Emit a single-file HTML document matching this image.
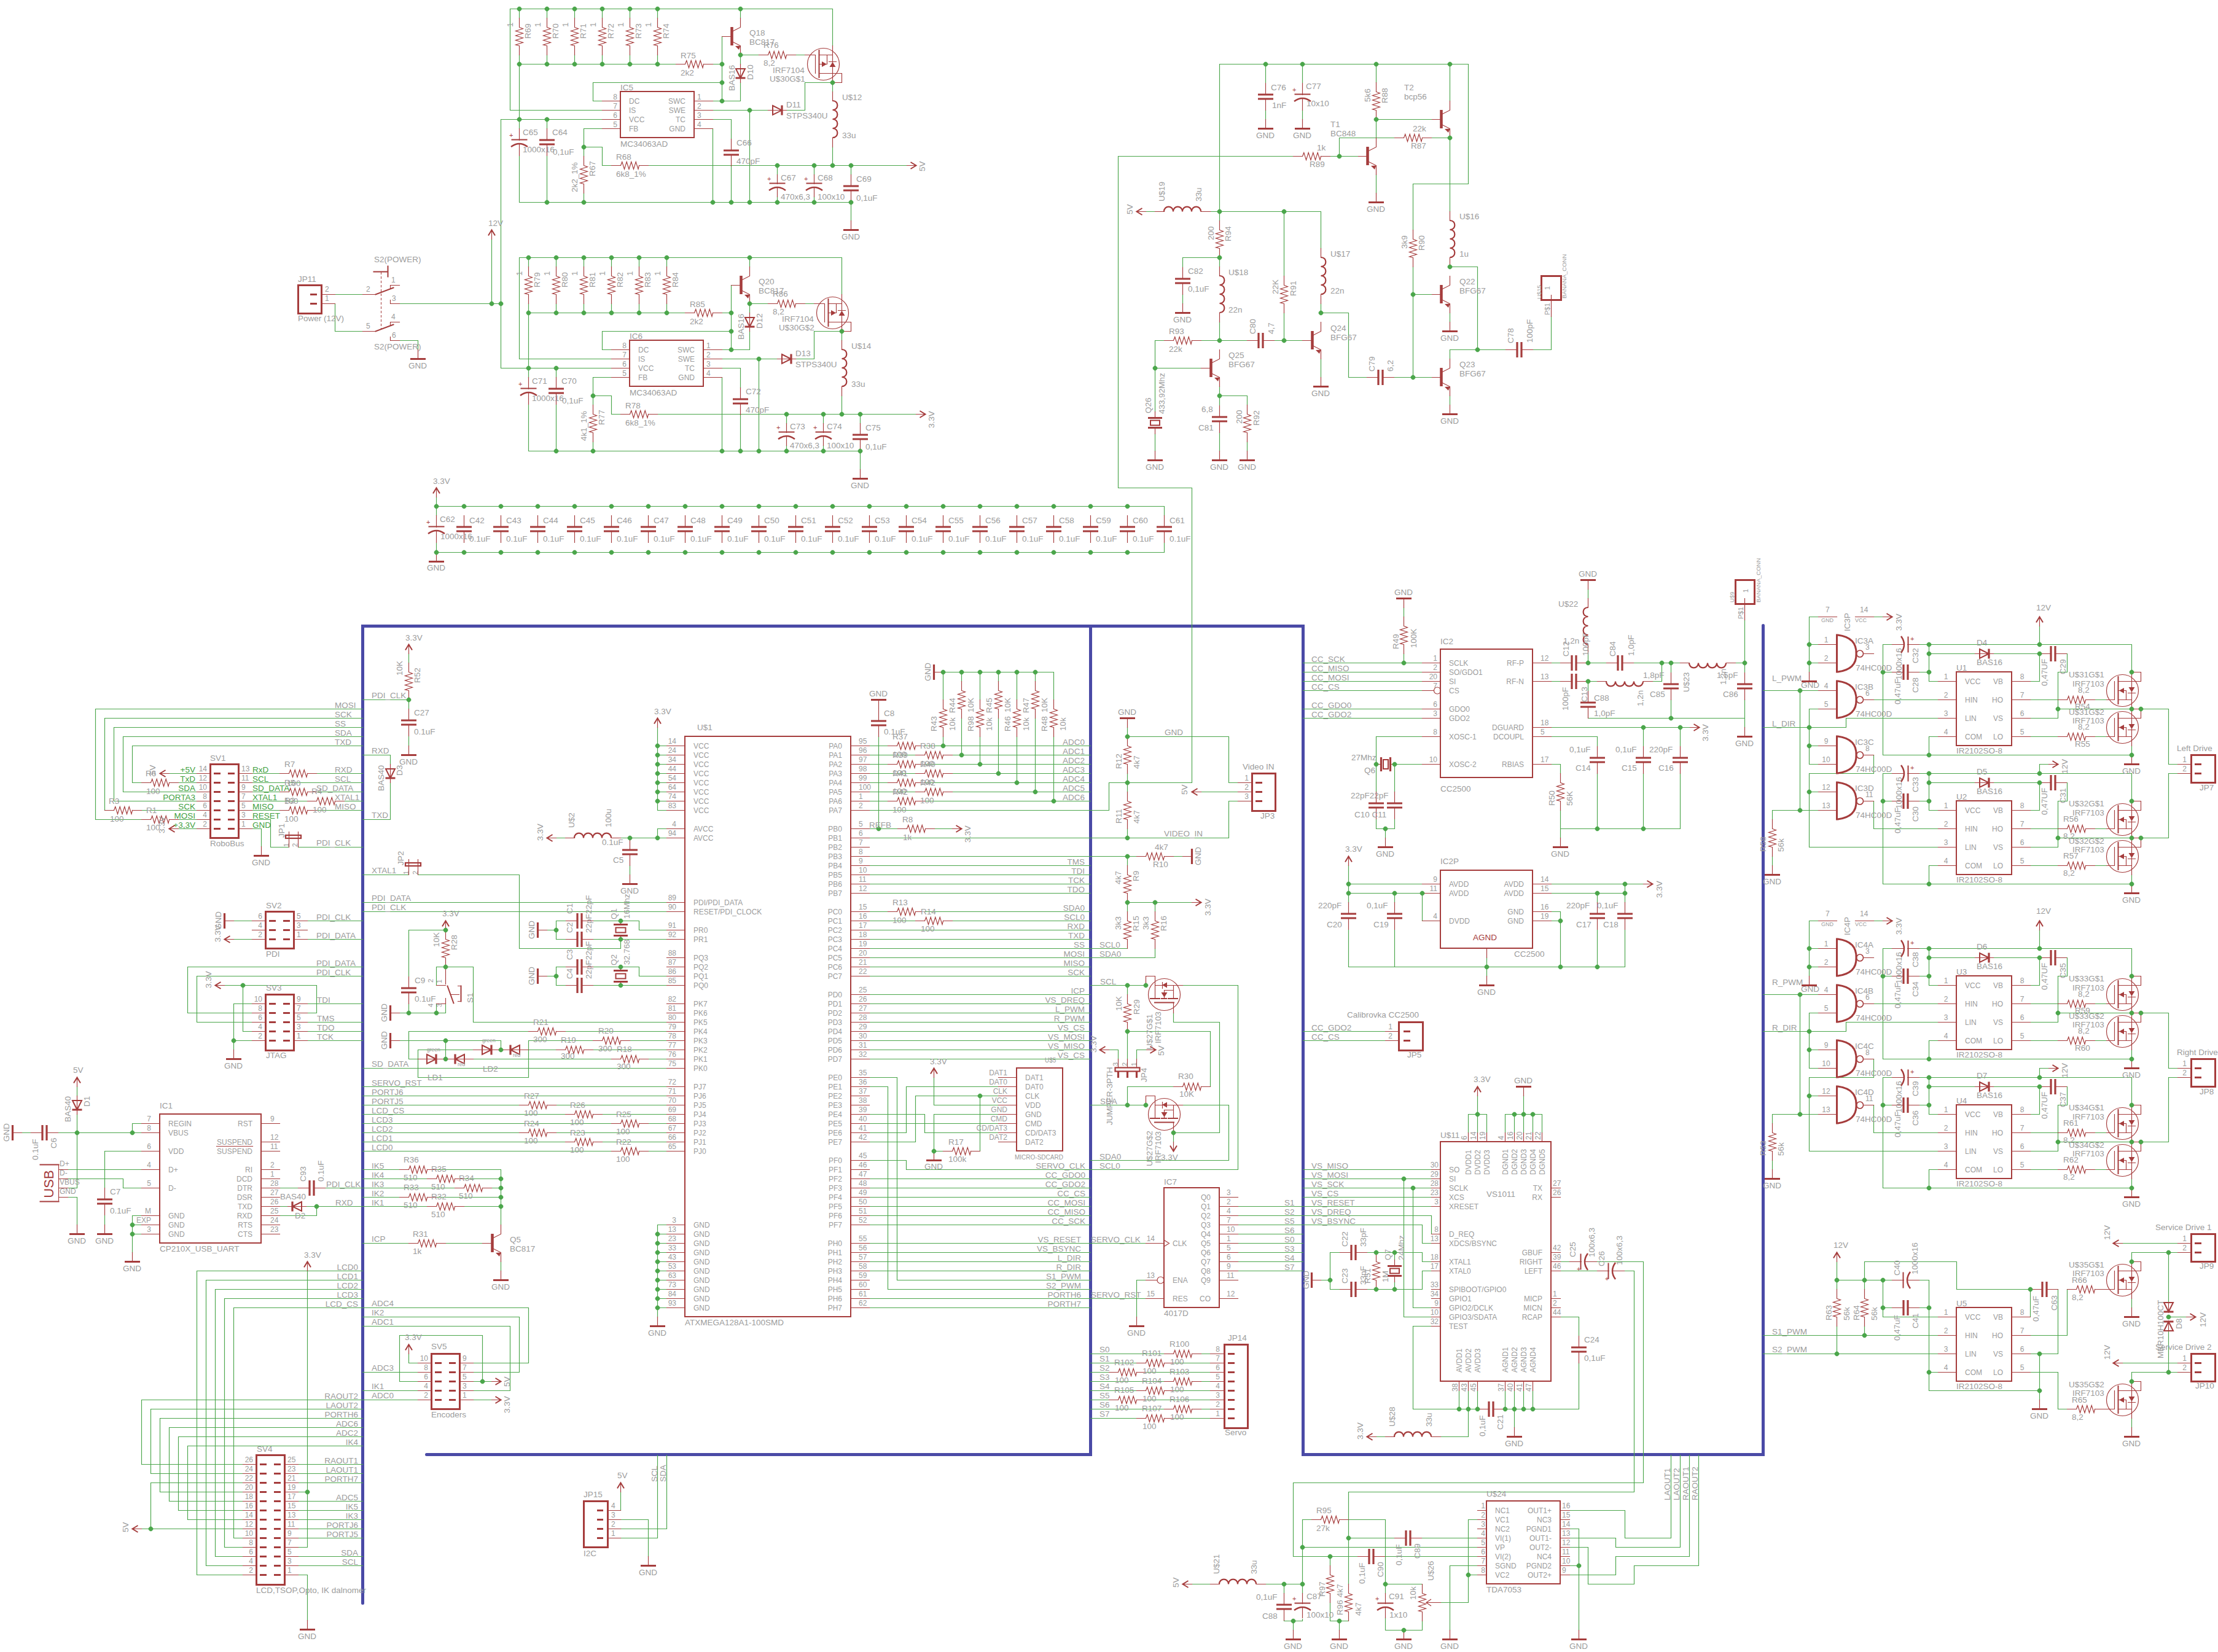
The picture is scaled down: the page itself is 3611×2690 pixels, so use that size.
<!DOCTYPE html>
<html><head><meta charset="utf-8"><style>
html,body{margin:0;padding:0;background:#fff;}
body{width:3611px;height:2690px;overflow:hidden;}
svg{display:block;}
text{font-family:"Liberation Sans",sans-serif;}
</style></head><body>
<svg width="3611" height="2690" viewBox="0 0 3611 2690">
<g fill="none" stroke-linecap="square">
<path d="M590.5 2610.5L590.5 1019.5L2121.5 1019.5L2121.5 2368.5L2870.5 2368.5L2870.5 1018.5M694.5 2368.5L1775.5 2368.5L1775.5 1019.5" stroke="#4a4aa6" stroke-width="5" stroke-linecap="round"/>
<path d="M830.5 14.5L1355.5 14.5L1355.5 74.5M845.5 14.5L845.5 29.5M845.5 89.5L845.5 104.5M890.5 14.5L890.5 29.5M890.5 89.5L890.5 104.5M935.5 14.5L935.5 29.5M935.5 89.5L935.5 104.5M980.5 14.5L980.5 29.5M980.5 89.5L980.5 104.5M1025.5 14.5L1025.5 29.5M1025.5 89.5L1025.5 104.5M1070.5 14.5L1070.5 29.5M1070.5 89.5L1070.5 104.5M830.5 14.5L830.5 179.5L980.5 179.5M845.5 104.5L1100.5 104.5M1160.5 104.5L1175.5 104.5M845.5 104.5L845.5 209.5M845.5 254.5L845.5 329.5L1385.5 329.5M815.5 194.5L980.5 194.5M890.5 194.5L890.5 209.5M890.5 254.5L890.5 329.5M980.5 164.5L965.5 164.5L965.5 134.5L1175.5 134.5M1175.5 59.5L1175.5 164.5M980.5 209.5L950.5 209.5L950.5 254.5M950.5 314.5L950.5 329.5M950.5 239.5L980.5 239.5L980.5 269.5L995.5 269.5M1055.5 269.5L1476.5 269.5M1160.5 164.5L1205.5 164.5L1205.5 134.5M1160.5 209.5L1160.5 329.5M1160.5 194.5L1190.5 194.5L1190.5 226.5M1190.5 270.5L1190.5 329.5M1160.5 179.5L1250.5 179.5M1220.5 179.5L1220.5 329.5M1280.5 179.5L1310.5 179.5L1310.5 134.5L1355.5 134.5M1205.5 14.5L1205.5 29.5M1205.5 89.5L1235.5 89.5M1205.5 89.5L1205.5 104.5M1205.5 134.5L1205.5 134.5M1295.5 89.5L1310.5 89.5M1355.5 134.5L1355.5 149.5M1355.5 239.5L1355.5 269.5M1265.5 269.5L1265.5 284.5M1265.5 320.5L1265.5 329.5M1325.5 269.5L1325.5 284.5M1325.5 320.5L1325.5 329.5M1385.5 269.5L1385.5 284.5M1385.5 328.5L1385.5 359.5M845.5 419.5L1370.5 419.5L1370.5 479.5M860.5 419.5L860.5 434.5M860.5 494.5L860.5 509.5M905.5 419.5L905.5 434.5M905.5 494.5L905.5 509.5M950.5 419.5L950.5 434.5M950.5 494.5L950.5 509.5M995.5 419.5L995.5 434.5M995.5 494.5L995.5 509.5M1040.5 419.5L1040.5 434.5M1040.5 494.5L1040.5 509.5M1085.5 419.5L1085.5 434.5M1085.5 494.5L1085.5 509.5M845.5 419.5L845.5 584.5L995.5 584.5M860.5 509.5L1115.5 509.5M1175.5 509.5L1190.5 509.5M860.5 509.5L860.5 614.5M860.5 659.5L860.5 734.5L1400.5 734.5M815.5 599.5L995.5 599.5M905.5 599.5L905.5 614.5M905.5 659.5L905.5 734.5M995.5 569.5L980.5 569.5L980.5 539.5L1190.5 539.5M1190.5 464.5L1190.5 569.5M995.5 614.5L965.5 614.5L965.5 659.5M965.5 719.5L965.5 734.5M965.5 644.5L995.5 644.5L995.5 674.5L1010.5 674.5M1070.5 674.5L1491.5 674.5M1175.5 569.5L1220.5 569.5L1220.5 539.5M1175.5 614.5L1175.5 734.5M1175.5 599.5L1205.5 599.5L1205.5 631.5M1205.5 675.5L1205.5 734.5M1175.5 584.5L1265.5 584.5M1235.5 584.5L1235.5 734.5M1295.5 584.5L1325.5 584.5L1325.5 539.5L1370.5 539.5M1220.5 419.5L1220.5 434.5M1220.5 494.5L1250.5 494.5M1220.5 494.5L1220.5 509.5M1220.5 539.5L1220.5 539.5M1310.5 494.5L1325.5 494.5M1370.5 539.5L1370.5 554.5M1370.5 644.5L1370.5 674.5M1280.5 674.5L1280.5 689.5M1280.5 725.5L1280.5 734.5M1340.5 674.5L1340.5 689.5M1340.5 725.5L1340.5 734.5M1400.5 674.5L1400.5 689.5M1400.5 733.5L1400.5 764.5M815.5 194.5L815.5 599.5M650.5 494.5L815.5 494.5M800.5 494.5L800.5 389.5M545.5 479.5L590.5 479.5M545.5 494.5L545.5 539.5L590.5 539.5M650.5 554.5L680.5 554.5L680.5 569.5M710.5 809.5L710.5 824.5L1895.5 824.5L1895.5 839.5M710.5 899.5L1895.5 899.5L1895.5 884.5M710.5 824.5L710.5 839.5M710.5 884.5L710.5 899.5M710.5 899.5L710.5 899.5M320.5 1259.5L275.5 1259.5M320.5 1274.5L290.5 1274.5M230.5 1274.5L215.5 1274.5L215.5 1214.5L590.5 1214.5M320.5 1289.5L200.5 1289.5L200.5 1199.5L590.5 1199.5M320.5 1304.5L185.5 1304.5L185.5 1184.5L590.5 1184.5M320.5 1319.5L230.5 1319.5M170.5 1319.5L170.5 1169.5L590.5 1169.5M320.5 1334.5L290.5 1334.5M230.5 1334.5L155.5 1334.5L155.5 1154.5L590.5 1154.5M320.5 1349.5L290.5 1349.5M410.5 1259.5L455.5 1259.5M515.5 1259.5L590.5 1259.5M410.5 1274.5L590.5 1274.5M410.5 1289.5L455.5 1289.5M515.5 1289.5L590.5 1289.5M410.5 1304.5L500.5 1304.5M560.5 1304.5L590.5 1304.5M410.5 1319.5L455.5 1319.5M515.5 1319.5L590.5 1319.5M410.5 1334.5L440.5 1334.5L440.5 1379.5L470.5 1379.5M485.5 1379.5L590.5 1379.5M410.5 1349.5L425.5 1349.5L425.5 1378.5M665.5 1064.5L665.5 1079.5M665.5 1139.5L665.5 1154.5M590.5 1139.5L665.5 1139.5M665.5 1199.5L665.5 1214.5M590.5 1229.5L635.5 1229.5L635.5 1244.5M635.5 1274.5L635.5 1334.5L590.5 1334.5M1070.5 1184.5L1070.5 1319.5L1085.5 1319.5M1070.5 1214.5L1085.5 1214.5M1070.5 1229.5L1085.5 1229.5M1070.5 1244.5L1085.5 1244.5M1070.5 1259.5L1085.5 1259.5M1070.5 1274.5L1085.5 1274.5M1070.5 1289.5L1085.5 1289.5M1070.5 1304.5L1085.5 1304.5M1085.5 1349.5L1070.5 1349.5L1070.5 1364.5L1085.5 1364.5M1010.5 1364.5L1070.5 1364.5M905.5 1364.5L920.5 1364.5M1025.5 1409.5L1025.5 1424.5M1085.5 1994.5L1070.5 1994.5L1070.5 2144.5M1070.5 2009.5L1085.5 2009.5M1070.5 2024.5L1085.5 2024.5M1070.5 2039.5L1085.5 2039.5M1070.5 2054.5L1085.5 2054.5M1070.5 2069.5L1085.5 2069.5M1070.5 2084.5L1085.5 2084.5M1070.5 2099.5L1085.5 2099.5M1070.5 2114.5L1085.5 2114.5M1070.5 2129.5L1085.5 2129.5M1415.5 1214.5L1445.5 1214.5M1505.5 1214.5L1775.5 1214.5M1415.5 1229.5L1490.5 1229.5M1550.5 1229.5L1775.5 1229.5M1415.5 1244.5L1445.5 1244.5M1505.5 1244.5L1775.5 1244.5M1415.5 1259.5L1490.5 1259.5M1550.5 1259.5L1775.5 1259.5M1415.5 1274.5L1445.5 1274.5M1505.5 1274.5L1775.5 1274.5M1415.5 1289.5L1490.5 1289.5M1550.5 1289.5L1775.5 1289.5M1415.5 1304.5L1445.5 1304.5M1505.5 1304.5L1775.5 1304.5M1415.5 1319.5L1775.5 1319.5M1535.5 1094.5L1715.5 1094.5M1535.5 1094.5L1535.5 1139.5M1535.5 1199.5L1535.5 1214.5M1565.5 1094.5L1565.5 1109.5M1565.5 1169.5L1565.5 1229.5M1595.5 1094.5L1595.5 1139.5M1595.5 1199.5L1595.5 1244.5M1625.5 1094.5L1625.5 1109.5M1625.5 1169.5L1625.5 1259.5M1655.5 1094.5L1655.5 1139.5M1655.5 1199.5L1655.5 1274.5M1685.5 1094.5L1685.5 1109.5M1685.5 1169.5L1685.5 1289.5M1715.5 1094.5L1715.5 1139.5M1715.5 1199.5L1715.5 1304.5M1430.5 1199.5L1430.5 1349.5M1415.5 1349.5L1461.5 1349.5M1521.5 1349.5L1550.5 1349.5M1415.5 1364.5L1775.5 1364.5M1415.5 1394.5L1775.5 1394.5M1415.5 1409.5L1775.5 1409.5M1415.5 1424.5L1775.5 1424.5M1415.5 1439.5L1775.5 1439.5M1415.5 1454.5L1775.5 1454.5M1415.5 1484.5L1445.5 1484.5M1505.5 1484.5L1775.5 1484.5M1415.5 1499.5L1490.5 1499.5M1550.5 1499.5L1775.5 1499.5M1415.5 1514.5L1775.5 1514.5M1415.5 1529.5L1775.5 1529.5M1415.5 1544.5L1775.5 1544.5M1415.5 1559.5L1775.5 1559.5M1415.5 1574.5L1775.5 1574.5M1415.5 1589.5L1775.5 1589.5M1415.5 1619.5L1775.5 1619.5M1415.5 1634.5L1775.5 1634.5M1415.5 1649.5L1775.5 1649.5M1415.5 1664.5L1775.5 1664.5M1415.5 1679.5L1775.5 1679.5M1415.5 1694.5L1775.5 1694.5M1415.5 1709.5L1775.5 1709.5M1415.5 1724.5L1775.5 1724.5M1415.5 1754.5L1460.5 1754.5L1460.5 2084.5L1775.5 2084.5M1415.5 1769.5L1445.5 1769.5L1445.5 2099.5L1775.5 2099.5M1415.5 1814.5L1505.5 1814.5L1505.5 1844.5L1625.5 1844.5M1415.5 1829.5L1625.5 1829.5M1415.5 1844.5L1475.5 1844.5L1475.5 1769.5L1625.5 1769.5M1415.5 1859.5L1490.5 1859.5L1490.5 1784.5L1625.5 1784.5M1625.5 1799.5L1520.5 1799.5L1520.5 1754.5M1625.5 1814.5L1520.5 1814.5M1520.5 1814.5L1520.5 1874.5L1535.5 1874.5M1595.5 1874.5L1595.5 1784.5M1415.5 1889.5L1475.5 1889.5L1475.5 1904.5L1775.5 1904.5M1415.5 1919.5L1775.5 1919.5M1415.5 1934.5L1775.5 1934.5M1415.5 1949.5L1775.5 1949.5M1415.5 1964.5L1775.5 1964.5M1415.5 1979.5L1775.5 1979.5M1415.5 1994.5L1775.5 1994.5M1415.5 2024.5L1775.5 2024.5M1415.5 2039.5L1775.5 2039.5M1415.5 2054.5L1775.5 2054.5M1415.5 2069.5L1775.5 2069.5M1415.5 2114.5L1775.5 2114.5M1415.5 2129.5L1775.5 2129.5M590.5 1424.5L665.5 1424.5M680.5 1424.5L845.5 1424.5L845.5 1544.5L1010.5 1544.5L1010.5 1529.5M590.5 1469.5L1085.5 1469.5M590.5 1484.5L1085.5 1484.5M1085.5 1514.5L1040.5 1514.5L1040.5 1499.5L965.5 1499.5M1085.5 1529.5L965.5 1529.5M920.5 1499.5L905.5 1499.5L905.5 1529.5L920.5 1529.5M890.5 1514.5L905.5 1514.5M1085.5 1589.5L1040.5 1589.5L1040.5 1574.5L965.5 1574.5M1085.5 1604.5L965.5 1604.5M920.5 1574.5L905.5 1574.5L905.5 1604.5L920.5 1604.5M890.5 1589.5L905.5 1589.5M725.5 1514.5L665.5 1514.5L665.5 1589.5M665.5 1634.5L665.5 1649.5M650.5 1649.5L725.5 1649.5L725.5 1634.5M725.5 1574.5L710.5 1574.5L710.5 1604.5M725.5 1574.5L770.5 1574.5L770.5 1664.5L1085.5 1664.5M710.5 1649.5L710.5 1634.5M650.5 1694.5L815.5 1694.5L815.5 1709.5M725.5 1694.5L725.5 1724.5M590.5 1739.5L1085.5 1739.5M665.5 1679.5L665.5 1724.5L680.5 1724.5M770.5 1724.5L995.5 1724.5M1055.5 1724.5L1085.5 1724.5M665.5 1679.5L860.5 1679.5M920.5 1679.5L1085.5 1679.5M680.5 1709.5L770.5 1709.5M680.5 1709.5L680.5 1754.5L860.5 1754.5L860.5 1694.5L965.5 1694.5M1025.5 1694.5L1085.5 1694.5M860.5 1709.5L905.5 1709.5M965.5 1709.5L1085.5 1709.5M590.5 1769.5L1085.5 1769.5M590.5 1784.5L1085.5 1784.5M590.5 1799.5L845.5 1799.5M905.5 1799.5L1085.5 1799.5M590.5 1814.5L920.5 1814.5M980.5 1814.5L1085.5 1814.5M590.5 1829.5L995.5 1829.5M1055.5 1829.5L1085.5 1829.5M590.5 1844.5L845.5 1844.5M905.5 1844.5L1085.5 1844.5M590.5 1859.5L920.5 1859.5M980.5 1859.5L1085.5 1859.5M590.5 1874.5L995.5 1874.5M1055.5 1874.5L1085.5 1874.5M590.5 1904.5L650.5 1904.5M710.5 1904.5L815.5 1904.5M590.5 1919.5L695.5 1919.5M755.5 1919.5L815.5 1919.5M590.5 1934.5L740.5 1934.5M800.5 1934.5L815.5 1934.5M590.5 1949.5L650.5 1949.5M710.5 1949.5L815.5 1949.5M590.5 1964.5L695.5 1964.5M755.5 1964.5L815.5 1964.5M815.5 1904.5L815.5 1994.5M590.5 2024.5L665.5 2024.5M725.5 2024.5L785.5 2024.5M815.5 2054.5L815.5 2069.5M590.5 2129.5L860.5 2129.5L860.5 2219.5L770.5 2219.5M590.5 2144.5L845.5 2144.5L845.5 2234.5L770.5 2234.5M590.5 2159.5L830.5 2159.5L830.5 2264.5L770.5 2264.5M680.5 2219.5L665.5 2219.5L665.5 2204.5M590.5 2234.5L680.5 2234.5M650.5 2174.5L785.5 2174.5L785.5 2249.5M650.5 2174.5L650.5 2249.5L680.5 2249.5M770.5 2249.5L800.5 2249.5M590.5 2264.5L680.5 2264.5M590.5 2279.5L680.5 2279.5M770.5 2279.5L800.5 2279.5M380.5 1499.5L410.5 1499.5M380.5 1529.5L410.5 1529.5M500.5 1499.5L590.5 1499.5M500.5 1529.5L590.5 1529.5M590.5 1574.5L305.5 1574.5L305.5 1649.5L410.5 1649.5M590.5 1589.5L320.5 1589.5L320.5 1664.5L410.5 1664.5M365.5 1604.5L515.5 1604.5L515.5 1649.5L500.5 1649.5M395.5 1604.5L395.5 1679.5L410.5 1679.5M410.5 1634.5L380.5 1634.5L380.5 1709.5M380.5 1694.5L410.5 1694.5M500.5 1634.5L590.5 1634.5M500.5 1664.5L590.5 1664.5M500.5 1679.5L590.5 1679.5M500.5 1694.5L590.5 1694.5M230.5 1829.5L215.5 1829.5L215.5 1844.5M230.5 1844.5L95.5 1844.5M50.5 1844.5L35.5 1844.5M125.5 1769.5L125.5 1784.5M125.5 1814.5L125.5 1934.5L110.5 1934.5M110.5 1904.5L230.5 1904.5M110.5 1919.5L200.5 1919.5L200.5 1934.5L230.5 1934.5M110.5 1949.5L125.5 1949.5L125.5 1994.5M230.5 1874.5L170.5 1874.5L170.5 1934.5M170.5 1979.5L170.5 1994.5M230.5 1979.5L215.5 1979.5L215.5 2039.5M215.5 1994.5L230.5 1994.5M215.5 2009.5L230.5 2009.5M455.5 1934.5L485.5 1934.5M530.5 1934.5L590.5 1934.5M455.5 1964.5L468.5 1964.5M498.5 1964.5L590.5 1964.5M455.5 1979.5L515.5 1979.5L515.5 1964.5M500.5 2069.5L500.5 2519.5L485.5 2519.5M485.5 2429.5L500.5 2429.5M590.5 2069.5L320.5 2069.5L320.5 2564.5L395.5 2564.5M590.5 2084.5L335.5 2084.5L335.5 2549.5L395.5 2549.5M590.5 2099.5L350.5 2099.5L350.5 2534.5L395.5 2534.5M590.5 2114.5L365.5 2114.5L365.5 2519.5L395.5 2519.5M590.5 2129.5L380.5 2129.5L380.5 2504.5L395.5 2504.5M590.5 2279.5L230.5 2279.5L230.5 2384.5L395.5 2384.5M590.5 2294.5L245.5 2294.5L245.5 2399.5L395.5 2399.5M590.5 2309.5L260.5 2309.5L260.5 2429.5L395.5 2429.5M590.5 2324.5L275.5 2324.5L275.5 2444.5L395.5 2444.5M590.5 2339.5L290.5 2339.5L290.5 2459.5L395.5 2459.5M590.5 2354.5L305.5 2354.5L305.5 2474.5L395.5 2474.5M395.5 2414.5L245.5 2414.5L245.5 2489.5L395.5 2489.5M245.5 2489.5L230.5 2489.5M485.5 2384.5L590.5 2384.5M485.5 2399.5L590.5 2399.5M485.5 2414.5L590.5 2414.5M485.5 2444.5L590.5 2444.5M485.5 2459.5L590.5 2459.5M485.5 2474.5L590.5 2474.5M485.5 2489.5L590.5 2489.5M485.5 2504.5L590.5 2504.5M485.5 2534.5L590.5 2534.5M485.5 2549.5L590.5 2549.5M485.5 2564.5L500.5 2564.5L500.5 2638.5M1985.5 344.5L1985.5 104.5L2390.5 104.5L2390.5 299.5L2300.5 299.5L2300.5 374.5M2060.5 104.5L2060.5 134.5M2060.5 179.5L2060.5 194.5M2120.5 104.5L2120.5 134.5M2120.5 179.5L2120.5 194.5M2240.5 104.5L2240.5 134.5M2240.5 194.5L2331.5 194.5M2360.5 164.5L2360.5 104.5M2240.5 194.5L2240.5 224.5M2240.5 284.5L2240.5 314.5M1820.5 794.5L1820.5 254.5L2105.5 254.5M2165.5 254.5L2211.5 254.5M2180.5 254.5L2180.5 224.5L2270.5 224.5M2330.5 224.5L2360.5 224.5M2360.5 224.5L2360.5 344.5M1865.5 344.5L1880.5 344.5M1970.5 344.5L2150.5 344.5L2150.5 404.5M1985.5 344.5L1985.5 359.5M1985.5 419.5L1925.5 419.5L1925.5 434.5M1925.5 479.5L1925.5 494.5M1985.5 419.5L1985.5 434.5M1985.5 524.5L1985.5 554.5M2090.5 344.5L2090.5 449.5M2090.5 509.5L2090.5 554.5M2150.5 494.5L2150.5 509.5M1880.5 599.5L1880.5 554.5L1895.5 554.5M1955.5 554.5L2030.5 554.5M2074.5 554.5L2120.5 554.5M2150.5 584.5L2150.5 614.5M2150.5 509.5L2195.5 509.5L2195.5 614.5L2225.5 614.5M2269.5 614.5L2331.5 614.5M2300.5 434.5L2300.5 614.5M2300.5 479.5L2331.5 479.5M2360.5 509.5L2360.5 524.5M2360.5 644.5L2360.5 659.5M2360.5 434.5L2405.5 434.5L2405.5 569.5M2360.5 584.5L2360.5 569.5L2450.5 569.5M2495.5 569.5L2525.5 569.5L2525.5 515.5M1880.5 599.5L1955.5 599.5M1985.5 629.5L1985.5 659.5M1985.5 644.5L2030.5 644.5L2030.5 659.5M2030.5 719.5L2030.5 734.5M1985.5 704.5L1985.5 734.5M1880.5 599.5L1880.5 670.5M1880.5 706.5L1880.5 734.5M1820.5 794.5L1940.5 794.5L1940.5 1190.5M2121.5 1079.5L2315.5 1079.5M2121.5 1094.5L2315.5 1094.5M2121.5 1109.5L2315.5 1109.5M2121.5 1124.5L2315.5 1124.5M2121.5 1154.5L2315.5 1154.5M2121.5 1169.5L2315.5 1169.5M2285.5 989.5L2285.5 1004.5M2285.5 1064.5L2285.5 1079.5M2315.5 1199.5L2240.5 1199.5L2240.5 1289.5M2315.5 1244.5L2270.5 1244.5L2270.5 1289.5M2240.5 1334.5L2240.5 1349.5L2270.5 1349.5L2270.5 1334.5M2255.5 1349.5L2255.5 1364.5M2525.5 1079.5L2540.5 1079.5M2585.5 1079.5L2615.5 1079.5M2660.5 1079.5L2735.5 1079.5M2825.5 1079.5L2840.5 1079.5M2525.5 1109.5L2540.5 1109.5M2585.5 1109.5L2600.5 1109.5M2690.5 1109.5L2705.5 1109.5L2705.5 1079.5M2585.5 959.5L2585.5 974.5M2585.5 1064.5L2585.5 1079.5M2585.5 1109.5L2585.5 1124.5M2585.5 1169.5L2840.5 1169.5M2720.5 1079.5L2720.5 1094.5M2720.5 1139.5L2720.5 1169.5M2840.5 1079.5L2840.5 1094.5M2840.5 1139.5L2840.5 1184.5M2840.5 1079.5L2840.5 1009.5M2525.5 1184.5L2751.5 1184.5M2525.5 1199.5L2600.5 1199.5L2600.5 1214.5M2600.5 1259.5L2600.5 1349.5M2675.5 1184.5L2675.5 1214.5M2675.5 1259.5L2675.5 1349.5M2735.5 1184.5L2735.5 1214.5M2735.5 1259.5L2735.5 1349.5M2525.5 1244.5L2540.5 1244.5L2540.5 1259.5M2540.5 1319.5L2540.5 1364.5M2540.5 1349.5L2735.5 1349.5M2420.5 1559.5L2420.5 1589.5M2195.5 1409.5L2195.5 1469.5M2195.5 1439.5L2315.5 1439.5M2195.5 1454.5L2315.5 1454.5L2315.5 1499.5M2270.5 1454.5L2270.5 1469.5M2195.5 1514.5L2195.5 1574.5L2645.5 1574.5M2270.5 1514.5L2270.5 1574.5M2525.5 1439.5L2675.5 1439.5M2525.5 1454.5L2645.5 1454.5M2645.5 1439.5L2645.5 1469.5M2600.5 1454.5L2600.5 1469.5M2600.5 1514.5L2600.5 1574.5M2645.5 1514.5L2645.5 1574.5M2525.5 1484.5L2540.5 1484.5L2540.5 1574.5M2525.5 1499.5L2540.5 1499.5M2121.5 1679.5L2255.5 1679.5M2121.5 1694.5L2255.5 1694.5M2390.5 1844.5L2390.5 1814.5L2420.5 1814.5L2420.5 1844.5M2405.5 1844.5L2405.5 1784.5M2450.5 1844.5L2450.5 1814.5L2510.5 1814.5L2510.5 1844.5M2465.5 1844.5L2465.5 1814.5M2480.5 1844.5L2480.5 1814.5M2495.5 1844.5L2495.5 1814.5M2480.5 1814.5L2480.5 1784.5M2121.5 1904.5L2330.5 1904.5M2121.5 1919.5L2330.5 1919.5M2121.5 1934.5L2330.5 1934.5M2121.5 1949.5L2330.5 1949.5M2121.5 1964.5L2330.5 1964.5M2121.5 1979.5L2330.5 1979.5L2330.5 2009.5M2121.5 1994.5L2315.5 1994.5L2315.5 2024.5L2330.5 2024.5M2300.5 1934.5L2300.5 2129.5L2330.5 2129.5M2285.5 1919.5L2285.5 2144.5L2330.5 2144.5M2330.5 2054.5L2315.5 2054.5L2315.5 2039.5L2225.5 2039.5M2180.5 2039.5L2165.5 2039.5L2165.5 2099.5L2180.5 2099.5M2225.5 2099.5L2315.5 2099.5L2315.5 2069.5L2330.5 2069.5M2150.5 2084.5L2165.5 2084.5M2270.5 2039.5L2270.5 2051.5M2270.5 2087.5L2270.5 2099.5M2540.5 2054.5L2555.5 2054.5M2599.5 2054.5L2675.5 2054.5M2540.5 2069.5L2600.5 2069.5M2644.5 2069.5L2660.5 2069.5M2330.5 2159.5L2300.5 2159.5L2300.5 2294.5L2405.5 2294.5M2450.5 2294.5L2570.5 2294.5L2570.5 2219.5M2570.5 2174.5L2570.5 2144.5L2540.5 2144.5M2375.5 2264.5L2375.5 2294.5M2390.5 2264.5L2390.5 2294.5M2405.5 2264.5L2405.5 2294.5M2450.5 2264.5L2450.5 2294.5M2465.5 2264.5L2465.5 2294.5M2480.5 2264.5L2480.5 2294.5M2495.5 2264.5L2495.5 2294.5M2465.5 2294.5L2465.5 2324.5M2390.5 2294.5L2390.5 2339.5L2345.5 2339.5M2240.5 2339.5L2255.5 2339.5M1835.5 1184.5L1835.5 1199.5M1835.5 1199.5L2000.5 1199.5L2000.5 1274.5L2015.5 1274.5M1835.5 1259.5L1835.5 1289.5M1835.5 1274.5L1805.5 1274.5L1805.5 1319.5L1775.5 1319.5M1835.5 1274.5L1940.5 1274.5L1940.5 1190.5M1835.5 1349.5L1835.5 1364.5M1775.5 1364.5L2000.5 1364.5L2000.5 1304.5L2015.5 1304.5M2015.5 1289.5L1955.5 1289.5M1775.5 1394.5L1850.5 1394.5M1910.5 1394.5L1925.5 1394.5M1835.5 1394.5L1835.5 1409.5M1835.5 1469.5L1835.5 1484.5M1835.5 1469.5L1940.5 1469.5M1880.5 1469.5L1880.5 1484.5M1775.5 1544.5L1835.5 1544.5M1880.5 1544.5L1880.5 1559.5L1775.5 1559.5M1775.5 1604.5L1865.5 1604.5M1925.5 1604.5L2015.5 1604.5L2015.5 1904.5L1775.5 1904.5M1910.5 1649.5L1910.5 1664.5L1985.5 1664.5L1985.5 1844.5L1910.5 1844.5M1835.5 1604.5L1835.5 1619.5M1835.5 1679.5L1835.5 1724.5M1835.5 1679.5L1970.5 1679.5L1970.5 1769.5M1910.5 1769.5L1835.5 1769.5L1835.5 1799.5M1820.5 1724.5L1820.5 1709.5L1805.5 1709.5M1850.5 1724.5L1850.5 1709.5L1866.5 1709.5M1775.5 1799.5L1865.5 1799.5M1925.5 1799.5L2000.5 1799.5L2000.5 1889.5L1775.5 1889.5M1910.5 1844.5L1910.5 1859.5M2015.5 1964.5L2121.5 1964.5M2015.5 1979.5L2121.5 1979.5M2015.5 1994.5L2121.5 1994.5M2015.5 2009.5L2121.5 2009.5M2015.5 2024.5L2121.5 2024.5M2015.5 2039.5L2121.5 2039.5M2015.5 2054.5L2121.5 2054.5M2015.5 2069.5L2121.5 2069.5M1775.5 2024.5L1865.5 2024.5M1775.5 2114.5L1865.5 2114.5M1865.5 2084.5L1850.5 2084.5L1850.5 2144.5M1775.5 2204.5L1895.5 2204.5M1955.5 2204.5L1970.5 2204.5M1775.5 2219.5L1850.5 2219.5M1910.5 2219.5L1970.5 2219.5M1775.5 2234.5L1805.5 2234.5M1865.5 2234.5L1970.5 2234.5M1775.5 2249.5L1895.5 2249.5M1955.5 2249.5L1970.5 2249.5M1775.5 2264.5L1850.5 2264.5M1910.5 2264.5L1970.5 2264.5M1775.5 2279.5L1805.5 2279.5M1865.5 2279.5L1970.5 2279.5M1775.5 2294.5L1895.5 2294.5M1955.5 2294.5L1970.5 2294.5M1775.5 2309.5L1850.5 2309.5M1910.5 2309.5L1970.5 2309.5M1010.5 2459.5L1010.5 2429.5M1010.5 2474.5L1055.5 2474.5L1055.5 2534.5M1010.5 2489.5L1085.5 2489.5L1085.5 2369.5M1010.5 2504.5L1070.5 2504.5L1070.5 2369.5M2660.5 2069.5L2660.5 2429.5L2195.5 2429.5L2195.5 2579.5M2195.5 2504.5L2270.5 2504.5M2314.5 2504.5L2405.5 2504.5M2675.5 2054.5L2675.5 2414.5L2105.5 2414.5L2105.5 2534.5L2210.5 2534.5M2254.5 2534.5L2405.5 2534.5M2135.5 2474.5L2120.5 2474.5L2120.5 2594.5M2195.5 2474.5L2255.5 2474.5L2255.5 2594.5M2120.5 2519.5L2405.5 2519.5M1940.5 2579.5L1970.5 2579.5M2060.5 2579.5L2120.5 2579.5M2090.5 2579.5L2090.5 2594.5M2090.5 2638.5L2090.5 2639.5L2120.5 2639.5L2120.5 2636.5M2105.5 2639.5L2105.5 2654.5M2165.5 2534.5L2165.5 2549.5M2165.5 2609.5L2165.5 2639.5L2195.5 2639.5L2195.5 2639.5M2195.5 2579.5L2195.5 2579.5M2180.5 2639.5L2180.5 2654.5M2255.5 2594.5L2255.5 2594.5M2255.5 2634.5L2255.5 2654.5L2315.5 2654.5L2315.5 2639.5M2285.5 2654.5L2285.5 2654.5M2255.5 2579.5L2315.5 2579.5M2345.5 2609.5L2390.5 2609.5L2390.5 2474.5L2405.5 2474.5M2390.5 2564.5L2405.5 2564.5M2405.5 2549.5L2360.5 2549.5L2360.5 2654.5M2555.5 2459.5L2645.5 2459.5L2645.5 2504.5L2720.5 2504.5L2720.5 2369.5M2555.5 2489.5L2570.5 2489.5L2570.5 2654.5M2555.5 2504.5L2630.5 2504.5L2630.5 2519.5L2735.5 2519.5L2735.5 2369.5M2555.5 2519.5L2585.5 2519.5L2585.5 2579.5L2660.5 2579.5L2660.5 2549.5L2765.5 2549.5L2765.5 2369.5M2555.5 2549.5L2570.5 2549.5M2555.5 2564.5L2630.5 2564.5L2630.5 2534.5L2750.5 2534.5L2750.5 2369.5M2945.5 1004.5L2960.5 1004.5M3050.5 1004.5L3065.5 1004.5M2945.5 1004.5L2945.5 1094.5M2945.5 1049.5L2960.5 1049.5M2945.5 1079.5L2960.5 1079.5M2870.5 1124.5L2960.5 1124.5M2930.5 1124.5L2930.5 1319.5L2960.5 1319.5M2930.5 1319.5L2885.5 1319.5L2885.5 1334.5M2885.5 1394.5L2885.5 1409.5M2960.5 1154.5L2945.5 1154.5L2945.5 1244.5L2960.5 1244.5M2945.5 1214.5L2960.5 1214.5M2870.5 1184.5L3005.5 1184.5L3005.5 1169.5L3155.5 1169.5M3050.5 1139.5L3155.5 1139.5M3050.5 1229.5L3050.5 1259.5L2945.5 1259.5L2945.5 1379.5L3155.5 1379.5M2945.5 1289.5L2960.5 1289.5M3050.5 1304.5L3050.5 1349.5L3155.5 1349.5M3065.5 1049.5L3080.5 1049.5M3125.5 1049.5L3320.5 1049.5M3320.5 1049.5L3470.5 1049.5L3470.5 1094.5M3065.5 1049.5L3065.5 1229.5L3470.5 1229.5M3065.5 1094.5L3080.5 1094.5M3125.5 1094.5L3140.5 1094.5M3140.5 1049.5L3140.5 1109.5L3155.5 1109.5M3155.5 1199.5L3140.5 1199.5L3140.5 1229.5M3140.5 1064.5L3215.5 1064.5M3245.5 1064.5L3320.5 1064.5M3365.5 1064.5L3365.5 1094.5L3350.5 1094.5L3350.5 1169.5L3305.5 1169.5M3305.5 1109.5L3320.5 1109.5L3320.5 1064.5M3305.5 1139.5L3350.5 1139.5M3410.5 1139.5L3429.5 1139.5M3305.5 1199.5L3350.5 1199.5M3410.5 1199.5L3429.5 1199.5M3350.5 1154.5L3530.5 1154.5M3470.5 1214.5L3470.5 1229.5M3065.5 1259.5L3080.5 1259.5M3125.5 1259.5L3320.5 1259.5M3320.5 1259.5L3470.5 1259.5L3470.5 1304.5M3065.5 1259.5L3065.5 1439.5L3470.5 1439.5M3065.5 1304.5L3080.5 1304.5M3125.5 1304.5L3140.5 1304.5M3140.5 1259.5L3140.5 1319.5L3155.5 1319.5M3155.5 1409.5L3140.5 1409.5L3140.5 1439.5M3140.5 1274.5L3215.5 1274.5M3245.5 1274.5L3320.5 1274.5M3365.5 1274.5L3365.5 1304.5L3350.5 1304.5L3350.5 1379.5L3305.5 1379.5M3305.5 1319.5L3320.5 1319.5L3320.5 1274.5M3305.5 1349.5L3350.5 1349.5M3410.5 1349.5L3429.5 1349.5M3305.5 1409.5L3350.5 1409.5M3410.5 1409.5L3429.5 1409.5M3350.5 1364.5L3530.5 1364.5M3470.5 1424.5L3470.5 1439.5M3320.5 1049.5L3320.5 1019.5M3320.5 1259.5L3320.5 1244.5L3335.5 1244.5M3470.5 1229.5L3470.5 1229.5M3470.5 1439.5L3470.5 1439.5M3530.5 1154.5L3530.5 1244.5L3545.5 1244.5M3530.5 1364.5L3530.5 1259.5L3545.5 1259.5M2945.5 1499.5L2960.5 1499.5M3050.5 1499.5L3065.5 1499.5M2945.5 1499.5L2945.5 1589.5M2945.5 1544.5L2960.5 1544.5M2945.5 1574.5L2960.5 1574.5M2870.5 1619.5L2960.5 1619.5M2930.5 1619.5L2930.5 1814.5L2960.5 1814.5M2930.5 1814.5L2885.5 1814.5L2885.5 1829.5M2885.5 1889.5L2885.5 1904.5M2960.5 1649.5L2945.5 1649.5L2945.5 1739.5L2960.5 1739.5M2945.5 1709.5L2960.5 1709.5M2870.5 1679.5L3005.5 1679.5L3005.5 1664.5L3155.5 1664.5M3050.5 1634.5L3155.5 1634.5M3050.5 1724.5L3050.5 1754.5L2945.5 1754.5L2945.5 1874.5L3155.5 1874.5M2945.5 1784.5L2960.5 1784.5M3050.5 1799.5L3050.5 1844.5L3155.5 1844.5M3065.5 1544.5L3080.5 1544.5M3125.5 1544.5L3320.5 1544.5M3320.5 1544.5L3470.5 1544.5L3470.5 1589.5M3065.5 1544.5L3065.5 1724.5L3470.5 1724.5M3065.5 1589.5L3080.5 1589.5M3125.5 1589.5L3140.5 1589.5M3140.5 1544.5L3140.5 1604.5L3155.5 1604.5M3155.5 1694.5L3140.5 1694.5L3140.5 1724.5M3140.5 1559.5L3215.5 1559.5M3245.5 1559.5L3320.5 1559.5M3365.5 1559.5L3365.5 1589.5L3350.5 1589.5L3350.5 1664.5L3305.5 1664.5M3305.5 1604.5L3320.5 1604.5L3320.5 1559.5M3305.5 1634.5L3350.5 1634.5M3410.5 1634.5L3429.5 1634.5M3305.5 1694.5L3350.5 1694.5M3410.5 1694.5L3429.5 1694.5M3350.5 1649.5L3530.5 1649.5M3470.5 1709.5L3470.5 1724.5M3065.5 1754.5L3080.5 1754.5M3125.5 1754.5L3320.5 1754.5M3320.5 1754.5L3470.5 1754.5L3470.5 1799.5M3065.5 1754.5L3065.5 1934.5L3470.5 1934.5M3065.5 1799.5L3080.5 1799.5M3125.5 1799.5L3140.5 1799.5M3140.5 1754.5L3140.5 1814.5L3155.5 1814.5M3155.5 1904.5L3140.5 1904.5L3140.5 1934.5M3140.5 1769.5L3215.5 1769.5M3245.5 1769.5L3320.5 1769.5M3365.5 1769.5L3365.5 1799.5L3350.5 1799.5L3350.5 1874.5L3305.5 1874.5M3305.5 1814.5L3320.5 1814.5L3320.5 1769.5M3305.5 1844.5L3350.5 1844.5M3410.5 1844.5L3429.5 1844.5M3305.5 1904.5L3350.5 1904.5M3410.5 1904.5L3429.5 1904.5M3350.5 1859.5L3530.5 1859.5M3470.5 1919.5L3470.5 1934.5M3320.5 1544.5L3320.5 1514.5M3320.5 1754.5L3320.5 1739.5L3335.5 1739.5M3470.5 1724.5L3470.5 1724.5M3470.5 1934.5L3470.5 1934.5M3530.5 1649.5L3530.5 1739.5L3545.5 1739.5M3530.5 1859.5L3530.5 1754.5L3545.5 1754.5M2870.5 2174.5L3155.5 2174.5M2870.5 2204.5L3155.5 2204.5M2990.5 2054.5L2990.5 2099.5M2990.5 2159.5L2990.5 2204.5M3035.5 2054.5L3035.5 2099.5M3035.5 2159.5L3035.5 2174.5M2990.5 2084.5L3080.5 2084.5M3125.5 2084.5L3140.5 2084.5L3140.5 2264.5L3320.5 2264.5M3035.5 2054.5L3185.5 2054.5L3185.5 2099.5L3305.5 2099.5M3350.5 2099.5L3350.5 2204.5L3305.5 2204.5M3065.5 2084.5L3065.5 2144.5L3155.5 2144.5M3065.5 2129.5L3080.5 2129.5M3125.5 2129.5L3140.5 2129.5M3155.5 2234.5L3140.5 2234.5M3305.5 2144.5L3305.5 2099.5M3305.5 2174.5L3365.5 2174.5L3365.5 2099.5M3425.5 2099.5L3429.5 2099.5M3305.5 2234.5L3350.5 2234.5L3350.5 2294.5L3365.5 2294.5M3320.5 2204.5L3320.5 2279.5M3470.5 2054.5L3470.5 2039.5L3545.5 2039.5M3470.5 2114.5L3470.5 2129.5M3545.5 2234.5L3470.5 2234.5L3470.5 2249.5M3470.5 2309.5L3470.5 2324.5M3530.5 2039.5L3530.5 2120.5M3530.5 2168.5L3530.5 2234.5M3530.5 2144.5L3559.5 2144.5M3545.5 2024.5L3455.5 2024.5M3545.5 2219.5L3455.5 2219.5" stroke="#4ba64b" stroke-width="1.15"/>
<path d="M845.5 29.5L845.5 44.5M845.5 74.5L845.5 89.5M845.5 44.5L851.5 46.8L839.5 50.5L851.5 54.2L839.5 58L851.5 61.8L839.5 65.5L851.5 69.2L839.5 73L845.5 74.5M890.5 29.5L890.5 44.5M890.5 74.5L890.5 89.5M890.5 44.5L896.5 46.8L884.5 50.5L896.5 54.2L884.5 58L896.5 61.8L884.5 65.5L896.5 69.2L884.5 73L890.5 74.5M935.5 29.5L935.5 44.5M935.5 74.5L935.5 89.5M935.5 44.5L941.5 46.8L929.5 50.5L941.5 54.2L929.5 58L941.5 61.8L929.5 65.5L941.5 69.2L929.5 73L935.5 74.5M980.5 29.5L980.5 44.5M980.5 74.5L980.5 89.5M980.5 44.5L986.5 46.8L974.5 50.5L986.5 54.2L974.5 58L986.5 61.8L974.5 65.5L986.5 69.2L974.5 73L980.5 74.5M1025.5 29.5L1025.5 44.5M1025.5 74.5L1025.5 89.5M1025.5 44.5L1031.5 46.8L1019.5 50.5L1031.5 54.2L1019.5 58L1031.5 61.8L1019.5 65.5L1031.5 69.2L1019.5 73L1025.5 74.5M1070.5 29.5L1070.5 44.5M1070.5 74.5L1070.5 89.5M1070.5 44.5L1076.5 46.8L1064.5 50.5L1076.5 54.2L1064.5 58L1076.5 61.8L1064.5 65.5L1076.5 69.2L1064.5 73L1070.5 74.5M1100.5 104.5L1115.5 104.5M1145.5 104.5L1160.5 104.5M1115.5 104.5L1117.8 98.5L1121.5 110.5L1125.2 98.5L1129 110.5L1132.8 98.5L1136.5 110.5L1140.2 98.5L1144 110.5L1145.5 104.5M845.5 209.5L845.5 228.5M845.5 234.5L845.5 253.5M890.5 209.5L890.5 228.5M890.5 234.5L890.5 253.5M980.5 164.5L1010.5 164.5M980.5 179.5L1010.5 179.5M980.5 194.5L1010.5 194.5M980.5 209.5L1010.5 209.5M1130.5 164.5L1160.5 164.5M1130.5 179.5L1160.5 179.5M1130.5 194.5L1160.5 194.5M1130.5 209.5L1160.5 209.5M995.5 269.5L1010.5 269.5M1040.5 269.5L1055.5 269.5M1010.5 269.5L1012.8 263.5L1016.5 275.5L1020.2 263.5L1024 275.5L1027.8 263.5L1031.5 275.5L1035.2 263.5L1039 275.5L1040.5 269.5M950.5 254.5L950.5 269.5M950.5 299.5L950.5 314.5M950.5 269.5L956.5 271.8L944.5 275.5L956.5 279.2L944.5 283L956.5 286.8L944.5 290.5L956.5 294.2L944.5 298L950.5 299.5M1476.5 269.5L1491.5 269.5M1190.5 226.5L1190.5 245.5M1190.5 251.5L1190.5 270.5M1250.5 179.5L1280.5 179.5M1175.5 59.5L1191.5 59.5M1193.5 50.5L1205.5 44.5L1205.5 29.5M1193.5 68.5L1205.5 74.5L1205.5 89.5M1205.5 104.5L1205.5 134.5M1235.5 89.5L1250.5 89.5M1280.5 89.5L1295.5 89.5M1250.5 89.5L1252.8 83.5L1256.5 95.5L1260.2 83.5L1264 95.5L1267.8 83.5L1271.5 95.5L1275.2 83.5L1279 95.5L1280.5 89.5M1310.5 89.5L1327.5 89.5M1327.5 89.5L1327.5 119.5M1333.5 89.5L1355.5 89.5M1333.5 119.5L1370.5 119.5L1370.5 134.5L1355.5 134.5M1333.5 104.5L1346.5 104.5L1346.5 89.5M1355.5 74.5L1355.5 134.5M1349.5 100.5L1361.5 100.5M1355.5 149.5L1355.5 164.5M1355.5 224.5L1355.5 239.5M1265.5 284.5L1265.5 299.5M1265.5 305.5L1265.5 320.5M1325.5 284.5L1325.5 299.5M1325.5 305.5L1325.5 320.5M1385.5 284.5L1385.5 303.5M1385.5 309.5L1385.5 328.5M1385.5 359.5L1385.5 374.5M860.5 434.5L860.5 449.5M860.5 479.5L860.5 494.5M860.5 449.5L866.5 451.8L854.5 455.5L866.5 459.2L854.5 463L866.5 466.8L854.5 470.5L866.5 474.2L854.5 478L860.5 479.5M905.5 434.5L905.5 449.5M905.5 479.5L905.5 494.5M905.5 449.5L911.5 451.8L899.5 455.5L911.5 459.2L899.5 463L911.5 466.8L899.5 470.5L911.5 474.2L899.5 478L905.5 479.5M950.5 434.5L950.5 449.5M950.5 479.5L950.5 494.5M950.5 449.5L956.5 451.8L944.5 455.5L956.5 459.2L944.5 463L956.5 466.8L944.5 470.5L956.5 474.2L944.5 478L950.5 479.5M995.5 434.5L995.5 449.5M995.5 479.5L995.5 494.5M995.5 449.5L1001.5 451.8L989.5 455.5L1001.5 459.2L989.5 463L1001.5 466.8L989.5 470.5L1001.5 474.2L989.5 478L995.5 479.5M1040.5 434.5L1040.5 449.5M1040.5 479.5L1040.5 494.5M1040.5 449.5L1046.5 451.8L1034.5 455.5L1046.5 459.2L1034.5 463L1046.5 466.8L1034.5 470.5L1046.5 474.2L1034.5 478L1040.5 479.5M1085.5 434.5L1085.5 449.5M1085.5 479.5L1085.5 494.5M1085.5 449.5L1091.5 451.8L1079.5 455.5L1091.5 459.2L1079.5 463L1091.5 466.8L1079.5 470.5L1091.5 474.2L1079.5 478L1085.5 479.5M1115.5 509.5L1130.5 509.5M1160.5 509.5L1175.5 509.5M1130.5 509.5L1132.8 503.5L1136.5 515.5L1140.2 503.5L1144 515.5L1147.8 503.5L1151.5 515.5L1155.2 503.5L1159 515.5L1160.5 509.5M860.5 614.5L860.5 633.5M860.5 639.5L860.5 658.5M905.5 614.5L905.5 633.5M905.5 639.5L905.5 658.5M995.5 569.5L1025.5 569.5M995.5 584.5L1025.5 584.5M995.5 599.5L1025.5 599.5M995.5 614.5L1025.5 614.5M1145.5 569.5L1175.5 569.5M1145.5 584.5L1175.5 584.5M1145.5 599.5L1175.5 599.5M1145.5 614.5L1175.5 614.5M1010.5 674.5L1025.5 674.5M1055.5 674.5L1070.5 674.5M1025.5 674.5L1027.8 668.5L1031.5 680.5L1035.2 668.5L1039 680.5L1042.8 668.5L1046.5 680.5L1050.2 668.5L1054 680.5L1055.5 674.5M965.5 659.5L965.5 674.5M965.5 704.5L965.5 719.5M965.5 674.5L971.5 676.8L959.5 680.5L971.5 684.2L959.5 688L971.5 691.8L959.5 695.5L971.5 699.2L959.5 703L965.5 704.5M1491.5 674.5L1506.5 674.5M1205.5 631.5L1205.5 650.5M1205.5 656.5L1205.5 675.5M1265.5 584.5L1295.5 584.5M1190.5 464.5L1206.5 464.5M1208.5 455.5L1220.5 449.5L1220.5 434.5M1208.5 473.5L1220.5 479.5L1220.5 494.5M1220.5 509.5L1220.5 539.5M1250.5 494.5L1265.5 494.5M1295.5 494.5L1310.5 494.5M1265.5 494.5L1267.8 488.5L1271.5 500.5L1275.2 488.5L1279 500.5L1282.8 488.5L1286.5 500.5L1290.2 488.5L1294 500.5L1295.5 494.5M1325.5 494.5L1342.5 494.5M1342.5 494.5L1342.5 524.5M1348.5 494.5L1370.5 494.5M1348.5 524.5L1385.5 524.5L1385.5 539.5L1370.5 539.5M1348.5 509.5L1361.5 509.5L1361.5 494.5M1370.5 479.5L1370.5 539.5M1364.5 505.5L1376.5 505.5M1370.5 554.5L1370.5 569.5M1370.5 629.5L1370.5 644.5M1280.5 689.5L1280.5 704.5M1280.5 710.5L1280.5 725.5M1340.5 689.5L1340.5 704.5M1340.5 710.5L1340.5 725.5M1400.5 689.5L1400.5 708.5M1400.5 714.5L1400.5 733.5M1400.5 764.5L1400.5 779.5M800.5 374.5L800.5 389.5M523.5 479.5L545.5 479.5M523.5 494.5L545.5 494.5M590.5 479.5L611.5 479.5M590.5 539.5L611.5 539.5M635.5 464.5L650.5 464.5M635.5 464.5L635.5 470.5M635.5 524.5L650.5 524.5M635.5 524.5L635.5 530.5M635.5 494.5L650.5 494.5M635.5 494.5L635.5 488.5M635.5 554.5L650.5 554.5M635.5 554.5L635.5 548.5M680.5 569.5L680.5 584.5M710.5 794.5L710.5 809.5M710.5 839.5L710.5 858.5M710.5 864.5L710.5 883.5M710.5 899.5L710.5 914.5M755.5 839.5L755.5 858.5M755.5 864.5L755.5 883.5M815.5 839.5L815.5 858.5M815.5 864.5L815.5 883.5M875.5 839.5L875.5 858.5M875.5 864.5L875.5 883.5M935.5 839.5L935.5 858.5M935.5 864.5L935.5 883.5M995.5 839.5L995.5 858.5M995.5 864.5L995.5 883.5M1055.5 839.5L1055.5 858.5M1055.5 864.5L1055.5 883.5M1115.5 839.5L1115.5 858.5M1115.5 864.5L1115.5 883.5M1175.5 839.5L1175.5 858.5M1175.5 864.5L1175.5 883.5M1235.5 839.5L1235.5 858.5M1235.5 864.5L1235.5 883.5M1295.5 839.5L1295.5 858.5M1295.5 864.5L1295.5 883.5M1355.5 839.5L1355.5 858.5M1355.5 864.5L1355.5 883.5M1415.5 839.5L1415.5 858.5M1415.5 864.5L1415.5 883.5M1475.5 839.5L1475.5 858.5M1475.5 864.5L1475.5 883.5M1535.5 839.5L1535.5 858.5M1535.5 864.5L1535.5 883.5M1595.5 839.5L1595.5 858.5M1595.5 864.5L1595.5 883.5M1655.5 839.5L1655.5 858.5M1655.5 864.5L1655.5 883.5M1715.5 839.5L1715.5 858.5M1715.5 864.5L1715.5 883.5M1775.5 839.5L1775.5 858.5M1775.5 864.5L1775.5 883.5M1835.5 839.5L1835.5 858.5M1835.5 864.5L1835.5 883.5M1895.5 839.5L1895.5 858.5M1895.5 864.5L1895.5 883.5M320.5 1259.5L342.5 1259.5M388.5 1259.5L410.5 1259.5M320.5 1274.5L342.5 1274.5M388.5 1274.5L410.5 1274.5M320.5 1289.5L342.5 1289.5M388.5 1289.5L410.5 1289.5M320.5 1304.5L342.5 1304.5M388.5 1304.5L410.5 1304.5M320.5 1319.5L342.5 1319.5M388.5 1319.5L410.5 1319.5M320.5 1334.5L342.5 1334.5M388.5 1334.5L410.5 1334.5M320.5 1349.5L342.5 1349.5M388.5 1349.5L410.5 1349.5M260.5 1259.5L275.5 1259.5M230.5 1274.5L245.5 1274.5M275.5 1274.5L290.5 1274.5M245.5 1274.5L247.8 1268.5L251.5 1280.5L255.2 1268.5L259 1280.5L262.8 1268.5L266.5 1280.5L270.2 1268.5L274 1280.5L275.5 1274.5M170.5 1319.5L185.5 1319.5M215.5 1319.5L230.5 1319.5M185.5 1319.5L187.8 1313.5L191.5 1325.5L195.2 1313.5L199 1325.5L202.8 1313.5L206.5 1325.5L210.2 1313.5L214 1325.5L215.5 1319.5M230.5 1334.5L245.5 1334.5M275.5 1334.5L290.5 1334.5M245.5 1334.5L247.8 1328.5L251.5 1340.5L255.2 1328.5L259 1340.5L262.8 1328.5L266.5 1340.5L270.2 1328.5L274 1340.5L275.5 1334.5M275.5 1349.5L290.5 1349.5M455.5 1259.5L470.5 1259.5M500.5 1259.5L515.5 1259.5M470.5 1259.5L472.8 1253.5L476.5 1265.5L480.2 1253.5L484 1265.5L487.8 1253.5L491.5 1265.5L495.2 1253.5L499 1265.5L500.5 1259.5M455.5 1289.5L470.5 1289.5M500.5 1289.5L515.5 1289.5M470.5 1289.5L472.8 1283.5L476.5 1295.5L480.2 1283.5L484 1295.5L487.8 1283.5L491.5 1295.5L495.2 1283.5L499 1295.5L500.5 1289.5M500.5 1304.5L515.5 1304.5M545.5 1304.5L560.5 1304.5M515.5 1304.5L517.8 1298.5L521.5 1310.5L525.2 1298.5L529 1310.5L532.8 1298.5L536.5 1310.5L540.2 1298.5L544 1310.5L545.5 1304.5M455.5 1319.5L470.5 1319.5M500.5 1319.5L515.5 1319.5M470.5 1319.5L472.8 1313.5L476.5 1325.5L480.2 1313.5L484 1325.5L487.8 1313.5L491.5 1325.5L495.2 1313.5L499 1325.5L500.5 1319.5M470.5 1379.5L470.5 1354.5M485.5 1379.5L485.5 1354.5M425.5 1378.5L425.5 1393.5M665.5 1049.5L665.5 1064.5M665.5 1079.5L665.5 1094.5M665.5 1124.5L665.5 1139.5M665.5 1094.5L671.5 1096.8L659.5 1100.5L671.5 1104.2L659.5 1108L671.5 1111.8L659.5 1115.5L671.5 1119.2L659.5 1123L665.5 1124.5M665.5 1154.5L665.5 1173.5M665.5 1179.5L665.5 1198.5M665.5 1214.5L665.5 1229.5M635.5 1244.5L635.5 1274.5M1085.5 1214.5L1115.5 1214.5M1085.5 1229.5L1115.5 1229.5M1085.5 1244.5L1115.5 1244.5M1085.5 1259.5L1115.5 1259.5M1085.5 1274.5L1115.5 1274.5M1085.5 1289.5L1115.5 1289.5M1085.5 1304.5L1115.5 1304.5M1085.5 1319.5L1115.5 1319.5M1085.5 1349.5L1115.5 1349.5M1085.5 1364.5L1115.5 1364.5M1085.5 1469.5L1115.5 1469.5M1085.5 1484.5L1115.5 1484.5M1085.5 1514.5L1115.5 1514.5M1085.5 1529.5L1115.5 1529.5M1085.5 1559.5L1115.5 1559.5M1085.5 1574.5L1115.5 1574.5M1085.5 1589.5L1115.5 1589.5M1085.5 1604.5L1115.5 1604.5M1085.5 1634.5L1115.5 1634.5M1085.5 1649.5L1115.5 1649.5M1085.5 1664.5L1115.5 1664.5M1085.5 1679.5L1115.5 1679.5M1085.5 1694.5L1115.5 1694.5M1085.5 1709.5L1115.5 1709.5M1085.5 1724.5L1115.5 1724.5M1085.5 1739.5L1115.5 1739.5M1085.5 1769.5L1115.5 1769.5M1085.5 1784.5L1115.5 1784.5M1085.5 1799.5L1115.5 1799.5M1085.5 1814.5L1115.5 1814.5M1085.5 1829.5L1115.5 1829.5M1085.5 1844.5L1115.5 1844.5M1085.5 1859.5L1115.5 1859.5M1085.5 1874.5L1115.5 1874.5M1085.5 1994.5L1115.5 1994.5M1085.5 2009.5L1115.5 2009.5M1085.5 2024.5L1115.5 2024.5M1085.5 2039.5L1115.5 2039.5M1085.5 2054.5L1115.5 2054.5M1085.5 2069.5L1115.5 2069.5M1085.5 2084.5L1115.5 2084.5M1085.5 2099.5L1115.5 2099.5M1085.5 2114.5L1115.5 2114.5M1085.5 2129.5L1115.5 2129.5M1385.5 1214.5L1415.5 1214.5M1385.5 1229.5L1415.5 1229.5M1385.5 1244.5L1415.5 1244.5M1385.5 1259.5L1415.5 1259.5M1385.5 1274.5L1415.5 1274.5M1385.5 1289.5L1415.5 1289.5M1385.5 1304.5L1415.5 1304.5M1385.5 1319.5L1415.5 1319.5M1385.5 1349.5L1415.5 1349.5M1385.5 1364.5L1415.5 1364.5M1385.5 1379.5L1415.5 1379.5M1385.5 1394.5L1415.5 1394.5M1385.5 1409.5L1415.5 1409.5M1385.5 1424.5L1415.5 1424.5M1385.5 1439.5L1415.5 1439.5M1385.5 1454.5L1415.5 1454.5M1385.5 1484.5L1415.5 1484.5M1385.5 1499.5L1415.5 1499.5M1385.5 1514.5L1415.5 1514.5M1385.5 1529.5L1415.5 1529.5M1385.5 1544.5L1415.5 1544.5M1385.5 1559.5L1415.5 1559.5M1385.5 1574.5L1415.5 1574.5M1385.5 1589.5L1415.5 1589.5M1385.5 1619.5L1415.5 1619.5M1385.5 1634.5L1415.5 1634.5M1385.5 1649.5L1415.5 1649.5M1385.5 1664.5L1415.5 1664.5M1385.5 1679.5L1415.5 1679.5M1385.5 1694.5L1415.5 1694.5M1385.5 1709.5L1415.5 1709.5M1385.5 1724.5L1415.5 1724.5M1385.5 1754.5L1415.5 1754.5M1385.5 1769.5L1415.5 1769.5M1385.5 1784.5L1415.5 1784.5M1385.5 1799.5L1415.5 1799.5M1385.5 1814.5L1415.5 1814.5M1385.5 1829.5L1415.5 1829.5M1385.5 1844.5L1415.5 1844.5M1385.5 1859.5L1415.5 1859.5M1385.5 1889.5L1415.5 1889.5M1385.5 1904.5L1415.5 1904.5M1385.5 1919.5L1415.5 1919.5M1385.5 1934.5L1415.5 1934.5M1385.5 1949.5L1415.5 1949.5M1385.5 1964.5L1415.5 1964.5M1385.5 1979.5L1415.5 1979.5M1385.5 1994.5L1415.5 1994.5M1385.5 2024.5L1415.5 2024.5M1385.5 2039.5L1415.5 2039.5M1385.5 2054.5L1415.5 2054.5M1385.5 2069.5L1415.5 2069.5M1385.5 2084.5L1415.5 2084.5M1385.5 2099.5L1415.5 2099.5M1385.5 2114.5L1415.5 2114.5M1385.5 2129.5L1415.5 2129.5M1070.5 1169.5L1070.5 1184.5M920.5 1364.5L935.5 1364.5M995.5 1364.5L1010.5 1364.5M890.5 1364.5L905.5 1364.5M1025.5 1365.5L1025.5 1384.5M1025.5 1390.5L1025.5 1409.5M1025.5 1424.5L1025.5 1439.5M1070.5 2144.5L1070.5 2159.5M1445.5 1214.5L1460.5 1214.5M1490.5 1214.5L1505.5 1214.5M1460.5 1214.5L1462.8 1208.5L1466.5 1220.5L1470.2 1208.5L1474 1220.5L1477.8 1208.5L1481.5 1220.5L1485.2 1208.5L1489 1220.5L1490.5 1214.5M1490.5 1229.5L1505.5 1229.5M1535.5 1229.5L1550.5 1229.5M1505.5 1229.5L1507.8 1223.5L1511.5 1235.5L1515.2 1223.5L1519 1235.5L1522.8 1223.5L1526.5 1235.5L1530.2 1223.5L1534 1235.5L1535.5 1229.5M1445.5 1244.5L1460.5 1244.5M1490.5 1244.5L1505.5 1244.5M1460.5 1244.5L1462.8 1238.5L1466.5 1250.5L1470.2 1238.5L1474 1250.5L1477.8 1238.5L1481.5 1250.5L1485.2 1238.5L1489 1250.5L1490.5 1244.5M1490.5 1259.5L1505.5 1259.5M1535.5 1259.5L1550.5 1259.5M1505.5 1259.5L1507.8 1253.5L1511.5 1265.5L1515.2 1253.5L1519 1265.5L1522.8 1253.5L1526.5 1265.5L1530.2 1253.5L1534 1265.5L1535.5 1259.5M1445.5 1274.5L1460.5 1274.5M1490.5 1274.5L1505.5 1274.5M1460.5 1274.5L1462.8 1268.5L1466.5 1280.5L1470.2 1268.5L1474 1280.5L1477.8 1268.5L1481.5 1280.5L1485.2 1268.5L1489 1280.5L1490.5 1274.5M1490.5 1289.5L1505.5 1289.5M1535.5 1289.5L1550.5 1289.5M1505.5 1289.5L1507.8 1283.5L1511.5 1295.5L1515.2 1283.5L1519 1295.5L1522.8 1283.5L1526.5 1295.5L1530.2 1283.5L1534 1295.5L1535.5 1289.5M1445.5 1304.5L1460.5 1304.5M1490.5 1304.5L1505.5 1304.5M1460.5 1304.5L1462.8 1298.5L1466.5 1310.5L1470.2 1298.5L1474 1310.5L1477.8 1298.5L1481.5 1310.5L1485.2 1298.5L1489 1310.5L1490.5 1304.5M1520.5 1094.5L1535.5 1094.5M1535.5 1139.5L1535.5 1154.5M1535.5 1184.5L1535.5 1199.5M1535.5 1154.5L1541.5 1156.8L1529.5 1160.5L1541.5 1164.2L1529.5 1168L1541.5 1171.8L1529.5 1175.5L1541.5 1179.2L1529.5 1183L1535.5 1184.5M1565.5 1109.5L1565.5 1124.5M1565.5 1154.5L1565.5 1169.5M1565.5 1124.5L1571.5 1126.8L1559.5 1130.5L1571.5 1134.2L1559.5 1138L1571.5 1141.8L1559.5 1145.5L1571.5 1149.2L1559.5 1153L1565.5 1154.5M1595.5 1139.5L1595.5 1154.5M1595.5 1184.5L1595.5 1199.5M1595.5 1154.5L1601.5 1156.8L1589.5 1160.5L1601.5 1164.2L1589.5 1168L1601.5 1171.8L1589.5 1175.5L1601.5 1179.2L1589.5 1183L1595.5 1184.5M1625.5 1109.5L1625.5 1124.5M1625.5 1154.5L1625.5 1169.5M1625.5 1124.5L1631.5 1126.8L1619.5 1130.5L1631.5 1134.2L1619.5 1138L1631.5 1141.8L1619.5 1145.5L1631.5 1149.2L1619.5 1153L1625.5 1154.5M1655.5 1139.5L1655.5 1154.5M1655.5 1184.5L1655.5 1199.5M1655.5 1154.5L1661.5 1156.8L1649.5 1160.5L1661.5 1164.2L1649.5 1168L1661.5 1171.8L1649.5 1175.5L1661.5 1179.2L1649.5 1183L1655.5 1184.5M1685.5 1109.5L1685.5 1124.5M1685.5 1154.5L1685.5 1169.5M1685.5 1124.5L1691.5 1126.8L1679.5 1130.5L1691.5 1134.2L1679.5 1138L1691.5 1141.8L1679.5 1145.5L1691.5 1149.2L1679.5 1153L1685.5 1154.5M1715.5 1139.5L1715.5 1154.5M1715.5 1184.5L1715.5 1199.5M1715.5 1154.5L1721.5 1156.8L1709.5 1160.5L1721.5 1164.2L1709.5 1168L1721.5 1171.8L1709.5 1175.5L1721.5 1179.2L1709.5 1183L1715.5 1184.5M1430.5 1139.5L1430.5 1154.5M1430.5 1155.5L1430.5 1174.5M1430.5 1180.5L1430.5 1199.5M1461.5 1349.5L1476.5 1349.5M1506.5 1349.5L1521.5 1349.5M1476.5 1349.5L1478.8 1343.5L1482.5 1355.5L1486.2 1343.5L1490 1355.5L1493.8 1343.5L1497.5 1355.5L1501.2 1343.5L1505 1355.5L1506.5 1349.5M1550.5 1349.5L1565.5 1349.5M1445.5 1484.5L1460.5 1484.5M1490.5 1484.5L1505.5 1484.5M1460.5 1484.5L1462.8 1478.5L1466.5 1490.5L1470.2 1478.5L1474 1490.5L1477.8 1478.5L1481.5 1490.5L1485.2 1478.5L1489 1490.5L1490.5 1484.5M1490.5 1499.5L1505.5 1499.5M1535.5 1499.5L1550.5 1499.5M1505.5 1499.5L1507.8 1493.5L1511.5 1505.5L1515.2 1493.5L1519 1505.5L1522.8 1493.5L1526.5 1505.5L1530.2 1493.5L1534 1505.5L1535.5 1499.5M1520.5 1739.5L1520.5 1754.5M1520.5 1874.5L1520.5 1889.5M1535.5 1874.5L1550.5 1874.5M1580.5 1874.5L1595.5 1874.5M1550.5 1874.5L1552.8 1868.5L1556.5 1880.5L1560.2 1868.5L1564 1880.5L1567.8 1868.5L1571.5 1880.5L1575.2 1868.5L1579 1880.5L1580.5 1874.5M1625.5 1754.5L1655.5 1754.5M1625.5 1769.5L1655.5 1769.5M1625.5 1784.5L1655.5 1784.5M1625.5 1799.5L1655.5 1799.5M1625.5 1814.5L1655.5 1814.5M1625.5 1829.5L1655.5 1829.5M1625.5 1844.5L1655.5 1844.5M1625.5 1859.5L1655.5 1859.5M665.5 1424.5L665.5 1399.5M680.5 1424.5L680.5 1399.5M921.5 1499.5L940.5 1499.5M946.5 1499.5L965.5 1499.5M921.5 1529.5L940.5 1529.5M946.5 1529.5L965.5 1529.5M875.5 1514.5L890.5 1514.5M1010.5 1499.5L1010.5 1504.5M1010.5 1524.5L1010.5 1529.5M921.5 1574.5L940.5 1574.5M946.5 1574.5L965.5 1574.5M921.5 1604.5L940.5 1604.5M946.5 1604.5L965.5 1604.5M875.5 1589.5L890.5 1589.5M1010.5 1574.5L1010.5 1579.5M1010.5 1599.5L1010.5 1604.5M725.5 1499.5L725.5 1514.5M665.5 1590.5L665.5 1609.5M665.5 1615.5L665.5 1634.5M635.5 1649.5L650.5 1649.5M725.5 1514.5L725.5 1529.5M725.5 1559.5L725.5 1574.5M725.5 1529.5L731.5 1531.8L719.5 1535.5L731.5 1539.2L719.5 1543L731.5 1546.8L719.5 1550.5L731.5 1554.2L719.5 1558L725.5 1559.5M725.5 1574.5L725.5 1602.5M710.5 1604.5L725.5 1604.5M710.5 1634.5L725.5 1634.5M725.5 1634.5L725.5 1625.5M733.5 1619.5L745.5 1619.5M745.5 1605.5L750.5 1605.5M745.5 1630.5L750.5 1630.5M635.5 1694.5L650.5 1694.5M680.5 1724.5L724.5 1724.5M726.5 1724.5L770.5 1724.5M995.5 1724.5L1010.5 1724.5M1040.5 1724.5L1055.5 1724.5M1010.5 1724.5L1012.8 1718.5L1016.5 1730.5L1020.2 1718.5L1024 1730.5L1027.8 1718.5L1031.5 1730.5L1035.2 1718.5L1039 1730.5L1040.5 1724.5M860.5 1679.5L875.5 1679.5M905.5 1679.5L920.5 1679.5M875.5 1679.5L877.8 1673.5L881.5 1685.5L885.2 1673.5L889 1685.5L892.8 1673.5L896.5 1685.5L900.2 1673.5L904 1685.5L905.5 1679.5M770.5 1709.5L814.5 1709.5M816.5 1709.5L860.5 1709.5M965.5 1694.5L980.5 1694.5M1010.5 1694.5L1025.5 1694.5M980.5 1694.5L982.8 1688.5L986.5 1700.5L990.2 1688.5L994 1700.5L997.8 1688.5L1001.5 1700.5L1005.2 1688.5L1009 1700.5L1010.5 1694.5M905.5 1709.5L920.5 1709.5M950.5 1709.5L965.5 1709.5M920.5 1709.5L922.8 1703.5L926.5 1715.5L930.2 1703.5L934 1715.5L937.8 1703.5L941.5 1715.5L945.2 1703.5L949 1715.5L950.5 1709.5M845.5 1799.5L860.5 1799.5M890.5 1799.5L905.5 1799.5M860.5 1799.5L862.8 1793.5L866.5 1805.5L870.2 1793.5L874 1805.5L877.8 1793.5L881.5 1805.5L885.2 1793.5L889 1805.5L890.5 1799.5M920.5 1814.5L935.5 1814.5M965.5 1814.5L980.5 1814.5M935.5 1814.5L937.8 1808.5L941.5 1820.5L945.2 1808.5L949 1820.5L952.8 1808.5L956.5 1820.5L960.2 1808.5L964 1820.5L965.5 1814.5M995.5 1829.5L1010.5 1829.5M1040.5 1829.5L1055.5 1829.5M1010.5 1829.5L1012.8 1823.5L1016.5 1835.5L1020.2 1823.5L1024 1835.5L1027.8 1823.5L1031.5 1835.5L1035.2 1823.5L1039 1835.5L1040.5 1829.5M845.5 1844.5L860.5 1844.5M890.5 1844.5L905.5 1844.5M860.5 1844.5L862.8 1838.5L866.5 1850.5L870.2 1838.5L874 1850.5L877.8 1838.5L881.5 1850.5L885.2 1838.5L889 1850.5L890.5 1844.5M920.5 1859.5L935.5 1859.5M965.5 1859.5L980.5 1859.5M935.5 1859.5L937.8 1853.5L941.5 1865.5L945.2 1853.5L949 1865.5L952.8 1853.5L956.5 1865.5L960.2 1853.5L964 1865.5L965.5 1859.5M995.5 1874.5L1010.5 1874.5M1040.5 1874.5L1055.5 1874.5M1010.5 1874.5L1012.8 1868.5L1016.5 1880.5L1020.2 1868.5L1024 1880.5L1027.8 1868.5L1031.5 1880.5L1035.2 1868.5L1039 1880.5L1040.5 1874.5M650.5 1904.5L665.5 1904.5M695.5 1904.5L710.5 1904.5M665.5 1904.5L667.8 1898.5L671.5 1910.5L675.2 1898.5L679 1910.5L682.8 1898.5L686.5 1910.5L690.2 1898.5L694 1910.5L695.5 1904.5M695.5 1919.5L710.5 1919.5M740.5 1919.5L755.5 1919.5M710.5 1919.5L712.8 1913.5L716.5 1925.5L720.2 1913.5L724 1925.5L727.8 1913.5L731.5 1925.5L735.2 1913.5L739 1925.5L740.5 1919.5M740.5 1934.5L755.5 1934.5M785.5 1934.5L800.5 1934.5M755.5 1934.5L757.8 1928.5L761.5 1940.5L765.2 1928.5L769 1940.5L772.8 1928.5L776.5 1940.5L780.2 1928.5L784 1940.5L785.5 1934.5M650.5 1949.5L665.5 1949.5M695.5 1949.5L710.5 1949.5M665.5 1949.5L667.8 1943.5L671.5 1955.5L675.2 1943.5L679 1955.5L682.8 1943.5L686.5 1955.5L690.2 1943.5L694 1955.5L695.5 1949.5M695.5 1964.5L710.5 1964.5M740.5 1964.5L755.5 1964.5M710.5 1964.5L712.8 1958.5L716.5 1970.5L720.2 1958.5L724 1970.5L727.8 1958.5L731.5 1970.5L735.2 1958.5L739 1970.5L740.5 1964.5M785.5 2024.5L801.5 2024.5M803.5 2015.5L815.5 2009.5L815.5 1994.5M803.5 2033.5L815.5 2039.5L815.5 2054.5M665.5 2024.5L680.5 2024.5M710.5 2024.5L725.5 2024.5M680.5 2024.5L682.8 2018.5L686.5 2030.5L690.2 2018.5L694 2030.5L697.8 2018.5L701.5 2030.5L705.2 2018.5L709 2030.5L710.5 2024.5M815.5 2069.5L815.5 2084.5M680.5 2219.5L702.5 2219.5M748.5 2219.5L770.5 2219.5M680.5 2234.5L702.5 2234.5M748.5 2234.5L770.5 2234.5M680.5 2249.5L702.5 2249.5M748.5 2249.5L770.5 2249.5M680.5 2264.5L702.5 2264.5M748.5 2264.5L770.5 2264.5M680.5 2279.5L702.5 2279.5M748.5 2279.5L770.5 2279.5M665.5 2189.5L665.5 2204.5M800.5 2249.5L815.5 2249.5M800.5 2279.5L815.5 2279.5M410.5 1499.5L432.5 1499.5M478.5 1499.5L500.5 1499.5M410.5 1514.5L432.5 1514.5M478.5 1514.5L500.5 1514.5M410.5 1529.5L432.5 1529.5M478.5 1529.5L500.5 1529.5M365.5 1499.5L380.5 1499.5M365.5 1529.5L380.5 1529.5M410.5 1634.5L432.5 1634.5M478.5 1634.5L500.5 1634.5M410.5 1649.5L432.5 1649.5M478.5 1649.5L500.5 1649.5M410.5 1664.5L432.5 1664.5M478.5 1664.5L500.5 1664.5M410.5 1679.5L432.5 1679.5M478.5 1679.5L500.5 1679.5M410.5 1694.5L432.5 1694.5M478.5 1694.5L500.5 1694.5M350.5 1604.5L365.5 1604.5M380.5 1709.5L380.5 1724.5M230.5 1829.5L260.5 1829.5M230.5 1844.5L260.5 1844.5M230.5 1874.5L260.5 1874.5M230.5 1904.5L260.5 1904.5M230.5 1934.5L260.5 1934.5M230.5 1979.5L260.5 1979.5M230.5 1994.5L260.5 1994.5M230.5 2009.5L260.5 2009.5M425.5 1829.5L455.5 1829.5M425.5 1859.5L455.5 1859.5M425.5 1874.5L455.5 1874.5M425.5 1904.5L455.5 1904.5M425.5 1919.5L455.5 1919.5M425.5 1934.5L455.5 1934.5M425.5 1949.5L455.5 1949.5M425.5 1964.5L455.5 1964.5M425.5 1979.5L455.5 1979.5M425.5 1994.5L455.5 1994.5M425.5 2009.5L455.5 2009.5M352.5 1866.5L411.5 1866.5M50.5 1844.5L69.5 1844.5M75.5 1844.5L94.5 1844.5M20.5 1844.5L35.5 1844.5M125.5 1754.5L125.5 1769.5M125.5 1784.5L125.5 1814.5M95.5 1896.5L95.5 1956.5M95.5 1904.5L110.5 1904.5M95.5 1919.5L110.5 1919.5M95.5 1934.5L110.5 1934.5M95.5 1949.5L110.5 1949.5M125.5 1994.5L125.5 2009.5M170.5 1934.5L170.5 1953.5M170.5 1959.5L170.5 1978.5M170.5 1994.5L170.5 2009.5M215.5 2039.5L215.5 2054.5M485.5 1934.5L504.5 1934.5M510.5 1934.5L529.5 1934.5M468.5 1964.5L498.5 1964.5M500.5 2054.5L500.5 2069.5M215.5 2489.5L230.5 2489.5M395.5 2384.5L417.5 2384.5M463.5 2384.5L485.5 2384.5M395.5 2399.5L417.5 2399.5M463.5 2399.5L485.5 2399.5M395.5 2414.5L417.5 2414.5M463.5 2414.5L485.5 2414.5M395.5 2429.5L417.5 2429.5M463.5 2429.5L485.5 2429.5M395.5 2444.5L417.5 2444.5M463.5 2444.5L485.5 2444.5M395.5 2459.5L417.5 2459.5M463.5 2459.5L485.5 2459.5M395.5 2474.5L417.5 2474.5M463.5 2474.5L485.5 2474.5M395.5 2489.5L417.5 2489.5M463.5 2489.5L485.5 2489.5M395.5 2504.5L417.5 2504.5M463.5 2504.5L485.5 2504.5M395.5 2519.5L417.5 2519.5M463.5 2519.5L485.5 2519.5M395.5 2534.5L417.5 2534.5M463.5 2534.5L485.5 2534.5M395.5 2549.5L417.5 2549.5M463.5 2549.5L485.5 2549.5M395.5 2564.5L417.5 2564.5M463.5 2564.5L485.5 2564.5M500.5 2638.5L500.5 2653.5M2060.5 135.5L2060.5 154.5M2060.5 160.5L2060.5 179.5M2060.5 194.5L2060.5 209.5M2120.5 135.5L2120.5 154.5M2120.5 160.5L2120.5 179.5M2120.5 194.5L2120.5 209.5M2240.5 134.5L2240.5 149.5M2240.5 179.5L2240.5 194.5M2240.5 149.5L2246.5 151.8L2234.5 155.5L2246.5 159.2L2234.5 163L2246.5 166.8L2234.5 170.5L2246.5 174.2L2234.5 178L2240.5 179.5M2331.5 194.5L2346.5 194.5M2348.5 185.5L2360.5 179.5L2360.5 164.5M2348.5 203.5L2360.5 209.5L2360.5 224.5M2211.5 254.5L2226.5 254.5M2228.5 245.5L2240.5 239.5L2240.5 224.5M2228.5 263.5L2240.5 269.5L2240.5 284.5M2240.5 314.5L2240.5 329.5M2105.5 254.5L2120.5 254.5M2150.5 254.5L2165.5 254.5M2120.5 254.5L2122.8 248.5L2126.5 260.5L2130.2 248.5L2134 260.5L2137.8 248.5L2141.5 260.5L2145.2 248.5L2149 260.5L2150.5 254.5M2270.5 224.5L2285.5 224.5M2315.5 224.5L2330.5 224.5M2285.5 224.5L2287.8 218.5L2291.5 230.5L2295.2 218.5L2299 230.5L2302.8 218.5L2306.5 230.5L2310.2 218.5L2314 230.5L2315.5 224.5M2360.5 344.5L2360.5 359.5M2360.5 419.5L2360.5 434.5M2300.5 374.5L2300.5 389.5M2300.5 419.5L2300.5 434.5M2300.5 389.5L2306.5 391.8L2294.5 395.5L2306.5 399.2L2294.5 403L2306.5 406.8L2294.5 410.5L2306.5 414.2L2294.5 418L2300.5 419.5M1850.5 344.5L1865.5 344.5M1880.5 344.5L1895.5 344.5M1955.5 344.5L1970.5 344.5M1985.5 359.5L1985.5 374.5M1985.5 404.5L1985.5 419.5M1985.5 374.5L1991.5 376.8L1979.5 380.5L1991.5 384.2L1979.5 388L1991.5 391.8L1979.5 395.5L1991.5 399.2L1979.5 403L1985.5 404.5M1925.5 435.5L1925.5 454.5M1925.5 460.5L1925.5 479.5M1925.5 494.5L1925.5 509.5M1985.5 434.5L1985.5 449.5M1985.5 509.5L1985.5 524.5M2090.5 449.5L2090.5 464.5M2090.5 494.5L2090.5 509.5M2090.5 464.5L2096.5 466.8L2084.5 470.5L2096.5 474.2L2084.5 478L2096.5 481.8L2084.5 485.5L2096.5 489.2L2084.5 493L2090.5 494.5M2150.5 404.5L2150.5 419.5M2150.5 479.5L2150.5 494.5M1895.5 554.5L1910.5 554.5M1940.5 554.5L1955.5 554.5M1910.5 554.5L1912.8 548.5L1916.5 560.5L1920.2 548.5L1924 560.5L1927.8 548.5L1931.5 560.5L1935.2 548.5L1939 560.5L1940.5 554.5M2030.5 554.5L2049.5 554.5M2055.5 554.5L2074.5 554.5M2120.5 554.5L2136.5 554.5M2138.5 545.5L2150.5 539.5L2150.5 524.5M2138.5 563.5L2150.5 569.5L2150.5 584.5M2150.5 614.5L2150.5 629.5M2225.5 614.5L2244.5 614.5M2250.5 614.5L2269.5 614.5M2331.5 479.5L2346.5 479.5M2348.5 470.5L2360.5 464.5L2360.5 449.5M2348.5 488.5L2360.5 494.5L2360.5 509.5M2360.5 524.5L2360.5 539.5M2331.5 614.5L2346.5 614.5M2348.5 605.5L2360.5 599.5L2360.5 584.5M2348.5 623.5L2360.5 629.5L2360.5 644.5M2360.5 659.5L2360.5 674.5M2451.5 569.5L2470.5 569.5M2476.5 569.5L2495.5 569.5M2525.5 515.5L2525.5 480.5M1955.5 599.5L1971.5 599.5M1973.5 590.5L1985.5 584.5L1985.5 569.5M1973.5 608.5L1985.5 614.5L1985.5 629.5M2030.5 659.5L2030.5 674.5M2030.5 704.5L2030.5 719.5M2030.5 674.5L2036.5 676.8L2024.5 680.5L2036.5 684.2L2024.5 688L2036.5 691.8L2024.5 695.5L2036.5 699.2L2024.5 703L2030.5 704.5M2030.5 734.5L2030.5 749.5M1985.5 660.5L1985.5 679.5M1985.5 685.5L1985.5 704.5M1985.5 734.5L1985.5 749.5M1880.5 670.5L1880.5 680.5M1880.5 696.5L1880.5 706.5M1880.5 734.5L1880.5 749.5M2315.5 1079.5L2345.5 1079.5M2315.5 1094.5L2345.5 1094.5M2315.5 1109.5L2345.5 1109.5M2315.5 1124.5L2334.5 1124.5M2315.5 1154.5L2345.5 1154.5M2315.5 1169.5L2345.5 1169.5M2315.5 1199.5L2345.5 1199.5M2315.5 1244.5L2345.5 1244.5M2495.5 1079.5L2525.5 1079.5M2495.5 1109.5L2525.5 1109.5M2495.5 1184.5L2525.5 1184.5M2495.5 1199.5L2525.5 1199.5M2495.5 1244.5L2525.5 1244.5M2285.5 974.5L2285.5 989.5M2285.5 1004.5L2285.5 1019.5M2285.5 1049.5L2285.5 1064.5M2285.5 1019.5L2291.5 1021.8L2279.5 1025.5L2291.5 1029.2L2279.5 1033L2291.5 1036.8L2279.5 1040.5L2291.5 1044.2L2279.5 1048L2285.5 1049.5M2240.5 1244.5L2248.5 1244.5M2262.5 1244.5L2270.5 1244.5M2240.5 1289.5L2240.5 1308.5M2240.5 1314.5L2240.5 1333.5M2270.5 1289.5L2270.5 1308.5M2270.5 1314.5L2270.5 1333.5M2255.5 1364.5L2255.5 1379.5M2540.5 1079.5L2559.5 1079.5M2565.5 1079.5L2584.5 1079.5M2615.5 1079.5L2634.5 1079.5M2640.5 1079.5L2659.5 1079.5M2735.5 1079.5L2750.5 1079.5M2810.5 1079.5L2825.5 1079.5M2540.5 1109.5L2559.5 1109.5M2565.5 1109.5L2584.5 1109.5M2600.5 1109.5L2615.5 1109.5M2675.5 1109.5L2690.5 1109.5M2585.5 944.5L2585.5 959.5M2585.5 974.5L2585.5 989.5M2585.5 1049.5L2585.5 1064.5M2585.5 1125.5L2585.5 1144.5M2585.5 1150.5L2585.5 1169.5M2720.5 1095.5L2720.5 1114.5M2720.5 1120.5L2720.5 1139.5M2840.5 1095.5L2840.5 1114.5M2840.5 1120.5L2840.5 1139.5M2840.5 1184.5L2840.5 1199.5M2840.5 1009.5L2840.5 974.5M2751.5 1184.5L2766.5 1184.5M2600.5 1215.5L2600.5 1234.5M2600.5 1240.5L2600.5 1259.5M2675.5 1215.5L2675.5 1234.5M2675.5 1240.5L2675.5 1259.5M2735.5 1215.5L2735.5 1234.5M2735.5 1240.5L2735.5 1259.5M2540.5 1259.5L2540.5 1274.5M2540.5 1304.5L2540.5 1319.5M2540.5 1274.5L2546.5 1276.8L2534.5 1280.5L2546.5 1284.2L2534.5 1288L2546.5 1291.8L2534.5 1295.5L2546.5 1299.2L2534.5 1303L2540.5 1304.5M2540.5 1364.5L2540.5 1379.5M2315.5 1439.5L2345.5 1439.5M2315.5 1454.5L2345.5 1454.5M2315.5 1499.5L2345.5 1499.5M2495.5 1439.5L2525.5 1439.5M2495.5 1454.5L2525.5 1454.5M2495.5 1484.5L2525.5 1484.5M2495.5 1499.5L2525.5 1499.5M2420.5 1544.5L2420.5 1559.5M2420.5 1589.5L2420.5 1604.5M2195.5 1394.5L2195.5 1409.5M2195.5 1469.5L2195.5 1488.5M2195.5 1494.5L2195.5 1513.5M2270.5 1469.5L2270.5 1488.5M2270.5 1494.5L2270.5 1513.5M2675.5 1439.5L2690.5 1439.5M2600.5 1469.5L2600.5 1488.5M2600.5 1494.5L2600.5 1513.5M2645.5 1469.5L2645.5 1488.5M2645.5 1494.5L2645.5 1513.5M2255.5 1679.5L2277.5 1679.5M2255.5 1694.5L2277.5 1694.5M2390.5 1844.5L2390.5 1859.5M2405.5 1844.5L2405.5 1859.5M2420.5 1844.5L2420.5 1859.5M2450.5 1844.5L2450.5 1859.5M2465.5 1844.5L2465.5 1859.5M2480.5 1844.5L2480.5 1859.5M2495.5 1844.5L2495.5 1859.5M2510.5 1844.5L2510.5 1859.5M2405.5 1769.5L2405.5 1784.5M2480.5 1769.5L2480.5 1784.5M2375.5 2249.5L2375.5 2264.5M2390.5 2249.5L2390.5 2264.5M2405.5 2249.5L2405.5 2264.5M2450.5 2249.5L2450.5 2264.5M2465.5 2249.5L2465.5 2264.5M2480.5 2249.5L2480.5 2264.5M2495.5 2249.5L2495.5 2264.5M2330.5 1904.5L2345.5 1904.5M2330.5 1919.5L2345.5 1919.5M2330.5 1934.5L2345.5 1934.5M2330.5 1949.5L2345.5 1949.5M2330.5 1964.5L2345.5 1964.5M2330.5 2009.5L2345.5 2009.5M2330.5 2024.5L2345.5 2024.5M2330.5 2054.5L2345.5 2054.5M2330.5 2069.5L2345.5 2069.5M2330.5 2099.5L2345.5 2099.5M2330.5 2114.5L2345.5 2114.5M2330.5 2129.5L2345.5 2129.5M2330.5 2144.5L2345.5 2144.5M2330.5 2159.5L2345.5 2159.5M2525.5 1934.5L2540.5 1934.5M2525.5 1949.5L2540.5 1949.5M2525.5 2039.5L2540.5 2039.5M2525.5 2054.5L2540.5 2054.5M2525.5 2069.5L2540.5 2069.5M2525.5 2114.5L2540.5 2114.5M2525.5 2129.5L2540.5 2129.5M2525.5 2144.5L2540.5 2144.5M2181.5 2039.5L2200.5 2039.5M2206.5 2039.5L2225.5 2039.5M2181.5 2099.5L2200.5 2099.5M2206.5 2099.5L2225.5 2099.5M2135.5 2084.5L2150.5 2084.5M2240.5 2039.5L2240.5 2054.5M2240.5 2084.5L2240.5 2099.5M2240.5 2054.5L2246.5 2056.8L2234.5 2060.5L2246.5 2064.2L2234.5 2068L2246.5 2071.8L2234.5 2075.5L2246.5 2079.2L2234.5 2083L2240.5 2084.5M2270.5 2051.5L2270.5 2061.5M2270.5 2077.5L2270.5 2087.5M2555.5 2054.5L2574.5 2054.5M2580.5 2054.5L2599.5 2054.5M2600.5 2069.5L2619.5 2069.5M2625.5 2069.5L2644.5 2069.5M2405.5 2294.5L2424.5 2294.5M2430.5 2294.5L2449.5 2294.5M2570.5 2175.5L2570.5 2194.5M2570.5 2200.5L2570.5 2219.5M2465.5 2324.5L2465.5 2339.5M2345.5 2339.5L2330.5 2339.5M2255.5 2339.5L2270.5 2339.5M2225.5 2339.5L2240.5 2339.5M1835.5 1169.5L1835.5 1184.5M1835.5 1199.5L1835.5 1214.5M1835.5 1244.5L1835.5 1259.5M1835.5 1214.5L1841.5 1216.8L1829.5 1220.5L1841.5 1224.2L1829.5 1228L1841.5 1231.8L1829.5 1235.5L1841.5 1239.2L1829.5 1243L1835.5 1244.5M1835.5 1289.5L1835.5 1304.5M1835.5 1334.5L1835.5 1349.5M1835.5 1304.5L1841.5 1306.8L1829.5 1310.5L1841.5 1314.2L1829.5 1318L1841.5 1321.8L1829.5 1325.5L1841.5 1329.2L1829.5 1333L1835.5 1334.5M2015.5 1274.5L2038.5 1274.5M2015.5 1289.5L2038.5 1289.5M2015.5 1304.5L2038.5 1304.5M1940.5 1289.5L1955.5 1289.5M1850.5 1394.5L1865.5 1394.5M1895.5 1394.5L1910.5 1394.5M1865.5 1394.5L1867.8 1388.5L1871.5 1400.5L1875.2 1388.5L1879 1400.5L1882.8 1388.5L1886.5 1400.5L1890.2 1388.5L1894 1400.5L1895.5 1394.5M1925.5 1394.5L1940.5 1394.5M1835.5 1409.5L1835.5 1424.5M1835.5 1454.5L1835.5 1469.5M1835.5 1424.5L1841.5 1426.8L1829.5 1430.5L1841.5 1434.2L1829.5 1438L1841.5 1441.8L1829.5 1445.5L1841.5 1449.2L1829.5 1453L1835.5 1454.5M1940.5 1469.5L1955.5 1469.5M1835.5 1484.5L1835.5 1499.5M1835.5 1529.5L1835.5 1544.5M1835.5 1499.5L1841.5 1501.8L1829.5 1505.5L1841.5 1509.2L1829.5 1513L1841.5 1516.8L1829.5 1520.5L1841.5 1524.2L1829.5 1528L1835.5 1529.5M1880.5 1484.5L1880.5 1499.5M1880.5 1529.5L1880.5 1544.5M1880.5 1499.5L1886.5 1501.8L1874.5 1505.5L1886.5 1509.2L1874.5 1513L1886.5 1516.8L1874.5 1520.5L1886.5 1524.2L1874.5 1528L1880.5 1529.5M1880.5 1604.5L1925.5 1604.5M1880.5 1604.5L1880.5 1625.5M1910.5 1604.5L1910.5 1625.5M1895.5 1625.5L1895.5 1612.5L1910.5 1612.5M1892.5 1599.5L1892.5 1609.5M1910.5 1633.5L1910.5 1649.5M1865.5 1604.5L1865.5 1589.5L1880.5 1589.5L1880.5 1604.5M1835.5 1619.5L1835.5 1634.5M1835.5 1664.5L1835.5 1679.5M1835.5 1634.5L1841.5 1636.8L1829.5 1640.5L1841.5 1644.2L1829.5 1648L1841.5 1651.8L1829.5 1655.5L1841.5 1659.2L1829.5 1663L1835.5 1664.5M1910.5 1769.5L1925.5 1769.5M1955.5 1769.5L1970.5 1769.5M1925.5 1769.5L1927.8 1763.5L1931.5 1775.5L1935.2 1763.5L1939 1775.5L1942.8 1763.5L1946.5 1775.5L1950.2 1763.5L1954 1775.5L1955.5 1769.5M1820.5 1724.5L1820.5 1738.5M1835.5 1724.5L1835.5 1738.5M1850.5 1724.5L1850.5 1738.5M1790.5 1709.5L1805.5 1709.5M1866.5 1709.5L1881.5 1709.5M1880.5 1799.5L1925.5 1799.5M1880.5 1799.5L1880.5 1820.5M1910.5 1799.5L1910.5 1820.5M1895.5 1820.5L1895.5 1807.5L1910.5 1807.5M1892.5 1794.5L1892.5 1804.5M1910.5 1828.5L1910.5 1844.5M1865.5 1799.5L1865.5 1784.5L1880.5 1784.5L1880.5 1799.5M1910.5 1859.5L1910.5 1874.5M1985.5 1949.5L2015.5 1949.5M1985.5 1964.5L2015.5 1964.5M1985.5 1979.5L2015.5 1979.5M1985.5 1994.5L2015.5 1994.5M1985.5 2009.5L2015.5 2009.5M1985.5 2024.5L2015.5 2024.5M1985.5 2039.5L2015.5 2039.5M1985.5 2054.5L2015.5 2054.5M1985.5 2069.5L2015.5 2069.5M1985.5 2084.5L2015.5 2084.5M1985.5 2114.5L2015.5 2114.5M1865.5 2024.5L1895.5 2024.5M1895.5 2019.5L1903.5 2024.5L1895.5 2029.5M1865.5 2084.5L1883.5 2084.5M1865.5 2114.5L1895.5 2114.5M1850.5 2144.5L1850.5 2159.5M1970.5 2204.5L1993.5 2204.5M1895.5 2204.5L1910.5 2204.5M1940.5 2204.5L1955.5 2204.5M1910.5 2204.5L1912.8 2198.5L1916.5 2210.5L1920.2 2198.5L1924 2210.5L1927.8 2198.5L1931.5 2210.5L1935.2 2198.5L1939 2210.5L1940.5 2204.5M1970.5 2219.5L1993.5 2219.5M1850.5 2219.5L1865.5 2219.5M1895.5 2219.5L1910.5 2219.5M1865.5 2219.5L1867.8 2213.5L1871.5 2225.5L1875.2 2213.5L1879 2225.5L1882.8 2213.5L1886.5 2225.5L1890.2 2213.5L1894 2225.5L1895.5 2219.5M1970.5 2234.5L1993.5 2234.5M1805.5 2234.5L1820.5 2234.5M1850.5 2234.5L1865.5 2234.5M1820.5 2234.5L1822.8 2228.5L1826.5 2240.5L1830.2 2228.5L1834 2240.5L1837.8 2228.5L1841.5 2240.5L1845.2 2228.5L1849 2240.5L1850.5 2234.5M1970.5 2249.5L1993.5 2249.5M1895.5 2249.5L1910.5 2249.5M1940.5 2249.5L1955.5 2249.5M1910.5 2249.5L1912.8 2243.5L1916.5 2255.5L1920.2 2243.5L1924 2255.5L1927.8 2243.5L1931.5 2255.5L1935.2 2243.5L1939 2255.5L1940.5 2249.5M1970.5 2264.5L1993.5 2264.5M1850.5 2264.5L1865.5 2264.5M1895.5 2264.5L1910.5 2264.5M1865.5 2264.5L1867.8 2258.5L1871.5 2270.5L1875.2 2258.5L1879 2270.5L1882.8 2258.5L1886.5 2270.5L1890.2 2258.5L1894 2270.5L1895.5 2264.5M1970.5 2279.5L1993.5 2279.5M1805.5 2279.5L1820.5 2279.5M1850.5 2279.5L1865.5 2279.5M1820.5 2279.5L1822.8 2273.5L1826.5 2285.5L1830.2 2273.5L1834 2285.5L1837.8 2273.5L1841.5 2285.5L1845.2 2273.5L1849 2285.5L1850.5 2279.5M1970.5 2294.5L1993.5 2294.5M1895.5 2294.5L1910.5 2294.5M1940.5 2294.5L1955.5 2294.5M1910.5 2294.5L1912.8 2288.5L1916.5 2300.5L1920.2 2288.5L1924 2300.5L1927.8 2288.5L1931.5 2300.5L1935.2 2288.5L1939 2300.5L1940.5 2294.5M1970.5 2309.5L1993.5 2309.5M1850.5 2309.5L1865.5 2309.5M1895.5 2309.5L1910.5 2309.5M1865.5 2309.5L1867.8 2303.5L1871.5 2315.5L1875.2 2303.5L1879 2315.5L1882.8 2303.5L1886.5 2315.5L1890.2 2303.5L1894 2315.5L1895.5 2309.5M989.5 2459.5L1010.5 2459.5M989.5 2474.5L1010.5 2474.5M989.5 2489.5L1010.5 2489.5M989.5 2504.5L1010.5 2504.5M1010.5 2414.5L1010.5 2429.5M1055.5 2534.5L1055.5 2549.5M2405.5 2459.5L2420.5 2459.5M2540.5 2459.5L2555.5 2459.5M2405.5 2474.5L2420.5 2474.5M2540.5 2474.5L2555.5 2474.5M2405.5 2489.5L2420.5 2489.5M2540.5 2489.5L2555.5 2489.5M2405.5 2504.5L2420.5 2504.5M2540.5 2504.5L2555.5 2504.5M2405.5 2519.5L2420.5 2519.5M2540.5 2519.5L2555.5 2519.5M2405.5 2534.5L2420.5 2534.5M2540.5 2534.5L2555.5 2534.5M2405.5 2549.5L2420.5 2549.5M2540.5 2549.5L2555.5 2549.5M2405.5 2564.5L2420.5 2564.5M2540.5 2564.5L2555.5 2564.5M2270.5 2504.5L2289.5 2504.5M2295.5 2504.5L2314.5 2504.5M2210.5 2534.5L2229.5 2534.5M2235.5 2534.5L2254.5 2534.5M2135.5 2474.5L2150.5 2474.5M2180.5 2474.5L2195.5 2474.5M2150.5 2474.5L2152.8 2468.5L2156.5 2480.5L2160.2 2468.5L2164 2480.5L2167.8 2468.5L2171.5 2480.5L2175.2 2468.5L2179 2480.5L2180.5 2474.5M1925.5 2579.5L1940.5 2579.5M1970.5 2579.5L1985.5 2579.5M2045.5 2579.5L2060.5 2579.5M2090.5 2594.5L2090.5 2613.5M2090.5 2619.5L2090.5 2638.5M2120.5 2594.5L2120.5 2611.5M2120.5 2617.5L2120.5 2634.5M2105.5 2654.5L2105.5 2669.5M2165.5 2549.5L2165.5 2564.5M2165.5 2594.5L2165.5 2609.5M2165.5 2564.5L2171.5 2566.8L2159.5 2570.5L2171.5 2574.2L2159.5 2578L2171.5 2581.8L2159.5 2585.5L2171.5 2589.2L2159.5 2593L2165.5 2594.5M2195.5 2579.5L2195.5 2594.5M2195.5 2624.5L2195.5 2639.5M2195.5 2594.5L2201.5 2596.8L2189.5 2600.5L2201.5 2604.2L2189.5 2608L2201.5 2611.8L2189.5 2615.5L2201.5 2619.2L2189.5 2623L2195.5 2624.5M2180.5 2654.5L2180.5 2669.5M2255.5 2594.5L2255.5 2611.5M2255.5 2617.5L2255.5 2634.5M2285.5 2654.5L2285.5 2669.5M2315.5 2579.5L2315.5 2594.5M2315.5 2624.5L2315.5 2639.5M2315.5 2594.5L2321.5 2596.8L2309.5 2600.5L2321.5 2604.2L2309.5 2608L2321.5 2611.8L2309.5 2615.5L2321.5 2619.2L2309.5 2623L2315.5 2624.5M2322.5 2609.5L2345.5 2609.5M2360.5 2654.5L2360.5 2669.5M2570.5 2654.5L2570.5 2669.5M2960.5 1004.5L2990.5 1004.5M3020.5 1004.5L3050.5 1004.5M3065.5 1004.5L3080.5 1004.5M2945.5 1094.5L2945.5 1109.5M2960.5 1049.5L2990.5 1049.5M2960.5 1079.5L2990.5 1079.5M3034.5 1064.5L3050.5 1064.5M2960.5 1124.5L2990.5 1124.5M2960.5 1154.5L2990.5 1154.5M3034.5 1139.5L3050.5 1139.5M2960.5 1214.5L2990.5 1214.5M2960.5 1244.5L2990.5 1244.5M3034.5 1229.5L3050.5 1229.5M2960.5 1289.5L2990.5 1289.5M2960.5 1319.5L2990.5 1319.5M3034.5 1304.5L3050.5 1304.5M2885.5 1334.5L2885.5 1349.5M2885.5 1379.5L2885.5 1394.5M2885.5 1349.5L2891.5 1351.8L2879.5 1355.5L2891.5 1359.2L2879.5 1363L2891.5 1366.8L2879.5 1370.5L2891.5 1374.2L2879.5 1378L2885.5 1379.5M2885.5 1409.5L2885.5 1424.5M3155.5 1109.5L3185.5 1109.5M3155.5 1139.5L3185.5 1139.5M3155.5 1169.5L3185.5 1169.5M3155.5 1199.5L3185.5 1199.5M3275.5 1109.5L3305.5 1109.5M3275.5 1139.5L3305.5 1139.5M3275.5 1169.5L3305.5 1169.5M3275.5 1199.5L3305.5 1199.5M3080.5 1049.5L3099.5 1049.5M3105.5 1049.5L3124.5 1049.5M3080.5 1094.5L3099.5 1094.5M3105.5 1094.5L3124.5 1094.5M3215.5 1064.5L3245.5 1064.5M3320.5 1064.5L3339.5 1064.5M3345.5 1064.5L3364.5 1064.5M3350.5 1139.5L3365.5 1139.5M3395.5 1139.5L3410.5 1139.5M3365.5 1139.5L3367.8 1133.5L3371.5 1145.5L3375.2 1133.5L3379 1145.5L3382.8 1133.5L3386.5 1145.5L3390.2 1133.5L3394 1145.5L3395.5 1139.5M3350.5 1199.5L3365.5 1199.5M3395.5 1199.5L3410.5 1199.5M3365.5 1199.5L3367.8 1193.5L3371.5 1205.5L3375.2 1193.5L3379 1205.5L3382.8 1193.5L3386.5 1205.5L3390.2 1193.5L3394 1205.5L3395.5 1199.5M3429.5 1139.5L3442.5 1139.5M3442.5 1139.5L3442.5 1109.5M3448.5 1139.5L3470.5 1139.5M3448.5 1109.5L3485.5 1109.5L3485.5 1094.5L3470.5 1094.5M3448.5 1124.5L3461.5 1124.5L3461.5 1139.5M3470.5 1094.5L3470.5 1154.5M3464.5 1128.5L3476.5 1128.5M3429.5 1199.5L3442.5 1199.5M3442.5 1199.5L3442.5 1169.5M3448.5 1199.5L3470.5 1199.5M3448.5 1169.5L3485.5 1169.5L3485.5 1154.5L3470.5 1154.5M3448.5 1184.5L3461.5 1184.5L3461.5 1199.5M3470.5 1154.5L3470.5 1214.5M3464.5 1188.5L3476.5 1188.5M3155.5 1319.5L3185.5 1319.5M3155.5 1349.5L3185.5 1349.5M3155.5 1379.5L3185.5 1379.5M3155.5 1409.5L3185.5 1409.5M3275.5 1319.5L3305.5 1319.5M3275.5 1349.5L3305.5 1349.5M3275.5 1379.5L3305.5 1379.5M3275.5 1409.5L3305.5 1409.5M3080.5 1259.5L3099.5 1259.5M3105.5 1259.5L3124.5 1259.5M3080.5 1304.5L3099.5 1304.5M3105.5 1304.5L3124.5 1304.5M3215.5 1274.5L3245.5 1274.5M3320.5 1274.5L3339.5 1274.5M3345.5 1274.5L3364.5 1274.5M3350.5 1349.5L3365.5 1349.5M3395.5 1349.5L3410.5 1349.5M3365.5 1349.5L3367.8 1343.5L3371.5 1355.5L3375.2 1343.5L3379 1355.5L3382.8 1343.5L3386.5 1355.5L3390.2 1343.5L3394 1355.5L3395.5 1349.5M3350.5 1409.5L3365.5 1409.5M3395.5 1409.5L3410.5 1409.5M3365.5 1409.5L3367.8 1403.5L3371.5 1415.5L3375.2 1403.5L3379 1415.5L3382.8 1403.5L3386.5 1415.5L3390.2 1403.5L3394 1415.5L3395.5 1409.5M3429.5 1349.5L3442.5 1349.5M3442.5 1349.5L3442.5 1319.5M3448.5 1349.5L3470.5 1349.5M3448.5 1319.5L3485.5 1319.5L3485.5 1304.5L3470.5 1304.5M3448.5 1334.5L3461.5 1334.5L3461.5 1349.5M3470.5 1304.5L3470.5 1364.5M3464.5 1338.5L3476.5 1338.5M3429.5 1409.5L3442.5 1409.5M3442.5 1409.5L3442.5 1379.5M3448.5 1409.5L3470.5 1409.5M3448.5 1379.5L3485.5 1379.5L3485.5 1364.5L3470.5 1364.5M3448.5 1394.5L3461.5 1394.5L3461.5 1409.5M3470.5 1364.5L3470.5 1424.5M3464.5 1398.5L3476.5 1398.5M3320.5 1004.5L3320.5 1019.5M3335.5 1244.5L3350.5 1244.5M3470.5 1229.5L3470.5 1244.5M3470.5 1439.5L3470.5 1454.5M3545.5 1244.5L3567.5 1244.5M3545.5 1259.5L3567.5 1259.5M2960.5 1499.5L2990.5 1499.5M3020.5 1499.5L3050.5 1499.5M3065.5 1499.5L3080.5 1499.5M2945.5 1589.5L2945.5 1604.5M2960.5 1544.5L2990.5 1544.5M2960.5 1574.5L2990.5 1574.5M3034.5 1559.5L3050.5 1559.5M2960.5 1619.5L2990.5 1619.5M2960.5 1649.5L2990.5 1649.5M3034.5 1634.5L3050.5 1634.5M2960.5 1709.5L2990.5 1709.5M2960.5 1739.5L2990.5 1739.5M3034.5 1724.5L3050.5 1724.5M2960.5 1784.5L2990.5 1784.5M2960.5 1814.5L2990.5 1814.5M3034.5 1799.5L3050.5 1799.5M2885.5 1829.5L2885.5 1844.5M2885.5 1874.5L2885.5 1889.5M2885.5 1844.5L2891.5 1846.8L2879.5 1850.5L2891.5 1854.2L2879.5 1858L2891.5 1861.8L2879.5 1865.5L2891.5 1869.2L2879.5 1873L2885.5 1874.5M2885.5 1904.5L2885.5 1919.5M3155.5 1604.5L3185.5 1604.5M3155.5 1634.5L3185.5 1634.5M3155.5 1664.5L3185.5 1664.5M3155.5 1694.5L3185.5 1694.5M3275.5 1604.5L3305.5 1604.5M3275.5 1634.5L3305.5 1634.5M3275.5 1664.5L3305.5 1664.5M3275.5 1694.5L3305.5 1694.5M3080.5 1544.5L3099.5 1544.5M3105.5 1544.5L3124.5 1544.5M3080.5 1589.5L3099.5 1589.5M3105.5 1589.5L3124.5 1589.5M3215.5 1559.5L3245.5 1559.5M3320.5 1559.5L3339.5 1559.5M3345.5 1559.5L3364.5 1559.5M3350.5 1634.5L3365.5 1634.5M3395.5 1634.5L3410.5 1634.5M3365.5 1634.5L3367.8 1628.5L3371.5 1640.5L3375.2 1628.5L3379 1640.5L3382.8 1628.5L3386.5 1640.5L3390.2 1628.5L3394 1640.5L3395.5 1634.5M3350.5 1694.5L3365.5 1694.5M3395.5 1694.5L3410.5 1694.5M3365.5 1694.5L3367.8 1688.5L3371.5 1700.5L3375.2 1688.5L3379 1700.5L3382.8 1688.5L3386.5 1700.5L3390.2 1688.5L3394 1700.5L3395.5 1694.5M3429.5 1634.5L3442.5 1634.5M3442.5 1634.5L3442.5 1604.5M3448.5 1634.5L3470.5 1634.5M3448.5 1604.5L3485.5 1604.5L3485.5 1589.5L3470.5 1589.5M3448.5 1619.5L3461.5 1619.5L3461.5 1634.5M3470.5 1589.5L3470.5 1649.5M3464.5 1623.5L3476.5 1623.5M3429.5 1694.5L3442.5 1694.5M3442.5 1694.5L3442.5 1664.5M3448.5 1694.5L3470.5 1694.5M3448.5 1664.5L3485.5 1664.5L3485.5 1649.5L3470.5 1649.5M3448.5 1679.5L3461.5 1679.5L3461.5 1694.5M3470.5 1649.5L3470.5 1709.5M3464.5 1683.5L3476.5 1683.5M3155.5 1814.5L3185.5 1814.5M3155.5 1844.5L3185.5 1844.5M3155.5 1874.5L3185.5 1874.5M3155.5 1904.5L3185.5 1904.5M3275.5 1814.5L3305.5 1814.5M3275.5 1844.5L3305.5 1844.5M3275.5 1874.5L3305.5 1874.5M3275.5 1904.5L3305.5 1904.5M3080.5 1754.5L3099.5 1754.5M3105.5 1754.5L3124.5 1754.5M3080.5 1799.5L3099.5 1799.5M3105.5 1799.5L3124.5 1799.5M3215.5 1769.5L3245.5 1769.5M3320.5 1769.5L3339.5 1769.5M3345.5 1769.5L3364.5 1769.5M3350.5 1844.5L3365.5 1844.5M3395.5 1844.5L3410.5 1844.5M3365.5 1844.5L3367.8 1838.5L3371.5 1850.5L3375.2 1838.5L3379 1850.5L3382.8 1838.5L3386.5 1850.5L3390.2 1838.5L3394 1850.5L3395.5 1844.5M3350.5 1904.5L3365.5 1904.5M3395.5 1904.5L3410.5 1904.5M3365.5 1904.5L3367.8 1898.5L3371.5 1910.5L3375.2 1898.5L3379 1910.5L3382.8 1898.5L3386.5 1910.5L3390.2 1898.5L3394 1910.5L3395.5 1904.5M3429.5 1844.5L3442.5 1844.5M3442.5 1844.5L3442.5 1814.5M3448.5 1844.5L3470.5 1844.5M3448.5 1814.5L3485.5 1814.5L3485.5 1799.5L3470.5 1799.5M3448.5 1829.5L3461.5 1829.5L3461.5 1844.5M3470.5 1799.5L3470.5 1859.5M3464.5 1833.5L3476.5 1833.5M3429.5 1904.5L3442.5 1904.5M3442.5 1904.5L3442.5 1874.5M3448.5 1904.5L3470.5 1904.5M3448.5 1874.5L3485.5 1874.5L3485.5 1859.5L3470.5 1859.5M3448.5 1889.5L3461.5 1889.5L3461.5 1904.5M3470.5 1859.5L3470.5 1919.5M3464.5 1893.5L3476.5 1893.5M3320.5 1499.5L3320.5 1514.5M3335.5 1739.5L3350.5 1739.5M3470.5 1724.5L3470.5 1739.5M3470.5 1934.5L3470.5 1949.5M3545.5 1739.5L3567.5 1739.5M3545.5 1754.5L3567.5 1754.5M3155.5 2144.5L3185.5 2144.5M3155.5 2174.5L3185.5 2174.5M3155.5 2204.5L3185.5 2204.5M3155.5 2234.5L3185.5 2234.5M3275.5 2144.5L3305.5 2144.5M3275.5 2174.5L3305.5 2174.5M3275.5 2204.5L3305.5 2204.5M3275.5 2234.5L3305.5 2234.5M2990.5 2039.5L2990.5 2054.5M2990.5 2099.5L2990.5 2114.5M2990.5 2144.5L2990.5 2159.5M2990.5 2114.5L2996.5 2116.8L2984.5 2120.5L2996.5 2124.2L2984.5 2128L2996.5 2131.8L2984.5 2135.5L2996.5 2139.2L2984.5 2143L2990.5 2144.5M3035.5 2099.5L3035.5 2114.5M3035.5 2144.5L3035.5 2159.5M3035.5 2114.5L3041.5 2116.8L3029.5 2120.5L3041.5 2124.2L3029.5 2128L3041.5 2131.8L3029.5 2135.5L3041.5 2139.2L3029.5 2143L3035.5 2144.5M3080.5 2084.5L3099.5 2084.5M3105.5 2084.5L3124.5 2084.5M3306.5 2099.5L3325.5 2099.5M3331.5 2099.5L3350.5 2099.5M3080.5 2129.5L3099.5 2129.5M3105.5 2129.5L3124.5 2129.5M3365.5 2099.5L3380.5 2099.5M3410.5 2099.5L3425.5 2099.5M3380.5 2099.5L3382.8 2093.5L3386.5 2105.5L3390.2 2093.5L3394 2105.5L3397.8 2093.5L3401.5 2105.5L3405.2 2093.5L3409 2105.5L3410.5 2099.5M3365.5 2294.5L3380.5 2294.5M3410.5 2294.5L3425.5 2294.5M3380.5 2294.5L3382.8 2288.5L3386.5 2300.5L3390.2 2288.5L3394 2300.5L3397.8 2288.5L3401.5 2300.5L3405.2 2288.5L3409 2300.5L3410.5 2294.5M3320.5 2279.5L3320.5 2294.5M3425.5 2099.5L3442.5 2099.5M3442.5 2099.5L3442.5 2069.5M3448.5 2099.5L3470.5 2099.5M3448.5 2069.5L3485.5 2069.5L3485.5 2054.5L3470.5 2054.5M3448.5 2084.5L3461.5 2084.5L3461.5 2099.5M3470.5 2054.5L3470.5 2114.5M3464.5 2088.5L3476.5 2088.5M3425.5 2294.5L3442.5 2294.5M3442.5 2294.5L3442.5 2264.5M3448.5 2294.5L3470.5 2294.5M3448.5 2264.5L3485.5 2264.5L3485.5 2249.5L3470.5 2249.5M3448.5 2279.5L3461.5 2279.5L3461.5 2294.5M3470.5 2249.5L3470.5 2309.5M3464.5 2283.5L3476.5 2283.5M3470.5 2129.5L3470.5 2144.5M3470.5 2324.5L3470.5 2339.5M3530.5 2120.5L3530.5 2136.5M3530.5 2151.5L3530.5 2167.5M3559.5 2144.5L3574.5 2144.5M3545.5 2024.5L3567.5 2024.5M3545.5 2039.5L3567.5 2039.5M3440.5 2024.5L3455.5 2024.5M3545.5 2219.5L3567.5 2219.5M3545.5 2234.5L3567.5 2234.5M3440.5 2219.5L3455.5 2219.5" stroke="#a53c3c" stroke-width="1.15"/>
<path d="M833.5 227.5L857.5 227.5M1333.5 82L1333.5 97M1333.5 99L1333.5 109M1333.5 111L1333.5 126M1253.5 298.5L1277.5 298.5M1313.5 298.5L1337.5 298.5M848.5 632.5L872.5 632.5M1348.5 487L1348.5 502M1348.5 504L1348.5 514M1348.5 516L1348.5 531M1268.5 703.5L1292.5 703.5M1328.5 703.5L1352.5 703.5M611.5 479.5L640.5 468.5M611.5 539.5L640.5 528.5M608.5 442.5L631.5 442.5M631.5 433.5L631.5 450.5M698.5 857.5L722.5 857.5M728.5 1605.5L738.5 1633.5M750.5 1605.5L750.5 1630.5M65.5 1896.5L95.5 1896.5M65.5 1956.5L95.5 1956.5M2108.5 153.5L2132.5 153.5M2573.5 2042.5L2573.5 2066.5M2618.5 2057.5L2618.5 2081.5M1873 1626L1888 1626M1891 1626L1899 1626M1902 1626L1917 1626M1880 1632.5L1911 1632.5M1873 1821L1888 1821M1891 1821L1899 1821M1902 1821L1917 1821M1880 1827.5L1911 1827.5M2108.5 2610.5L2132.5 2610.5M2243.5 2610.5L2267.5 2610.5M3106.5 1037.5L3106.5 1061.5M3448.5 1146L3448.5 1131M3448.5 1129L3448.5 1119M3448.5 1117L3448.5 1102M3448.5 1206L3448.5 1191M3448.5 1189L3448.5 1179M3448.5 1177L3448.5 1162M3106.5 1247.5L3106.5 1271.5M3448.5 1356L3448.5 1341M3448.5 1339L3448.5 1329M3448.5 1327L3448.5 1312M3448.5 1416L3448.5 1401M3448.5 1399L3448.5 1389M3448.5 1387L3448.5 1372M3106.5 1532.5L3106.5 1556.5M3448.5 1641L3448.5 1626M3448.5 1624L3448.5 1614M3448.5 1612L3448.5 1597M3448.5 1701L3448.5 1686M3448.5 1684L3448.5 1674M3448.5 1672L3448.5 1657M3106.5 1742.5L3106.5 1766.5M3448.5 1851L3448.5 1836M3448.5 1834L3448.5 1824M3448.5 1822L3448.5 1807M3448.5 1911L3448.5 1896M3448.5 1894L3448.5 1884M3448.5 1882L3448.5 1867M3098.5 2072.5L3098.5 2096.5M3448.5 2106L3448.5 2091M3448.5 2089L3448.5 2079M3448.5 2077L3448.5 2062M3448.5 2301L3448.5 2286M3448.5 2284L3448.5 2274M3448.5 2272L3448.5 2257" stroke="#a53c3c" stroke-width="2"/>
<path d="M878 228L903 228M878 235L903 235M1178 245L1203 245M1178 252L1203 252M1273 171.5L1273 187.5M1197.5 127L1213.5 127M1373 303L1398 303M1373 310L1398 310M1373 374.5L1398 374.5M893 633L918 633M893 640L918 640M1193 650L1218 650M1193 657L1218 657M1288 576.5L1288 592.5M1212.5 532L1228.5 532M1388 708L1413 708M1388 715L1413 715M1388 779.5L1413 779.5M505 479.5L516 479.5M505 494.5L516 494.5M668 584.5L693 584.5M698 914.5L723 914.5M743 858L768 858M743 865L768 865M803 858L828 858M803 865L828 865M863 858L888 858M863 865L888 865M923 858L948 858M923 865L948 865M983 858L1008 858M983 865L1008 865M1043 858L1068 858M1043 865L1068 865M1103 858L1128 858M1103 865L1128 865M1163 858L1188 858M1163 865L1188 865M1223 858L1248 858M1223 865L1248 865M1283 858L1308 858M1283 865L1308 865M1343 858L1368 858M1343 865L1368 865M1403 858L1428 858M1403 865L1428 865M1463 858L1488 858M1463 865L1488 865M1523 858L1548 858M1523 865L1548 865M1583 858L1608 858M1583 865L1608 865M1643 858L1668 858M1643 865L1668 865M1703 858L1728 858M1703 865L1728 865M1763 858L1788 858M1763 865L1788 865M1823 858L1848 858M1823 865L1848 865M1883 858L1908 858M1883 865L1908 865M348 1259.5L359 1259.5M371 1259.5L382 1259.5M348 1274.5L359 1274.5M371 1274.5L382 1274.5M348 1289.5L359 1289.5M371 1289.5L382 1289.5M348 1304.5L359 1304.5M371 1304.5L382 1304.5M348 1319.5L359 1319.5M371 1319.5L382 1319.5M348 1334.5L359 1334.5M371 1334.5L382 1334.5M348 1349.5L359 1349.5M371 1349.5L382 1349.5M413 1393.5L438 1393.5M653 1173L678 1173M653 1180L678 1180M653 1229.5L678 1229.5M627.5 1267L643.5 1267M1013 1384L1038 1384M1013 1391L1038 1391M1013 1439.5L1038 1439.5M1058 2159.5L1083 2159.5M1520.5 1082L1520.5 1107M1418 1139.5L1443 1139.5M1418 1174L1443 1174M1418 1181L1443 1181M1508 1889.5L1533 1889.5M940 1487L940 1512M947 1487L947 1512M940 1517L940 1542M947 1517L947 1542M875.5 1502L875.5 1527M999 1505.5L1022 1505.5M999 1523.5L1022 1523.5M940 1562L940 1587M947 1562L947 1587M940 1592L940 1617M947 1592L947 1617M875.5 1577L875.5 1602M999 1580.5L1022 1580.5M999 1598.5L1022 1598.5M653 1609L678 1609M653 1616L678 1616M635.5 1637L635.5 1662M635.5 1682L635.5 1707M710 1716.5L710 1732.5M741 1716.5L741 1732.5M800 1701.5L800 1717.5M831 1701.5L831 1717.5M803 2084.5L828 2084.5M708 2219.5L719 2219.5M731 2219.5L742 2219.5M708 2234.5L719 2234.5M731 2234.5L742 2234.5M708 2249.5L719 2249.5M731 2249.5L742 2249.5M708 2264.5L719 2264.5M731 2264.5L742 2264.5M708 2279.5L719 2279.5M731 2279.5L742 2279.5M438 1499.5L449 1499.5M461 1499.5L472 1499.5M438 1514.5L449 1514.5M461 1514.5L472 1514.5M438 1529.5L449 1529.5M461 1529.5L472 1529.5M365.5 1487L365.5 1512M438 1634.5L449 1634.5M461 1634.5L472 1634.5M438 1649.5L449 1649.5M461 1649.5L472 1649.5M438 1664.5L449 1664.5M461 1664.5L472 1664.5M438 1679.5L449 1679.5M461 1679.5L472 1679.5M438 1694.5L449 1694.5M461 1694.5L472 1694.5M368 1724.5L393 1724.5M69 1832L69 1857M76 1832L76 1857M20.5 1832L20.5 1857M117.5 1807L133.5 1807M113 2009.5L138 2009.5M158 1953L183 1953M158 1960L183 1960M158 2009.5L183 2009.5M203 2054.5L228 2054.5M504 1922L504 1947M511 1922L511 1947M476 1956.5L476 1972.5M423 2384.5L434 2384.5M446 2384.5L457 2384.5M423 2399.5L434 2399.5M446 2399.5L457 2399.5M423 2414.5L434 2414.5M446 2414.5L457 2414.5M423 2429.5L434 2429.5M446 2429.5L457 2429.5M423 2444.5L434 2444.5M446 2444.5L457 2444.5M423 2459.5L434 2459.5M446 2459.5L457 2459.5M423 2474.5L434 2474.5M446 2474.5L457 2474.5M423 2489.5L434 2489.5M446 2489.5L457 2489.5M423 2504.5L434 2504.5M446 2504.5L457 2504.5M423 2519.5L434 2519.5M446 2519.5L457 2519.5M423 2534.5L434 2534.5M446 2534.5L457 2534.5M423 2549.5L434 2549.5M446 2549.5L457 2549.5M423 2564.5L434 2564.5M446 2564.5L457 2564.5M488 2653.5L513 2653.5M2048 154L2073 154M2048 161L2073 161M2048 209.5L2073 209.5M2108 209.5L2133 209.5M2228 329.5L2253 329.5M1913 454L1938 454M1913 461L1938 461M1913 509.5L1938 509.5M2049 542L2049 567M2056 542L2056 567M2138 629.5L2163 629.5M2244 602L2244 627M2251 602L2251 627M2348 539.5L2373 539.5M2348 674.5L2373 674.5M2470 557L2470 582M2477 557L2477 582M2018 749.5L2043 749.5M1973 679L1998 679M1973 686L1998 686M1973 749.5L1998 749.5M1869 680.5L1892 680.5M1869 696.5L1892 696.5M1868 749.5L1893 749.5M2273 974.5L2298 974.5M2248.5 1233L2248.5 1256M2263.5 1233L2263.5 1256M2228 1308L2253 1308M2228 1315L2253 1315M2258 1308L2283 1308M2258 1315L2283 1315M2243 1379.5L2268 1379.5M2559 1067L2559 1092M2566 1067L2566 1092M2634 1067L2634 1092M2641 1067L2641 1092M2559 1097L2559 1122M2566 1097L2566 1122M2573 944.5L2598 944.5M2573 1144L2598 1144M2573 1151L2598 1151M2708 1114L2733 1114M2708 1121L2733 1121M2828 1114L2853 1114M2828 1121L2853 1121M2828 1199.5L2853 1199.5M2588 1234L2613 1234M2588 1241L2613 1241M2663 1234L2688 1234M2663 1241L2688 1241M2723 1234L2748 1234M2723 1241L2748 1241M2528 1379.5L2553 1379.5M2408 1604.5L2433 1604.5M2183 1488L2208 1488M2183 1495L2208 1495M2258 1488L2283 1488M2258 1495L2283 1495M2588 1488L2613 1488M2588 1495L2613 1495M2633 1488L2658 1488M2633 1495L2658 1495M2285 1679.5L2296 1679.5M2285 1694.5L2296 1694.5M2468 1769.5L2493 1769.5M2200 2027L2200 2052M2207 2027L2207 2052M2200 2087L2200 2112M2207 2087L2207 2112M2135.5 2072L2135.5 2097M2259 2061.5L2282 2061.5M2259 2077.5L2282 2077.5M2424 2282L2424 2307M2431 2282L2431 2307M2558 2194L2583 2194M2558 2201L2583 2201M2453 2339.5L2478 2339.5M1823 1169.5L1848 1169.5M2044 1274.5L2055 1274.5M2044 1289.5L2055 1289.5M2044 1304.5L2055 1304.5M1940.5 1382L1940.5 1407M1820.5 1745L1820.5 1755M1835.5 1745L1835.5 1755M1850.5 1745L1850.5 1755M1838 2159.5L1863 2159.5M1999 2204.5L2010 2204.5M1999 2219.5L2010 2219.5M1999 2234.5L2010 2234.5M1999 2249.5L2010 2249.5M1999 2264.5L2010 2264.5M1999 2279.5L2010 2279.5M1999 2294.5L2010 2294.5M1999 2309.5L2010 2309.5M972 2459.5L982 2459.5M972 2474.5L982 2474.5M972 2489.5L982 2489.5M972 2504.5L982 2504.5M1043 2549.5L1068 2549.5M2289 2492L2289 2517M2296 2492L2296 2517M2229 2522L2229 2547M2236 2522L2236 2547M2078 2613L2103 2613M2078 2620L2103 2620M2093 2669.5L2118 2669.5M2168 2669.5L2193 2669.5M2273 2669.5L2298 2669.5M2348 2669.5L2373 2669.5M2558 2669.5L2583 2669.5M2933 1109.5L2958 1109.5M2873 1424.5L2898 1424.5M3099 1082L3099 1107M3106 1082L3106 1107M3238 1056.5L3238 1072.5M3339 1052L3339 1077M3346 1052L3346 1077M3099 1292L3099 1317M3106 1292L3106 1317M3238 1266.5L3238 1282.5M3339 1262L3339 1287M3346 1262L3346 1287M3458 1244.5L3483 1244.5M3458 1454.5L3483 1454.5M3573 1244.5L3584 1244.5M3573 1259.5L3584 1259.5M2933 1604.5L2958 1604.5M2873 1919.5L2898 1919.5M3099 1577L3099 1602M3106 1577L3106 1602M3238 1551.5L3238 1567.5M3339 1547L3339 1572M3346 1547L3346 1572M3099 1787L3099 1812M3106 1787L3106 1812M3238 1761.5L3238 1777.5M3339 1757L3339 1782M3346 1757L3346 1782M3458 1739.5L3483 1739.5M3458 1949.5L3483 1949.5M3573 1739.5L3584 1739.5M3573 1754.5L3584 1754.5M3325 2087L3325 2112M3332 2087L3332 2112M3099 2117L3099 2142M3106 2117L3106 2142M3308 2294.5L3333 2294.5M3458 2144.5L3483 2144.5M3458 2339.5L3483 2339.5M3522.5 2136L3538.5 2136M3522.5 2152L3538.5 2152M3573 2024.5L3584 2024.5M3573 2039.5L3584 2039.5M3573 2219.5L3584 2219.5M3573 2234.5L3584 2234.5" stroke="#a53c3c" stroke-width="3.2" stroke-linecap="butt"/>
</g>
<path d="M832 239 Q845.5 229 859 239" stroke="#a53c3c" stroke-width="2.5" fill="none"/>
<rect x="1010" y="149" width="120" height="75" stroke="#a53c3c" stroke-width="2" fill="none"/>
<path d="M1482.5 264L1491.5 269.5L1482.5 275" stroke="#a53c3c" stroke-width="2" fill="none"/>
<path d="M1258 172L1273 179.5L1258 187Z" stroke="#a53c3c" stroke-width="2" fill="none"/>
<path d="M1191.5 44V74" stroke="#a53c3c" stroke-width="4.5"/>
<path d="M1197 75L1205.5 74.5L1203 81Z" fill="#a53c3c"/>
<path d="M1198 112L1205.5 127L1213 112Z" stroke="#a53c3c" stroke-width="2" fill="none"/>
<circle cx="1340.5" cy="104.5" r="26" stroke="#a53c3c" stroke-width="1.2" fill="none"/>
<path d="M1338 100L1346 104.5L1338 109Z" fill="#a53c3c"/>
<path d="M1350.5 109L1355.5 101L1360.5 109Z" fill="#a53c3c"/>
<path d="M1355.5 164 C1366 164 1366 179 1355.5 179 C1366 179 1366 194 1355.5 194 C1366 194 1366 209 1355.5 209 C1366 209 1366 224 1355.5 224" stroke="#a53c3c" stroke-width="2.2" fill="none"/>
<path d="M1252 310 Q1265.5 300 1279 310" stroke="#a53c3c" stroke-width="2.5" fill="none"/>
<path d="M1312 310 Q1325.5 300 1339 310" stroke="#a53c3c" stroke-width="2.5" fill="none"/>
<path d="M847 644 Q860.5 634 874 644" stroke="#a53c3c" stroke-width="2.5" fill="none"/>
<rect x="1025" y="554" width="120" height="75" stroke="#a53c3c" stroke-width="2" fill="none"/>
<path d="M1497.5 669L1506.5 674.5L1497.5 680" stroke="#a53c3c" stroke-width="2" fill="none"/>
<path d="M1273 577L1288 584.5L1273 592Z" stroke="#a53c3c" stroke-width="2" fill="none"/>
<path d="M1206.5 449V479" stroke="#a53c3c" stroke-width="4.5"/>
<path d="M1212 480L1220.5 479.5L1218 486Z" fill="#a53c3c"/>
<path d="M1213 517L1220.5 532L1228 517Z" stroke="#a53c3c" stroke-width="2" fill="none"/>
<circle cx="1355.5" cy="509.5" r="26" stroke="#a53c3c" stroke-width="1.2" fill="none"/>
<path d="M1353 505L1361 509.5L1353 514Z" fill="#a53c3c"/>
<path d="M1365.5 514L1370.5 506L1375.5 514Z" fill="#a53c3c"/>
<path d="M1370.5 569 C1381 569 1381 584 1370.5 584 C1381 584 1381 599 1370.5 599 C1381 599 1381 614 1370.5 614 C1381 614 1381 629 1370.5 629" stroke="#a53c3c" stroke-width="2.2" fill="none"/>
<path d="M1267 715 Q1280.5 705 1294 715" stroke="#a53c3c" stroke-width="2.5" fill="none"/>
<path d="M1327 715 Q1340.5 705 1354 715" stroke="#a53c3c" stroke-width="2.5" fill="none"/>
<path d="M795 383.5L800.5 374.5L806 383.5" stroke="#a53c3c" stroke-width="2" fill="none"/>
<rect x="485.5" y="464.5" width="38" height="46" stroke="#a53c3c" stroke-width="3" fill="none"/>
<path d="M620.5 443V535" stroke="#a53c3c" stroke-width="1" stroke-dasharray="4 3"/>
<path d="M705 803.5L710.5 794.5L716 803.5" stroke="#a53c3c" stroke-width="2" fill="none"/>
<path d="M697 869 Q710.5 859 724 869" stroke="#a53c3c" stroke-width="2.5" fill="none"/>
<rect x="342.5" y="1244.5" width="46" height="120" stroke="#a53c3c" stroke-width="3" fill="none"/>
<path d="M269.5 1254L260.5 1259.5L269.5 1265" stroke="#a53c3c" stroke-width="2" fill="none"/>
<path d="M284.5 1344L275.5 1349.5L284.5 1355" stroke="#a53c3c" stroke-width="2" fill="none"/>
<rect x="465" y="1360" width="25" height="5" fill="none" stroke="#a53c3c" stroke-width="2.2"/>
<path d="M660 1058.5L665.5 1049.5L671 1058.5" stroke="#a53c3c" stroke-width="2" fill="none"/>
<path d="M628 1252L635.5 1267L643 1252Z" stroke="#a53c3c" stroke-width="2" fill="none"/>
<rect x="1115" y="1199" width="270" height="945" stroke="#a53c3c" stroke-width="2" fill="none"/>
<path d="M1065 1178.5L1070.5 1169.5L1076 1178.5" stroke="#a53c3c" stroke-width="2" fill="none"/>
<path d="M935 1364.5 C935 1354 950 1354 950 1364.5 C950 1354 965 1354 965 1364.5 C965 1354 980 1354 980 1364.5 C980 1354 995 1354 995 1364.5" stroke="#a53c3c" stroke-width="2.2" fill="none"/>
<path d="M899.5 1359L890.5 1364.5L899.5 1370" stroke="#a53c3c" stroke-width="2" fill="none"/>
<path d="M1556.5 1344L1565.5 1349.5L1556.5 1355" stroke="#a53c3c" stroke-width="2" fill="none"/>
<path d="M1515 1748.5L1520.5 1739.5L1526 1748.5" stroke="#a53c3c" stroke-width="2" fill="none"/>
<rect x="1655" y="1739" width="75" height="135" stroke="#a53c3c" stroke-width="2" fill="none"/>
<rect x="660" y="1405" width="25" height="5" fill="none" stroke="#a53c3c" stroke-width="2.2"/>
<rect x="1002.5" y="1510.5" width="16" height="8" fill="none" stroke="#a53c3c" stroke-width="2"/>
<rect x="1002.5" y="1585.5" width="16" height="8" fill="none" stroke="#a53c3c" stroke-width="2"/>
<path d="M720 1508.5L725.5 1499.5L731 1508.5" stroke="#a53c3c" stroke-width="2" fill="none"/>
<path d="M735 1619.5H748" stroke="#a53c3c" stroke-dasharray="3 2"/>
<path d="M695 1717L710 1724.5L695 1732Z" stroke="#a53c3c" stroke-width="2" fill="none"/>
<path d="M756 1717L741 1724.5L756 1732Z" stroke="#a53c3c" stroke-width="2" fill="none"/>
<path d="M785 1702L800 1709.5L785 1717Z" stroke="#a53c3c" stroke-width="2" fill="none"/>
<path d="M846 1702L831 1709.5L846 1717Z" stroke="#a53c3c" stroke-width="2" fill="none"/>
<path d="M801.5 2009V2039" stroke="#a53c3c" stroke-width="4.5"/>
<path d="M807 2040L815.5 2039.5L813 2046Z" fill="#a53c3c"/>
<rect x="702.5" y="2204.5" width="46" height="90" stroke="#a53c3c" stroke-width="3" fill="none"/>
<path d="M660 2198.5L665.5 2189.5L671 2198.5" stroke="#a53c3c" stroke-width="2" fill="none"/>
<path d="M806.5 2244L815.5 2249.5L806.5 2255" stroke="#a53c3c" stroke-width="2" fill="none"/>
<path d="M806.5 2274L815.5 2279.5L806.5 2285" stroke="#a53c3c" stroke-width="2" fill="none"/>
<rect x="432.5" y="1484.5" width="46" height="60" stroke="#a53c3c" stroke-width="3" fill="none"/>
<path d="M374.5 1524L365.5 1529.5L374.5 1535" stroke="#a53c3c" stroke-width="2" fill="none"/>
<rect x="432.5" y="1619.5" width="46" height="91" stroke="#a53c3c" stroke-width="3" fill="none"/>
<path d="M359.5 1599L350.5 1604.5L359.5 1610" stroke="#a53c3c" stroke-width="2" fill="none"/>
<rect x="260" y="1814" width="165" height="210" stroke="#a53c3c" stroke-width="2" fill="none"/>
<path d="M120 1763.5L125.5 1754.5L131 1763.5" stroke="#a53c3c" stroke-width="2" fill="none"/>
<path d="M118 1792L125.5 1807L133 1792Z" stroke="#a53c3c" stroke-width="2" fill="none"/>
<path d="M491 1957L476 1964.5L491 1972Z" stroke="#a53c3c" stroke-width="2" fill="none"/>
<path d="M495 2063.5L500.5 2054.5L506 2063.5" stroke="#a53c3c" stroke-width="2" fill="none"/>
<path d="M224.5 2484L215.5 2489.5L224.5 2495" stroke="#a53c3c" stroke-width="2" fill="none"/>
<rect x="417.5" y="2369.5" width="46" height="211" stroke="#a53c3c" stroke-width="3" fill="none"/>
<path d="M2107 165 Q2120.5 155 2134 165" stroke="#a53c3c" stroke-width="2.5" fill="none"/>
<path d="M2346.5 179V209" stroke="#a53c3c" stroke-width="4.5"/>
<path d="M2352 210L2360.5 209.5L2358 216Z" fill="#a53c3c"/>
<path d="M2226.5 239V269" stroke="#a53c3c" stroke-width="4.5"/>
<path d="M2232 270L2240.5 269.5L2238 276Z" fill="#a53c3c"/>
<path d="M2360.5 359 C2371 359 2371 374 2360.5 374 C2371 374 2371 389 2360.5 389 C2371 389 2371 404 2360.5 404 C2371 404 2371 419 2360.5 419" stroke="#a53c3c" stroke-width="2.2" fill="none"/>
<path d="M1859.5 339L1850.5 344.5L1859.5 350" stroke="#a53c3c" stroke-width="2" fill="none"/>
<path d="M1895 344.5 C1895 334 1910 334 1910 344.5 C1910 334 1925 334 1925 344.5 C1925 334 1940 334 1940 344.5 C1940 334 1955 334 1955 344.5" stroke="#a53c3c" stroke-width="2.2" fill="none"/>
<path d="M1985.5 449 C1996 449 1996 464 1985.5 464 C1996 464 1996 479 1985.5 479 C1996 479 1996 494 1985.5 494 C1996 494 1996 509 1985.5 509" stroke="#a53c3c" stroke-width="2.2" fill="none"/>
<path d="M2150.5 419 C2161 419 2161 434 2150.5 434 C2161 434 2161 449 2150.5 449 C2161 449 2161 464 2150.5 464 C2161 464 2161 479 2150.5 479" stroke="#a53c3c" stroke-width="2.2" fill="none"/>
<path d="M2136.5 539V569" stroke="#a53c3c" stroke-width="4.5"/>
<path d="M2142 570L2150.5 569.5L2148 576Z" fill="#a53c3c"/>
<path d="M2346.5 464V494" stroke="#a53c3c" stroke-width="4.5"/>
<path d="M2352 495L2360.5 494.5L2358 501Z" fill="#a53c3c"/>
<path d="M2346.5 599V629" stroke="#a53c3c" stroke-width="4.5"/>
<path d="M2352 630L2360.5 629.5L2358 636Z" fill="#a53c3c"/>
<rect x="2509.5" y="449.5" width="32" height="39" stroke="#a53c3c" stroke-width="3" fill="none"/>
<path d="M1971.5 584V614" stroke="#a53c3c" stroke-width="4.5"/>
<path d="M1977 615L1985.5 614.5L1983 621Z" fill="#a53c3c"/>
<rect x="1873" y="684.5" width="15" height="8" fill="none" stroke="#a53c3c" stroke-width="2"/>
<rect x="2345" y="1057" width="150" height="209" stroke="#a53c3c" stroke-width="2" fill="none"/>
<circle cx="2340" cy="1124.5" r="5.5" fill="none" stroke="#a53c3c" stroke-width="1.2"/>
<rect x="2252" y="1237" width="8" height="15" fill="none" stroke="#a53c3c" stroke-width="2"/>
<path d="M2750 1079.5 C2750 1090 2765 1090 2765 1079.5 C2765 1090 2780 1090 2780 1079.5 C2780 1090 2795 1090 2795 1079.5 C2795 1090 2810 1090 2810 1079.5" stroke="#a53c3c" stroke-width="2.2" fill="none"/>
<path d="M2615 1109.5 C2615 1120 2630 1120 2630 1109.5 C2630 1120 2645 1120 2645 1109.5 C2645 1120 2660 1120 2660 1109.5 C2660 1120 2675 1120 2675 1109.5" stroke="#a53c3c" stroke-width="2.2" fill="none"/>
<path d="M2585.5 989 C2575 989 2575 1004 2585.5 1004 C2575 1004 2575 1019 2585.5 1019 C2575 1019 2575 1034 2585.5 1034 C2575 1034 2575 1049 2585.5 1049" stroke="#a53c3c" stroke-width="2.2" fill="none"/>
<rect x="2825.5" y="944.5" width="31" height="39" stroke="#a53c3c" stroke-width="3" fill="none"/>
<path d="M2757.5 1179L2766.5 1184.5L2757.5 1190" stroke="#a53c3c" stroke-width="2" fill="none"/>
<rect x="2345" y="1417" width="150" height="127" stroke="#a53c3c" stroke-width="2" fill="none"/>
<path d="M2190 1403.5L2195.5 1394.5L2201 1403.5" stroke="#a53c3c" stroke-width="2" fill="none"/>
<path d="M2681.5 1434L2690.5 1439.5L2681.5 1445" stroke="#a53c3c" stroke-width="2" fill="none"/>
<rect x="2277.5" y="1664.5" width="39" height="46" stroke="#a53c3c" stroke-width="3" fill="none"/>
<rect x="2345" y="1859" width="180" height="390" stroke="#a53c3c" stroke-width="2" fill="none"/>
<path d="M2400 1778.5L2405.5 1769.5L2411 1778.5" stroke="#a53c3c" stroke-width="2" fill="none"/>
<rect x="2263" y="2065.5" width="15" height="8" fill="none" stroke="#a53c3c" stroke-width="2"/>
<path d="M2585 2041 Q2575 2054.5 2585 2068" stroke="#a53c3c" stroke-width="2.5" fill="none"/>
<path d="M2630 2056 Q2620 2069.5 2630 2083" stroke="#a53c3c" stroke-width="2.5" fill="none"/>
<path d="M2270 2339.5 C2270 2329 2285 2329 2285 2339.5 C2285 2329 2300 2329 2300 2339.5 C2300 2329 2315 2329 2315 2339.5 C2315 2329 2330 2329 2330 2339.5" stroke="#a53c3c" stroke-width="2.2" fill="none"/>
<path d="M2234.5 2334L2225.5 2339.5L2234.5 2345" stroke="#a53c3c" stroke-width="2" fill="none"/>
<rect x="2038.5" y="1259.5" width="38" height="61" stroke="#a53c3c" stroke-width="3" fill="none"/>
<path d="M1949.5 1284L1940.5 1289.5L1949.5 1295" stroke="#a53c3c" stroke-width="2" fill="none"/>
<path d="M1946.5 1464L1955.5 1469.5L1946.5 1475" stroke="#a53c3c" stroke-width="2" fill="none"/>
<circle cx="1895.5" cy="1619.5" r="26" stroke="#a53c3c" stroke-width="1.2" fill="none"/>
<path d="M1890.5 1616L1900.5 1616L1895.5 1624Z" fill="#a53c3c"/>
<path d="M1900 1599.5L1900 1608.5L1892 1604Z" fill="#a53c3c"/>
<rect x="1815.5" y="1738.5" width="40" height="6" fill="none" stroke="#a53c3c" stroke-width="2.2"/>
<path d="M1799.5 1704L1790.5 1709.5L1799.5 1715" stroke="#a53c3c" stroke-width="2" fill="none"/>
<path d="M1872.5 1704L1881.5 1709.5L1872.5 1715" stroke="#a53c3c" stroke-width="2" fill="none"/>
<circle cx="1895.5" cy="1814.5" r="26" stroke="#a53c3c" stroke-width="1.2" fill="none"/>
<path d="M1890.5 1811L1900.5 1811L1895.5 1819Z" fill="#a53c3c"/>
<path d="M1900 1794.5L1900 1803.5L1892 1799Z" fill="#a53c3c"/>
<path d="M1905 1865.5L1910.5 1874.5L1916 1865.5" stroke="#a53c3c" stroke-width="2" fill="none"/>
<rect x="1895" y="1934" width="90" height="195" stroke="#a53c3c" stroke-width="2" fill="none"/>
<circle cx="1889.5" cy="2084.5" r="5.5" fill="none" stroke="#a53c3c" stroke-width="1.2"/>
<rect x="1993.5" y="2189.5" width="38" height="136" stroke="#a53c3c" stroke-width="3" fill="none"/>
<rect x="950.5" y="2444.5" width="39" height="75" stroke="#a53c3c" stroke-width="3" fill="none"/>
<path d="M1005 2423.5L1010.5 2414.5L1016 2423.5" stroke="#a53c3c" stroke-width="2" fill="none"/>
<rect x="2420" y="2444" width="120" height="135" stroke="#a53c3c" stroke-width="2" fill="none"/>
<path d="M1934.5 2574L1925.5 2579.5L1934.5 2585" stroke="#a53c3c" stroke-width="2" fill="none"/>
<path d="M1985 2579.5 C1985 2569 2000 2569 2000 2579.5 C2000 2569 2015 2569 2015 2579.5 C2015 2569 2030 2569 2030 2579.5 C2030 2569 2045 2569 2045 2579.5" stroke="#a53c3c" stroke-width="2.2" fill="none"/>
<path d="M2107 2622 Q2120.5 2612 2134 2622" stroke="#a53c3c" stroke-width="2.5" fill="none"/>
<path d="M2242 2622 Q2255.5 2612 2269 2622" stroke="#a53c3c" stroke-width="2.5" fill="none"/>
<path d="M2330 2604L2322 2609.5L2330 2615" stroke="#a53c3c" fill="none" stroke-width="1.2"/>
<path d="M3071.5 999L3080.5 1004.5L3071.5 1010" stroke="#a53c3c" stroke-width="2" fill="none"/>
<path d="M2990.5 1034L2992 1034Q3023 1038 3022 1064.5Q3023 1090 2992 1094L2990.5 1094Z" stroke="#a53c3c" stroke-width="3" fill="none"/>
<circle cx="3028" cy="1064.5" r="5.5" fill="none" stroke="#a53c3c" stroke-width="1.6"/>
<path d="M2990.5 1109L2992 1109Q3023 1113 3022 1139.5Q3023 1165 2992 1169L2990.5 1169Z" stroke="#a53c3c" stroke-width="3" fill="none"/>
<circle cx="3028" cy="1139.5" r="5.5" fill="none" stroke="#a53c3c" stroke-width="1.6"/>
<path d="M2990.5 1199L2992 1199Q3023 1203 3022 1229.5Q3023 1255 2992 1259L2990.5 1259Z" stroke="#a53c3c" stroke-width="3" fill="none"/>
<circle cx="3028" cy="1229.5" r="5.5" fill="none" stroke="#a53c3c" stroke-width="1.6"/>
<path d="M2990.5 1274L2992 1274Q3023 1278 3022 1304.5Q3023 1330 2992 1334L2990.5 1334Z" stroke="#a53c3c" stroke-width="3" fill="none"/>
<circle cx="3028" cy="1304.5" r="5.5" fill="none" stroke="#a53c3c" stroke-width="1.6"/>
<rect x="3185" y="1094" width="90" height="120" stroke="#a53c3c" stroke-width="2" fill="none"/>
<path d="M3095 1036 Q3105 1049.5 3095 1063" stroke="#a53c3c" stroke-width="2.5" fill="none"/>
<path d="M3223 1057L3238 1064.5L3223 1072Z" stroke="#a53c3c" stroke-width="2" fill="none"/>
<circle cx="3455.5" cy="1124.5" r="26" stroke="#a53c3c" stroke-width="1.2" fill="none"/>
<path d="M3450 1124.5L3458 1120L3458 1129Z" fill="#a53c3c"/>
<path d="M3465.5 1119L3470.5 1127L3475.5 1119Z" fill="#a53c3c"/>
<circle cx="3455.5" cy="1184.5" r="26" stroke="#a53c3c" stroke-width="1.2" fill="none"/>
<path d="M3450 1184.5L3458 1180L3458 1189Z" fill="#a53c3c"/>
<path d="M3465.5 1179L3470.5 1187L3475.5 1179Z" fill="#a53c3c"/>
<rect x="3185" y="1304" width="90" height="120" stroke="#a53c3c" stroke-width="2" fill="none"/>
<path d="M3095 1246 Q3105 1259.5 3095 1273" stroke="#a53c3c" stroke-width="2.5" fill="none"/>
<path d="M3223 1267L3238 1274.5L3223 1282Z" stroke="#a53c3c" stroke-width="2" fill="none"/>
<circle cx="3455.5" cy="1334.5" r="26" stroke="#a53c3c" stroke-width="1.2" fill="none"/>
<path d="M3450 1334.5L3458 1330L3458 1339Z" fill="#a53c3c"/>
<path d="M3465.5 1329L3470.5 1337L3475.5 1329Z" fill="#a53c3c"/>
<circle cx="3455.5" cy="1394.5" r="26" stroke="#a53c3c" stroke-width="1.2" fill="none"/>
<path d="M3450 1394.5L3458 1390L3458 1399Z" fill="#a53c3c"/>
<path d="M3465.5 1389L3470.5 1397L3475.5 1389Z" fill="#a53c3c"/>
<path d="M3315 1013.5L3320.5 1004.5L3326 1013.5" stroke="#a53c3c" stroke-width="2" fill="none"/>
<path d="M3341.5 1239L3350.5 1244.5L3341.5 1250" stroke="#a53c3c" stroke-width="2" fill="none"/>
<rect x="3567.5" y="1229.5" width="39" height="45" stroke="#a53c3c" stroke-width="3" fill="none"/>
<path d="M3071.5 1494L3080.5 1499.5L3071.5 1505" stroke="#a53c3c" stroke-width="2" fill="none"/>
<path d="M2990.5 1529L2992 1529Q3023 1533 3022 1559.5Q3023 1585 2992 1589L2990.5 1589Z" stroke="#a53c3c" stroke-width="3" fill="none"/>
<circle cx="3028" cy="1559.5" r="5.5" fill="none" stroke="#a53c3c" stroke-width="1.6"/>
<path d="M2990.5 1604L2992 1604Q3023 1608 3022 1634.5Q3023 1660 2992 1664L2990.5 1664Z" stroke="#a53c3c" stroke-width="3" fill="none"/>
<circle cx="3028" cy="1634.5" r="5.5" fill="none" stroke="#a53c3c" stroke-width="1.6"/>
<path d="M2990.5 1694L2992 1694Q3023 1698 3022 1724.5Q3023 1750 2992 1754L2990.5 1754Z" stroke="#a53c3c" stroke-width="3" fill="none"/>
<circle cx="3028" cy="1724.5" r="5.5" fill="none" stroke="#a53c3c" stroke-width="1.6"/>
<path d="M2990.5 1769L2992 1769Q3023 1773 3022 1799.5Q3023 1825 2992 1829L2990.5 1829Z" stroke="#a53c3c" stroke-width="3" fill="none"/>
<circle cx="3028" cy="1799.5" r="5.5" fill="none" stroke="#a53c3c" stroke-width="1.6"/>
<rect x="3185" y="1589" width="90" height="120" stroke="#a53c3c" stroke-width="2" fill="none"/>
<path d="M3095 1531 Q3105 1544.5 3095 1558" stroke="#a53c3c" stroke-width="2.5" fill="none"/>
<path d="M3223 1552L3238 1559.5L3223 1567Z" stroke="#a53c3c" stroke-width="2" fill="none"/>
<circle cx="3455.5" cy="1619.5" r="26" stroke="#a53c3c" stroke-width="1.2" fill="none"/>
<path d="M3450 1619.5L3458 1615L3458 1624Z" fill="#a53c3c"/>
<path d="M3465.5 1614L3470.5 1622L3475.5 1614Z" fill="#a53c3c"/>
<circle cx="3455.5" cy="1679.5" r="26" stroke="#a53c3c" stroke-width="1.2" fill="none"/>
<path d="M3450 1679.5L3458 1675L3458 1684Z" fill="#a53c3c"/>
<path d="M3465.5 1674L3470.5 1682L3475.5 1674Z" fill="#a53c3c"/>
<rect x="3185" y="1799" width="90" height="120" stroke="#a53c3c" stroke-width="2" fill="none"/>
<path d="M3095 1741 Q3105 1754.5 3095 1768" stroke="#a53c3c" stroke-width="2.5" fill="none"/>
<path d="M3223 1762L3238 1769.5L3223 1777Z" stroke="#a53c3c" stroke-width="2" fill="none"/>
<circle cx="3455.5" cy="1829.5" r="26" stroke="#a53c3c" stroke-width="1.2" fill="none"/>
<path d="M3450 1829.5L3458 1825L3458 1834Z" fill="#a53c3c"/>
<path d="M3465.5 1824L3470.5 1832L3475.5 1824Z" fill="#a53c3c"/>
<circle cx="3455.5" cy="1889.5" r="26" stroke="#a53c3c" stroke-width="1.2" fill="none"/>
<path d="M3450 1889.5L3458 1885L3458 1894Z" fill="#a53c3c"/>
<path d="M3465.5 1884L3470.5 1892L3475.5 1884Z" fill="#a53c3c"/>
<path d="M3315 1508.5L3320.5 1499.5L3326 1508.5" stroke="#a53c3c" stroke-width="2" fill="none"/>
<path d="M3341.5 1734L3350.5 1739.5L3341.5 1745" stroke="#a53c3c" stroke-width="2" fill="none"/>
<rect x="3567.5" y="1724.5" width="39" height="45" stroke="#a53c3c" stroke-width="3" fill="none"/>
<rect x="3185" y="2129" width="90" height="120" stroke="#a53c3c" stroke-width="2" fill="none"/>
<path d="M2985 2048.5L2990.5 2039.5L2996 2048.5" stroke="#a53c3c" stroke-width="2" fill="none"/>
<path d="M3110 2071 Q3100 2084.5 3110 2098" stroke="#a53c3c" stroke-width="2.5" fill="none"/>
<circle cx="3455.5" cy="2084.5" r="26" stroke="#a53c3c" stroke-width="1.2" fill="none"/>
<path d="M3450 2084.5L3458 2080L3458 2089Z" fill="#a53c3c"/>
<path d="M3465.5 2079L3470.5 2087L3475.5 2079Z" fill="#a53c3c"/>
<circle cx="3455.5" cy="2279.5" r="26" stroke="#a53c3c" stroke-width="1.2" fill="none"/>
<path d="M3450 2279.5L3458 2275L3458 2284Z" fill="#a53c3c"/>
<path d="M3465.5 2274L3470.5 2282L3475.5 2274Z" fill="#a53c3c"/>
<path d="M3523 2121L3530.5 2136L3538 2121Z" stroke="#a53c3c" stroke-width="2" fill="none"/>
<path d="M3523 2167L3530.5 2152L3538 2167Z" stroke="#a53c3c" stroke-width="2" fill="none"/>
<path d="M3565.5 2139L3574.5 2144.5L3565.5 2150" stroke="#a53c3c" stroke-width="2" fill="none"/>
<rect x="3567.5" y="2009.5" width="39" height="45" stroke="#a53c3c" stroke-width="3" fill="none"/>
<path d="M3449.5 2019L3440.5 2024.5L3449.5 2030" stroke="#a53c3c" stroke-width="2" fill="none"/>
<rect x="3567.5" y="2204.5" width="39" height="45" stroke="#a53c3c" stroke-width="3" fill="none"/>
<path d="M3449.5 2214L3440.5 2219.5L3449.5 2225" stroke="#a53c3c" stroke-width="2" fill="none"/>
<path d="M844.2 10.7h2.6l2.5 2.5v2.6l-2.5 2.5h-2.6l-2.5 -2.5v-2.6zM844.2 100.7h2.6l2.5 2.5v2.6l-2.5 2.5h-2.6l-2.5 -2.5v-2.6zM889.2 10.7h2.6l2.5 2.5v2.6l-2.5 2.5h-2.6l-2.5 -2.5v-2.6zM889.2 100.7h2.6l2.5 2.5v2.6l-2.5 2.5h-2.6l-2.5 -2.5v-2.6zM934.2 10.7h2.6l2.5 2.5v2.6l-2.5 2.5h-2.6l-2.5 -2.5v-2.6zM934.2 100.7h2.6l2.5 2.5v2.6l-2.5 2.5h-2.6l-2.5 -2.5v-2.6zM979.2 10.7h2.6l2.5 2.5v2.6l-2.5 2.5h-2.6l-2.5 -2.5v-2.6zM979.2 100.7h2.6l2.5 2.5v2.6l-2.5 2.5h-2.6l-2.5 -2.5v-2.6zM1024.2 10.7h2.6l2.5 2.5v2.6l-2.5 2.5h-2.6l-2.5 -2.5v-2.6zM1024.2 100.7h2.6l2.5 2.5v2.6l-2.5 2.5h-2.6l-2.5 -2.5v-2.6zM1069.2 10.7h2.6l2.5 2.5v2.6l-2.5 2.5h-2.6l-2.5 -2.5v-2.6zM1069.2 100.7h2.6l2.5 2.5v2.6l-2.5 2.5h-2.6l-2.5 -2.5v-2.6zM1204.2 10.7h2.6l2.5 2.5v2.6l-2.5 2.5h-2.6l-2.5 -2.5v-2.6zM844.2 190.7h2.6l2.5 2.5v2.6l-2.5 2.5h-2.6l-2.5 -2.5v-2.6zM889.2 190.7h2.6l2.5 2.5v2.6l-2.5 2.5h-2.6l-2.5 -2.5v-2.6zM1174.2 100.7h2.6l2.5 2.5v2.6l-2.5 2.5h-2.6l-2.5 -2.5v-2.6zM1174.2 130.7h2.6l2.5 2.5v2.6l-2.5 2.5h-2.6l-2.5 -2.5v-2.6zM1174.2 160.7h2.6l2.5 2.5v2.6l-2.5 2.5h-2.6l-2.5 -2.5v-2.6zM949.2 235.7h2.6l2.5 2.5v2.6l-2.5 2.5h-2.6l-2.5 -2.5v-2.6zM1264.2 265.7h2.6l2.5 2.5v2.6l-2.5 2.5h-2.6l-2.5 -2.5v-2.6zM1324.2 265.7h2.6l2.5 2.5v2.6l-2.5 2.5h-2.6l-2.5 -2.5v-2.6zM1354.2 265.7h2.6l2.5 2.5v2.6l-2.5 2.5h-2.6l-2.5 -2.5v-2.6zM1384.2 265.7h2.6l2.5 2.5v2.6l-2.5 2.5h-2.6l-2.5 -2.5v-2.6zM1219.2 175.7h2.6l2.5 2.5v2.6l-2.5 2.5h-2.6l-2.5 -2.5v-2.6zM1354.2 130.7h2.6l2.5 2.5v2.6l-2.5 2.5h-2.6l-2.5 -2.5v-2.6zM1204.2 85.7h2.6l2.5 2.5v2.6l-2.5 2.5h-2.6l-2.5 -2.5v-2.6zM889.2 325.7h2.6l2.5 2.5v2.6l-2.5 2.5h-2.6l-2.5 -2.5v-2.6zM949.2 325.7h2.6l2.5 2.5v2.6l-2.5 2.5h-2.6l-2.5 -2.5v-2.6zM1159.2 325.7h2.6l2.5 2.5v2.6l-2.5 2.5h-2.6l-2.5 -2.5v-2.6zM1189.2 325.7h2.6l2.5 2.5v2.6l-2.5 2.5h-2.6l-2.5 -2.5v-2.6zM1219.2 325.7h2.6l2.5 2.5v2.6l-2.5 2.5h-2.6l-2.5 -2.5v-2.6zM1264.2 325.7h2.6l2.5 2.5v2.6l-2.5 2.5h-2.6l-2.5 -2.5v-2.6zM1324.2 325.7h2.6l2.5 2.5v2.6l-2.5 2.5h-2.6l-2.5 -2.5v-2.6zM1384.2 325.7h2.6l2.5 2.5v2.6l-2.5 2.5h-2.6l-2.5 -2.5v-2.6zM859.2 415.7h2.6l2.5 2.5v2.6l-2.5 2.5h-2.6l-2.5 -2.5v-2.6zM859.2 505.7h2.6l2.5 2.5v2.6l-2.5 2.5h-2.6l-2.5 -2.5v-2.6zM904.2 415.7h2.6l2.5 2.5v2.6l-2.5 2.5h-2.6l-2.5 -2.5v-2.6zM904.2 505.7h2.6l2.5 2.5v2.6l-2.5 2.5h-2.6l-2.5 -2.5v-2.6zM949.2 415.7h2.6l2.5 2.5v2.6l-2.5 2.5h-2.6l-2.5 -2.5v-2.6zM949.2 505.7h2.6l2.5 2.5v2.6l-2.5 2.5h-2.6l-2.5 -2.5v-2.6zM994.2 415.7h2.6l2.5 2.5v2.6l-2.5 2.5h-2.6l-2.5 -2.5v-2.6zM994.2 505.7h2.6l2.5 2.5v2.6l-2.5 2.5h-2.6l-2.5 -2.5v-2.6zM1039.2 415.7h2.6l2.5 2.5v2.6l-2.5 2.5h-2.6l-2.5 -2.5v-2.6zM1039.2 505.7h2.6l2.5 2.5v2.6l-2.5 2.5h-2.6l-2.5 -2.5v-2.6zM1084.2 415.7h2.6l2.5 2.5v2.6l-2.5 2.5h-2.6l-2.5 -2.5v-2.6zM1084.2 505.7h2.6l2.5 2.5v2.6l-2.5 2.5h-2.6l-2.5 -2.5v-2.6zM1219.2 415.7h2.6l2.5 2.5v2.6l-2.5 2.5h-2.6l-2.5 -2.5v-2.6zM859.2 595.7h2.6l2.5 2.5v2.6l-2.5 2.5h-2.6l-2.5 -2.5v-2.6zM904.2 595.7h2.6l2.5 2.5v2.6l-2.5 2.5h-2.6l-2.5 -2.5v-2.6zM1189.2 505.7h2.6l2.5 2.5v2.6l-2.5 2.5h-2.6l-2.5 -2.5v-2.6zM1189.2 535.7h2.6l2.5 2.5v2.6l-2.5 2.5h-2.6l-2.5 -2.5v-2.6zM1189.2 565.7h2.6l2.5 2.5v2.6l-2.5 2.5h-2.6l-2.5 -2.5v-2.6zM964.2 640.7h2.6l2.5 2.5v2.6l-2.5 2.5h-2.6l-2.5 -2.5v-2.6zM1279.2 670.7h2.6l2.5 2.5v2.6l-2.5 2.5h-2.6l-2.5 -2.5v-2.6zM1339.2 670.7h2.6l2.5 2.5v2.6l-2.5 2.5h-2.6l-2.5 -2.5v-2.6zM1369.2 670.7h2.6l2.5 2.5v2.6l-2.5 2.5h-2.6l-2.5 -2.5v-2.6zM1399.2 670.7h2.6l2.5 2.5v2.6l-2.5 2.5h-2.6l-2.5 -2.5v-2.6zM1234.2 580.7h2.6l2.5 2.5v2.6l-2.5 2.5h-2.6l-2.5 -2.5v-2.6zM1369.2 535.7h2.6l2.5 2.5v2.6l-2.5 2.5h-2.6l-2.5 -2.5v-2.6zM1219.2 490.7h2.6l2.5 2.5v2.6l-2.5 2.5h-2.6l-2.5 -2.5v-2.6zM904.2 730.7h2.6l2.5 2.5v2.6l-2.5 2.5h-2.6l-2.5 -2.5v-2.6zM964.2 730.7h2.6l2.5 2.5v2.6l-2.5 2.5h-2.6l-2.5 -2.5v-2.6zM1174.2 730.7h2.6l2.5 2.5v2.6l-2.5 2.5h-2.6l-2.5 -2.5v-2.6zM1204.2 730.7h2.6l2.5 2.5v2.6l-2.5 2.5h-2.6l-2.5 -2.5v-2.6zM1234.2 730.7h2.6l2.5 2.5v2.6l-2.5 2.5h-2.6l-2.5 -2.5v-2.6zM1279.2 730.7h2.6l2.5 2.5v2.6l-2.5 2.5h-2.6l-2.5 -2.5v-2.6zM1339.2 730.7h2.6l2.5 2.5v2.6l-2.5 2.5h-2.6l-2.5 -2.5v-2.6zM1399.2 730.7h2.6l2.5 2.5v2.6l-2.5 2.5h-2.6l-2.5 -2.5v-2.6zM814.2 490.7h2.6l2.5 2.5v2.6l-2.5 2.5h-2.6l-2.5 -2.5v-2.6zM799.2 490.7h2.6l2.5 2.5v2.6l-2.5 2.5h-2.6l-2.5 -2.5v-2.6zM709.2 820.7h2.6l2.5 2.5v2.6l-2.5 2.5h-2.6l-2.5 -2.5v-2.6zM709.2 895.7h2.6l2.5 2.5v2.6l-2.5 2.5h-2.6l-2.5 -2.5v-2.6zM754.2 820.7h2.6l2.5 2.5v2.6l-2.5 2.5h-2.6l-2.5 -2.5v-2.6zM754.2 895.7h2.6l2.5 2.5v2.6l-2.5 2.5h-2.6l-2.5 -2.5v-2.6zM814.2 820.7h2.6l2.5 2.5v2.6l-2.5 2.5h-2.6l-2.5 -2.5v-2.6zM814.2 895.7h2.6l2.5 2.5v2.6l-2.5 2.5h-2.6l-2.5 -2.5v-2.6zM874.2 820.7h2.6l2.5 2.5v2.6l-2.5 2.5h-2.6l-2.5 -2.5v-2.6zM874.2 895.7h2.6l2.5 2.5v2.6l-2.5 2.5h-2.6l-2.5 -2.5v-2.6zM934.2 820.7h2.6l2.5 2.5v2.6l-2.5 2.5h-2.6l-2.5 -2.5v-2.6zM934.2 895.7h2.6l2.5 2.5v2.6l-2.5 2.5h-2.6l-2.5 -2.5v-2.6zM994.2 820.7h2.6l2.5 2.5v2.6l-2.5 2.5h-2.6l-2.5 -2.5v-2.6zM994.2 895.7h2.6l2.5 2.5v2.6l-2.5 2.5h-2.6l-2.5 -2.5v-2.6zM1054.2 820.7h2.6l2.5 2.5v2.6l-2.5 2.5h-2.6l-2.5 -2.5v-2.6zM1054.2 895.7h2.6l2.5 2.5v2.6l-2.5 2.5h-2.6l-2.5 -2.5v-2.6zM1114.2 820.7h2.6l2.5 2.5v2.6l-2.5 2.5h-2.6l-2.5 -2.5v-2.6zM1114.2 895.7h2.6l2.5 2.5v2.6l-2.5 2.5h-2.6l-2.5 -2.5v-2.6zM1174.2 820.7h2.6l2.5 2.5v2.6l-2.5 2.5h-2.6l-2.5 -2.5v-2.6zM1174.2 895.7h2.6l2.5 2.5v2.6l-2.5 2.5h-2.6l-2.5 -2.5v-2.6zM1234.2 820.7h2.6l2.5 2.5v2.6l-2.5 2.5h-2.6l-2.5 -2.5v-2.6zM1234.2 895.7h2.6l2.5 2.5v2.6l-2.5 2.5h-2.6l-2.5 -2.5v-2.6zM1294.2 820.7h2.6l2.5 2.5v2.6l-2.5 2.5h-2.6l-2.5 -2.5v-2.6zM1294.2 895.7h2.6l2.5 2.5v2.6l-2.5 2.5h-2.6l-2.5 -2.5v-2.6zM1354.2 820.7h2.6l2.5 2.5v2.6l-2.5 2.5h-2.6l-2.5 -2.5v-2.6zM1354.2 895.7h2.6l2.5 2.5v2.6l-2.5 2.5h-2.6l-2.5 -2.5v-2.6zM1414.2 820.7h2.6l2.5 2.5v2.6l-2.5 2.5h-2.6l-2.5 -2.5v-2.6zM1414.2 895.7h2.6l2.5 2.5v2.6l-2.5 2.5h-2.6l-2.5 -2.5v-2.6zM1474.2 820.7h2.6l2.5 2.5v2.6l-2.5 2.5h-2.6l-2.5 -2.5v-2.6zM1474.2 895.7h2.6l2.5 2.5v2.6l-2.5 2.5h-2.6l-2.5 -2.5v-2.6zM1534.2 820.7h2.6l2.5 2.5v2.6l-2.5 2.5h-2.6l-2.5 -2.5v-2.6zM1534.2 895.7h2.6l2.5 2.5v2.6l-2.5 2.5h-2.6l-2.5 -2.5v-2.6zM1594.2 820.7h2.6l2.5 2.5v2.6l-2.5 2.5h-2.6l-2.5 -2.5v-2.6zM1594.2 895.7h2.6l2.5 2.5v2.6l-2.5 2.5h-2.6l-2.5 -2.5v-2.6zM1654.2 820.7h2.6l2.5 2.5v2.6l-2.5 2.5h-2.6l-2.5 -2.5v-2.6zM1654.2 895.7h2.6l2.5 2.5v2.6l-2.5 2.5h-2.6l-2.5 -2.5v-2.6zM1714.2 820.7h2.6l2.5 2.5v2.6l-2.5 2.5h-2.6l-2.5 -2.5v-2.6zM1714.2 895.7h2.6l2.5 2.5v2.6l-2.5 2.5h-2.6l-2.5 -2.5v-2.6zM1774.2 820.7h2.6l2.5 2.5v2.6l-2.5 2.5h-2.6l-2.5 -2.5v-2.6zM1774.2 895.7h2.6l2.5 2.5v2.6l-2.5 2.5h-2.6l-2.5 -2.5v-2.6zM1834.2 820.7h2.6l2.5 2.5v2.6l-2.5 2.5h-2.6l-2.5 -2.5v-2.6zM1834.2 895.7h2.6l2.5 2.5v2.6l-2.5 2.5h-2.6l-2.5 -2.5v-2.6zM664.2 1135.7h2.6l2.5 2.5v2.6l-2.5 2.5h-2.6l-2.5 -2.5v-2.6zM1069.2 1210.7h2.6l2.5 2.5v2.6l-2.5 2.5h-2.6l-2.5 -2.5v-2.6zM1069.2 1225.7h2.6l2.5 2.5v2.6l-2.5 2.5h-2.6l-2.5 -2.5v-2.6zM1069.2 1240.7h2.6l2.5 2.5v2.6l-2.5 2.5h-2.6l-2.5 -2.5v-2.6zM1069.2 1255.7h2.6l2.5 2.5v2.6l-2.5 2.5h-2.6l-2.5 -2.5v-2.6zM1069.2 1270.7h2.6l2.5 2.5v2.6l-2.5 2.5h-2.6l-2.5 -2.5v-2.6zM1069.2 1285.7h2.6l2.5 2.5v2.6l-2.5 2.5h-2.6l-2.5 -2.5v-2.6zM1069.2 1300.7h2.6l2.5 2.5v2.6l-2.5 2.5h-2.6l-2.5 -2.5v-2.6zM1069.2 1360.7h2.6l2.5 2.5v2.6l-2.5 2.5h-2.6l-2.5 -2.5v-2.6zM1024.2 1360.7h2.6l2.5 2.5v2.6l-2.5 2.5h-2.6l-2.5 -2.5v-2.6zM1069.2 2005.7h2.6l2.5 2.5v2.6l-2.5 2.5h-2.6l-2.5 -2.5v-2.6zM1069.2 2020.7h2.6l2.5 2.5v2.6l-2.5 2.5h-2.6l-2.5 -2.5v-2.6zM1069.2 2035.7h2.6l2.5 2.5v2.6l-2.5 2.5h-2.6l-2.5 -2.5v-2.6zM1069.2 2050.7h2.6l2.5 2.5v2.6l-2.5 2.5h-2.6l-2.5 -2.5v-2.6zM1069.2 2065.7h2.6l2.5 2.5v2.6l-2.5 2.5h-2.6l-2.5 -2.5v-2.6zM1069.2 2080.7h2.6l2.5 2.5v2.6l-2.5 2.5h-2.6l-2.5 -2.5v-2.6zM1069.2 2095.7h2.6l2.5 2.5v2.6l-2.5 2.5h-2.6l-2.5 -2.5v-2.6zM1069.2 2110.7h2.6l2.5 2.5v2.6l-2.5 2.5h-2.6l-2.5 -2.5v-2.6zM1069.2 2125.7h2.6l2.5 2.5v2.6l-2.5 2.5h-2.6l-2.5 -2.5v-2.6zM1534.2 1210.7h2.6l2.5 2.5v2.6l-2.5 2.5h-2.6l-2.5 -2.5v-2.6zM1534.2 1090.7h2.6l2.5 2.5v2.6l-2.5 2.5h-2.6l-2.5 -2.5v-2.6zM1564.2 1225.7h2.6l2.5 2.5v2.6l-2.5 2.5h-2.6l-2.5 -2.5v-2.6zM1564.2 1090.7h2.6l2.5 2.5v2.6l-2.5 2.5h-2.6l-2.5 -2.5v-2.6zM1594.2 1240.7h2.6l2.5 2.5v2.6l-2.5 2.5h-2.6l-2.5 -2.5v-2.6zM1594.2 1090.7h2.6l2.5 2.5v2.6l-2.5 2.5h-2.6l-2.5 -2.5v-2.6zM1624.2 1255.7h2.6l2.5 2.5v2.6l-2.5 2.5h-2.6l-2.5 -2.5v-2.6zM1624.2 1090.7h2.6l2.5 2.5v2.6l-2.5 2.5h-2.6l-2.5 -2.5v-2.6zM1654.2 1270.7h2.6l2.5 2.5v2.6l-2.5 2.5h-2.6l-2.5 -2.5v-2.6zM1654.2 1090.7h2.6l2.5 2.5v2.6l-2.5 2.5h-2.6l-2.5 -2.5v-2.6zM1684.2 1285.7h2.6l2.5 2.5v2.6l-2.5 2.5h-2.6l-2.5 -2.5v-2.6zM1684.2 1090.7h2.6l2.5 2.5v2.6l-2.5 2.5h-2.6l-2.5 -2.5v-2.6zM1714.2 1300.7h2.6l2.5 2.5v2.6l-2.5 2.5h-2.6l-2.5 -2.5v-2.6zM1429.2 1345.7h2.6l2.5 2.5v2.6l-2.5 2.5h-2.6l-2.5 -2.5v-2.6zM1594.2 1780.7h2.6l2.5 2.5v2.6l-2.5 2.5h-2.6l-2.5 -2.5v-2.6zM1519.2 1870.7h2.6l2.5 2.5v2.6l-2.5 2.5h-2.6l-2.5 -2.5v-2.6zM1009.2 1495.7h2.6l2.5 2.5v2.6l-2.5 2.5h-2.6l-2.5 -2.5v-2.6zM1009.2 1525.7h2.6l2.5 2.5v2.6l-2.5 2.5h-2.6l-2.5 -2.5v-2.6zM904.2 1510.7h2.6l2.5 2.5v2.6l-2.5 2.5h-2.6l-2.5 -2.5v-2.6zM1009.2 1570.7h2.6l2.5 2.5v2.6l-2.5 2.5h-2.6l-2.5 -2.5v-2.6zM1009.2 1600.7h2.6l2.5 2.5v2.6l-2.5 2.5h-2.6l-2.5 -2.5v-2.6zM904.2 1585.7h2.6l2.5 2.5v2.6l-2.5 2.5h-2.6l-2.5 -2.5v-2.6zM724.2 1510.7h2.6l2.5 2.5v2.6l-2.5 2.5h-2.6l-2.5 -2.5v-2.6zM664.2 1645.7h2.6l2.5 2.5v2.6l-2.5 2.5h-2.6l-2.5 -2.5v-2.6zM709.2 1645.7h2.6l2.5 2.5v2.6l-2.5 2.5h-2.6l-2.5 -2.5v-2.6zM724.2 1570.7h2.6l2.5 2.5v2.6l-2.5 2.5h-2.6l-2.5 -2.5v-2.6zM724.2 1690.7h2.6l2.5 2.5v2.6l-2.5 2.5h-2.6l-2.5 -2.5v-2.6zM814.2 1705.7h2.6l2.5 2.5v2.6l-2.5 2.5h-2.6l-2.5 -2.5v-2.6zM724.2 1720.7h2.6l2.5 2.5v2.6l-2.5 2.5h-2.6l-2.5 -2.5v-2.6zM814.2 1915.7h2.6l2.5 2.5v2.6l-2.5 2.5h-2.6l-2.5 -2.5v-2.6zM814.2 1930.7h2.6l2.5 2.5v2.6l-2.5 2.5h-2.6l-2.5 -2.5v-2.6zM814.2 1945.7h2.6l2.5 2.5v2.6l-2.5 2.5h-2.6l-2.5 -2.5v-2.6zM814.2 1960.7h2.6l2.5 2.5v2.6l-2.5 2.5h-2.6l-2.5 -2.5v-2.6zM784.2 2245.7h2.6l2.5 2.5v2.6l-2.5 2.5h-2.6l-2.5 -2.5v-2.6zM394.2 1600.7h2.6l2.5 2.5v2.6l-2.5 2.5h-2.6l-2.5 -2.5v-2.6zM379.2 1690.7h2.6l2.5 2.5v2.6l-2.5 2.5h-2.6l-2.5 -2.5v-2.6zM214.2 1840.7h2.6l2.5 2.5v2.6l-2.5 2.5h-2.6l-2.5 -2.5v-2.6zM124.2 1840.7h2.6l2.5 2.5v2.6l-2.5 2.5h-2.6l-2.5 -2.5v-2.6zM214.2 1990.7h2.6l2.5 2.5v2.6l-2.5 2.5h-2.6l-2.5 -2.5v-2.6zM214.2 2005.7h2.6l2.5 2.5v2.6l-2.5 2.5h-2.6l-2.5 -2.5v-2.6zM514.2 1960.7h2.6l2.5 2.5v2.6l-2.5 2.5h-2.6l-2.5 -2.5v-2.6zM499.2 2425.7h2.6l2.5 2.5v2.6l-2.5 2.5h-2.6l-2.5 -2.5v-2.6zM244.2 2485.7h2.6l2.5 2.5v2.6l-2.5 2.5h-2.6l-2.5 -2.5v-2.6zM2059.2 100.7h2.6l2.5 2.5v2.6l-2.5 2.5h-2.6l-2.5 -2.5v-2.6zM2119.2 100.7h2.6l2.5 2.5v2.6l-2.5 2.5h-2.6l-2.5 -2.5v-2.6zM2239.2 100.7h2.6l2.5 2.5v2.6l-2.5 2.5h-2.6l-2.5 -2.5v-2.6zM2359.2 100.7h2.6l2.5 2.5v2.6l-2.5 2.5h-2.6l-2.5 -2.5v-2.6zM2239.2 190.7h2.6l2.5 2.5v2.6l-2.5 2.5h-2.6l-2.5 -2.5v-2.6zM2359.2 220.7h2.6l2.5 2.5v2.6l-2.5 2.5h-2.6l-2.5 -2.5v-2.6zM2179.2 250.7h2.6l2.5 2.5v2.6l-2.5 2.5h-2.6l-2.5 -2.5v-2.6zM2359.2 430.7h2.6l2.5 2.5v2.6l-2.5 2.5h-2.6l-2.5 -2.5v-2.6zM1984.2 340.7h2.6l2.5 2.5v2.6l-2.5 2.5h-2.6l-2.5 -2.5v-2.6zM2089.2 340.7h2.6l2.5 2.5v2.6l-2.5 2.5h-2.6l-2.5 -2.5v-2.6zM1984.2 415.7h2.6l2.5 2.5v2.6l-2.5 2.5h-2.6l-2.5 -2.5v-2.6zM1984.2 550.7h2.6l2.5 2.5v2.6l-2.5 2.5h-2.6l-2.5 -2.5v-2.6zM2089.2 550.7h2.6l2.5 2.5v2.6l-2.5 2.5h-2.6l-2.5 -2.5v-2.6zM2149.2 505.7h2.6l2.5 2.5v2.6l-2.5 2.5h-2.6l-2.5 -2.5v-2.6zM2299.2 610.7h2.6l2.5 2.5v2.6l-2.5 2.5h-2.6l-2.5 -2.5v-2.6zM2299.2 475.7h2.6l2.5 2.5v2.6l-2.5 2.5h-2.6l-2.5 -2.5v-2.6zM2404.2 565.7h2.6l2.5 2.5v2.6l-2.5 2.5h-2.6l-2.5 -2.5v-2.6zM1879.2 595.7h2.6l2.5 2.5v2.6l-2.5 2.5h-2.6l-2.5 -2.5v-2.6zM1984.2 640.7h2.6l2.5 2.5v2.6l-2.5 2.5h-2.6l-2.5 -2.5v-2.6zM2284.2 1075.7h2.6l2.5 2.5v2.6l-2.5 2.5h-2.6l-2.5 -2.5v-2.6zM2239.2 1240.7h2.6l2.5 2.5v2.6l-2.5 2.5h-2.6l-2.5 -2.5v-2.6zM2269.2 1240.7h2.6l2.5 2.5v2.6l-2.5 2.5h-2.6l-2.5 -2.5v-2.6zM2254.2 1345.7h2.6l2.5 2.5v2.6l-2.5 2.5h-2.6l-2.5 -2.5v-2.6zM2584.2 1075.7h2.6l2.5 2.5v2.6l-2.5 2.5h-2.6l-2.5 -2.5v-2.6zM2704.2 1075.7h2.6l2.5 2.5v2.6l-2.5 2.5h-2.6l-2.5 -2.5v-2.6zM2719.2 1075.7h2.6l2.5 2.5v2.6l-2.5 2.5h-2.6l-2.5 -2.5v-2.6zM2839.2 1075.7h2.6l2.5 2.5v2.6l-2.5 2.5h-2.6l-2.5 -2.5v-2.6zM2584.2 1105.7h2.6l2.5 2.5v2.6l-2.5 2.5h-2.6l-2.5 -2.5v-2.6zM2719.2 1165.7h2.6l2.5 2.5v2.6l-2.5 2.5h-2.6l-2.5 -2.5v-2.6zM2674.2 1180.7h2.6l2.5 2.5v2.6l-2.5 2.5h-2.6l-2.5 -2.5v-2.6zM2734.2 1180.7h2.6l2.5 2.5v2.6l-2.5 2.5h-2.6l-2.5 -2.5v-2.6zM2599.2 1345.7h2.6l2.5 2.5v2.6l-2.5 2.5h-2.6l-2.5 -2.5v-2.6zM2674.2 1345.7h2.6l2.5 2.5v2.6l-2.5 2.5h-2.6l-2.5 -2.5v-2.6zM2194.2 1435.7h2.6l2.5 2.5v2.6l-2.5 2.5h-2.6l-2.5 -2.5v-2.6zM2194.2 1450.7h2.6l2.5 2.5v2.6l-2.5 2.5h-2.6l-2.5 -2.5v-2.6zM2269.2 1450.7h2.6l2.5 2.5v2.6l-2.5 2.5h-2.6l-2.5 -2.5v-2.6zM2314.2 1450.7h2.6l2.5 2.5v2.6l-2.5 2.5h-2.6l-2.5 -2.5v-2.6zM2644.2 1435.7h2.6l2.5 2.5v2.6l-2.5 2.5h-2.6l-2.5 -2.5v-2.6zM2599.2 1450.7h2.6l2.5 2.5v2.6l-2.5 2.5h-2.6l-2.5 -2.5v-2.6zM2644.2 1450.7h2.6l2.5 2.5v2.6l-2.5 2.5h-2.6l-2.5 -2.5v-2.6zM2539.2 1495.7h2.6l2.5 2.5v2.6l-2.5 2.5h-2.6l-2.5 -2.5v-2.6zM2419.2 1570.7h2.6l2.5 2.5v2.6l-2.5 2.5h-2.6l-2.5 -2.5v-2.6zM2539.2 1570.7h2.6l2.5 2.5v2.6l-2.5 2.5h-2.6l-2.5 -2.5v-2.6zM2599.2 1570.7h2.6l2.5 2.5v2.6l-2.5 2.5h-2.6l-2.5 -2.5v-2.6zM2404.2 1810.7h2.6l2.5 2.5v2.6l-2.5 2.5h-2.6l-2.5 -2.5v-2.6zM2464.2 1810.7h2.6l2.5 2.5v2.6l-2.5 2.5h-2.6l-2.5 -2.5v-2.6zM2479.2 1810.7h2.6l2.5 2.5v2.6l-2.5 2.5h-2.6l-2.5 -2.5v-2.6zM2494.2 1810.7h2.6l2.5 2.5v2.6l-2.5 2.5h-2.6l-2.5 -2.5v-2.6zM2284.2 1915.7h2.6l2.5 2.5v2.6l-2.5 2.5h-2.6l-2.5 -2.5v-2.6zM2299.2 1930.7h2.6l2.5 2.5v2.6l-2.5 2.5h-2.6l-2.5 -2.5v-2.6zM2239.2 2035.7h2.6l2.5 2.5v2.6l-2.5 2.5h-2.6l-2.5 -2.5v-2.6zM2269.2 2035.7h2.6l2.5 2.5v2.6l-2.5 2.5h-2.6l-2.5 -2.5v-2.6zM2239.2 2095.7h2.6l2.5 2.5v2.6l-2.5 2.5h-2.6l-2.5 -2.5v-2.6zM2269.2 2095.7h2.6l2.5 2.5v2.6l-2.5 2.5h-2.6l-2.5 -2.5v-2.6zM2164.2 2080.7h2.6l2.5 2.5v2.6l-2.5 2.5h-2.6l-2.5 -2.5v-2.6zM2374.2 2290.7h2.6l2.5 2.5v2.6l-2.5 2.5h-2.6l-2.5 -2.5v-2.6zM2389.2 2290.7h2.6l2.5 2.5v2.6l-2.5 2.5h-2.6l-2.5 -2.5v-2.6zM2404.2 2290.7h2.6l2.5 2.5v2.6l-2.5 2.5h-2.6l-2.5 -2.5v-2.6zM2449.2 2290.7h2.6l2.5 2.5v2.6l-2.5 2.5h-2.6l-2.5 -2.5v-2.6zM2464.2 2290.7h2.6l2.5 2.5v2.6l-2.5 2.5h-2.6l-2.5 -2.5v-2.6zM2479.2 2290.7h2.6l2.5 2.5v2.6l-2.5 2.5h-2.6l-2.5 -2.5v-2.6zM2494.2 2290.7h2.6l2.5 2.5v2.6l-2.5 2.5h-2.6l-2.5 -2.5v-2.6zM1834.2 1195.7h2.6l2.5 2.5v2.6l-2.5 2.5h-2.6l-2.5 -2.5v-2.6zM1834.2 1270.7h2.6l2.5 2.5v2.6l-2.5 2.5h-2.6l-2.5 -2.5v-2.6zM1834.2 1360.7h2.6l2.5 2.5v2.6l-2.5 2.5h-2.6l-2.5 -2.5v-2.6zM1834.2 1390.7h2.6l2.5 2.5v2.6l-2.5 2.5h-2.6l-2.5 -2.5v-2.6zM1834.2 1465.7h2.6l2.5 2.5v2.6l-2.5 2.5h-2.6l-2.5 -2.5v-2.6zM1879.2 1465.7h2.6l2.5 2.5v2.6l-2.5 2.5h-2.6l-2.5 -2.5v-2.6zM1834.2 1600.7h2.6l2.5 2.5v2.6l-2.5 2.5h-2.6l-2.5 -2.5v-2.6zM1864.2 1600.7h2.6l2.5 2.5v2.6l-2.5 2.5h-2.6l-2.5 -2.5v-2.6zM1834.2 1675.7h2.6l2.5 2.5v2.6l-2.5 2.5h-2.6l-2.5 -2.5v-2.6zM1834.2 1795.7h2.6l2.5 2.5v2.6l-2.5 2.5h-2.6l-2.5 -2.5v-2.6zM1864.2 1795.7h2.6l2.5 2.5v2.6l-2.5 2.5h-2.6l-2.5 -2.5v-2.6zM1909.2 1840.7h2.6l2.5 2.5v2.6l-2.5 2.5h-2.6l-2.5 -2.5v-2.6zM2194.2 2500.7h2.6l2.5 2.5v2.6l-2.5 2.5h-2.6l-2.5 -2.5v-2.6zM2164.2 2530.7h2.6l2.5 2.5v2.6l-2.5 2.5h-2.6l-2.5 -2.5v-2.6zM2119.2 2515.7h2.6l2.5 2.5v2.6l-2.5 2.5h-2.6l-2.5 -2.5v-2.6zM2119.2 2575.7h2.6l2.5 2.5v2.6l-2.5 2.5h-2.6l-2.5 -2.5v-2.6zM2254.2 2575.7h2.6l2.5 2.5v2.6l-2.5 2.5h-2.6l-2.5 -2.5v-2.6zM2089.2 2575.7h2.6l2.5 2.5v2.6l-2.5 2.5h-2.6l-2.5 -2.5v-2.6zM2104.2 2635.7h2.6l2.5 2.5v2.6l-2.5 2.5h-2.6l-2.5 -2.5v-2.6zM2179.2 2635.7h2.6l2.5 2.5v2.6l-2.5 2.5h-2.6l-2.5 -2.5v-2.6zM2284.2 2650.7h2.6l2.5 2.5v2.6l-2.5 2.5h-2.6l-2.5 -2.5v-2.6zM2389.2 2560.7h2.6l2.5 2.5v2.6l-2.5 2.5h-2.6l-2.5 -2.5v-2.6zM2569.2 2545.7h2.6l2.5 2.5v2.6l-2.5 2.5h-2.6l-2.5 -2.5v-2.6zM2944.2 1045.7h2.6l2.5 2.5v2.6l-2.5 2.5h-2.6l-2.5 -2.5v-2.6zM2944.2 1075.7h2.6l2.5 2.5v2.6l-2.5 2.5h-2.6l-2.5 -2.5v-2.6zM2929.2 1120.7h2.6l2.5 2.5v2.6l-2.5 2.5h-2.6l-2.5 -2.5v-2.6zM2929.2 1315.7h2.6l2.5 2.5v2.6l-2.5 2.5h-2.6l-2.5 -2.5v-2.6zM2944.2 1180.7h2.6l2.5 2.5v2.6l-2.5 2.5h-2.6l-2.5 -2.5v-2.6zM2944.2 1210.7h2.6l2.5 2.5v2.6l-2.5 2.5h-2.6l-2.5 -2.5v-2.6zM2944.2 1285.7h2.6l2.5 2.5v2.6l-2.5 2.5h-2.6l-2.5 -2.5v-2.6zM3139.2 1045.7h2.6l2.5 2.5v2.6l-2.5 2.5h-2.6l-2.5 -2.5v-2.6zM3064.2 1090.7h2.6l2.5 2.5v2.6l-2.5 2.5h-2.6l-2.5 -2.5v-2.6zM3139.2 1060.7h2.6l2.5 2.5v2.6l-2.5 2.5h-2.6l-2.5 -2.5v-2.6zM3139.2 1090.7h2.6l2.5 2.5v2.6l-2.5 2.5h-2.6l-2.5 -2.5v-2.6zM3139.2 1225.7h2.6l2.5 2.5v2.6l-2.5 2.5h-2.6l-2.5 -2.5v-2.6zM3469.2 1225.7h2.6l2.5 2.5v2.6l-2.5 2.5h-2.6l-2.5 -2.5v-2.6zM3319.2 1060.7h2.6l2.5 2.5v2.6l-2.5 2.5h-2.6l-2.5 -2.5v-2.6zM3469.2 1090.7h2.6l2.5 2.5v2.6l-2.5 2.5h-2.6l-2.5 -2.5v-2.6zM3349.2 1150.7h2.6l2.5 2.5v2.6l-2.5 2.5h-2.6l-2.5 -2.5v-2.6zM3469.2 1150.7h2.6l2.5 2.5v2.6l-2.5 2.5h-2.6l-2.5 -2.5v-2.6zM3484.2 1150.7h2.6l2.5 2.5v2.6l-2.5 2.5h-2.6l-2.5 -2.5v-2.6zM3139.2 1255.7h2.6l2.5 2.5v2.6l-2.5 2.5h-2.6l-2.5 -2.5v-2.6zM3064.2 1300.7h2.6l2.5 2.5v2.6l-2.5 2.5h-2.6l-2.5 -2.5v-2.6zM3139.2 1270.7h2.6l2.5 2.5v2.6l-2.5 2.5h-2.6l-2.5 -2.5v-2.6zM3139.2 1300.7h2.6l2.5 2.5v2.6l-2.5 2.5h-2.6l-2.5 -2.5v-2.6zM3139.2 1435.7h2.6l2.5 2.5v2.6l-2.5 2.5h-2.6l-2.5 -2.5v-2.6zM3469.2 1435.7h2.6l2.5 2.5v2.6l-2.5 2.5h-2.6l-2.5 -2.5v-2.6zM3319.2 1270.7h2.6l2.5 2.5v2.6l-2.5 2.5h-2.6l-2.5 -2.5v-2.6zM3469.2 1300.7h2.6l2.5 2.5v2.6l-2.5 2.5h-2.6l-2.5 -2.5v-2.6zM3349.2 1360.7h2.6l2.5 2.5v2.6l-2.5 2.5h-2.6l-2.5 -2.5v-2.6zM3469.2 1360.7h2.6l2.5 2.5v2.6l-2.5 2.5h-2.6l-2.5 -2.5v-2.6zM3484.2 1360.7h2.6l2.5 2.5v2.6l-2.5 2.5h-2.6l-2.5 -2.5v-2.6zM3319.2 1045.7h2.6l2.5 2.5v2.6l-2.5 2.5h-2.6l-2.5 -2.5v-2.6zM3319.2 1255.7h2.6l2.5 2.5v2.6l-2.5 2.5h-2.6l-2.5 -2.5v-2.6zM2944.2 1540.7h2.6l2.5 2.5v2.6l-2.5 2.5h-2.6l-2.5 -2.5v-2.6zM2944.2 1570.7h2.6l2.5 2.5v2.6l-2.5 2.5h-2.6l-2.5 -2.5v-2.6zM2929.2 1615.7h2.6l2.5 2.5v2.6l-2.5 2.5h-2.6l-2.5 -2.5v-2.6zM2929.2 1810.7h2.6l2.5 2.5v2.6l-2.5 2.5h-2.6l-2.5 -2.5v-2.6zM2944.2 1675.7h2.6l2.5 2.5v2.6l-2.5 2.5h-2.6l-2.5 -2.5v-2.6zM2944.2 1705.7h2.6l2.5 2.5v2.6l-2.5 2.5h-2.6l-2.5 -2.5v-2.6zM2944.2 1780.7h2.6l2.5 2.5v2.6l-2.5 2.5h-2.6l-2.5 -2.5v-2.6zM3139.2 1540.7h2.6l2.5 2.5v2.6l-2.5 2.5h-2.6l-2.5 -2.5v-2.6zM3064.2 1585.7h2.6l2.5 2.5v2.6l-2.5 2.5h-2.6l-2.5 -2.5v-2.6zM3139.2 1555.7h2.6l2.5 2.5v2.6l-2.5 2.5h-2.6l-2.5 -2.5v-2.6zM3139.2 1585.7h2.6l2.5 2.5v2.6l-2.5 2.5h-2.6l-2.5 -2.5v-2.6zM3139.2 1720.7h2.6l2.5 2.5v2.6l-2.5 2.5h-2.6l-2.5 -2.5v-2.6zM3469.2 1720.7h2.6l2.5 2.5v2.6l-2.5 2.5h-2.6l-2.5 -2.5v-2.6zM3319.2 1555.7h2.6l2.5 2.5v2.6l-2.5 2.5h-2.6l-2.5 -2.5v-2.6zM3469.2 1585.7h2.6l2.5 2.5v2.6l-2.5 2.5h-2.6l-2.5 -2.5v-2.6zM3349.2 1645.7h2.6l2.5 2.5v2.6l-2.5 2.5h-2.6l-2.5 -2.5v-2.6zM3469.2 1645.7h2.6l2.5 2.5v2.6l-2.5 2.5h-2.6l-2.5 -2.5v-2.6zM3484.2 1645.7h2.6l2.5 2.5v2.6l-2.5 2.5h-2.6l-2.5 -2.5v-2.6zM3139.2 1750.7h2.6l2.5 2.5v2.6l-2.5 2.5h-2.6l-2.5 -2.5v-2.6zM3064.2 1795.7h2.6l2.5 2.5v2.6l-2.5 2.5h-2.6l-2.5 -2.5v-2.6zM3139.2 1765.7h2.6l2.5 2.5v2.6l-2.5 2.5h-2.6l-2.5 -2.5v-2.6zM3139.2 1795.7h2.6l2.5 2.5v2.6l-2.5 2.5h-2.6l-2.5 -2.5v-2.6zM3139.2 1930.7h2.6l2.5 2.5v2.6l-2.5 2.5h-2.6l-2.5 -2.5v-2.6zM3469.2 1930.7h2.6l2.5 2.5v2.6l-2.5 2.5h-2.6l-2.5 -2.5v-2.6zM3319.2 1765.7h2.6l2.5 2.5v2.6l-2.5 2.5h-2.6l-2.5 -2.5v-2.6zM3469.2 1795.7h2.6l2.5 2.5v2.6l-2.5 2.5h-2.6l-2.5 -2.5v-2.6zM3349.2 1855.7h2.6l2.5 2.5v2.6l-2.5 2.5h-2.6l-2.5 -2.5v-2.6zM3469.2 1855.7h2.6l2.5 2.5v2.6l-2.5 2.5h-2.6l-2.5 -2.5v-2.6zM3484.2 1855.7h2.6l2.5 2.5v2.6l-2.5 2.5h-2.6l-2.5 -2.5v-2.6zM3319.2 1540.7h2.6l2.5 2.5v2.6l-2.5 2.5h-2.6l-2.5 -2.5v-2.6zM3319.2 1750.7h2.6l2.5 2.5v2.6l-2.5 2.5h-2.6l-2.5 -2.5v-2.6zM3034.2 2170.7h2.6l2.5 2.5v2.6l-2.5 2.5h-2.6l-2.5 -2.5v-2.6zM2989.2 2200.7h2.6l2.5 2.5v2.6l-2.5 2.5h-2.6l-2.5 -2.5v-2.6zM2989.2 2080.7h2.6l2.5 2.5v2.6l-2.5 2.5h-2.6l-2.5 -2.5v-2.6zM3034.2 2080.7h2.6l2.5 2.5v2.6l-2.5 2.5h-2.6l-2.5 -2.5v-2.6zM3064.2 2080.7h2.6l2.5 2.5v2.6l-2.5 2.5h-2.6l-2.5 -2.5v-2.6zM3304.2 2095.7h2.6l2.5 2.5v2.6l-2.5 2.5h-2.6l-2.5 -2.5v-2.6zM3319.2 2200.7h2.6l2.5 2.5v2.6l-2.5 2.5h-2.6l-2.5 -2.5v-2.6zM3064.2 2125.7h2.6l2.5 2.5v2.6l-2.5 2.5h-2.6l-2.5 -2.5v-2.6zM3139.2 2125.7h2.6l2.5 2.5v2.6l-2.5 2.5h-2.6l-2.5 -2.5v-2.6zM3139.2 2230.7h2.6l2.5 2.5v2.6l-2.5 2.5h-2.6l-2.5 -2.5v-2.6zM3319.2 2260.7h2.6l2.5 2.5v2.6l-2.5 2.5h-2.6l-2.5 -2.5v-2.6zM3469.2 2050.7h2.6l2.5 2.5v2.6l-2.5 2.5h-2.6l-2.5 -2.5v-2.6zM3529.2 2035.7h2.6l2.5 2.5v2.6l-2.5 2.5h-2.6l-2.5 -2.5v-2.6zM3469.2 2245.7h2.6l2.5 2.5v2.6l-2.5 2.5h-2.6l-2.5 -2.5v-2.6zM3529.2 2230.7h2.6l2.5 2.5v2.6l-2.5 2.5h-2.6l-2.5 -2.5v-2.6zM3529.2 2140.7h2.6l2.5 2.5v2.6l-2.5 2.5h-2.6l-2.5 -2.5v-2.6z" fill="#4ba64b"/>
<g font-family="Liberation Sans, sans-serif" font-size="13.5" fill="#9c9c9c">
<text transform="translate(864 63) rotate(-90)">R69</text>
<text transform="translate(835 44) rotate(-90)">1</text>
<text transform="translate(909 63) rotate(-90)">R70</text>
<text transform="translate(880 44) rotate(-90)">1</text>
<text transform="translate(954 63) rotate(-90)">R71</text>
<text transform="translate(925 44) rotate(-90)">1</text>
<text transform="translate(999 63) rotate(-90)">R72</text>
<text transform="translate(970 44) rotate(-90)">1</text>
<text transform="translate(1044 63) rotate(-90)">R73</text>
<text transform="translate(1015 44) rotate(-90)">1</text>
<text transform="translate(1089 63) rotate(-90)">R74</text>
<text transform="translate(1060 44) rotate(-90)">1</text>
<text x="1108" y="95">R75</text>
<text x="1108" y="123">2k2</text>
<text x="829" y="224" fill="#a53c3c" font-size="11">+</text>
<text x="851" y="220">C65</text>
<text x="851" y="248">1000x16</text>
<text x="899" y="220">C64</text>
<text x="900" y="252">0,1uF</text>
<text x="1005" y="162" font-size="12" text-anchor="end">8</text>
<text x="1024" y="169" font-size="12">DC</text>
<text x="1005" y="177" font-size="12" text-anchor="end">7</text>
<text x="1024" y="184" font-size="12">IS</text>
<text x="1005" y="192" font-size="12" text-anchor="end">6</text>
<text x="1024" y="199" font-size="12">VCC</text>
<text x="1005" y="207" font-size="12" text-anchor="end">5</text>
<text x="1024" y="214" font-size="12">FB</text>
<text x="1135" y="162" font-size="12">1</text>
<text x="1116" y="169" font-size="12" text-anchor="end">SWC</text>
<text x="1135" y="177" font-size="12">2</text>
<text x="1116" y="184" font-size="12" text-anchor="end">SWE</text>
<text x="1135" y="192" font-size="12">3</text>
<text x="1116" y="199" font-size="12" text-anchor="end">TC</text>
<text x="1135" y="207" font-size="12">4</text>
<text x="1116" y="214" font-size="12" text-anchor="end">GND</text>
<text x="1010" y="147">IC5</text>
<text x="1010" y="239">MC34063AD</text>
<text x="1003" y="260">R68</text>
<text x="1003" y="288">6k8_1%</text>
<text transform="translate(969 287) rotate(-90)">R67</text>
<text transform="translate(940 313) rotate(-90)">2k2_1%</text>
<text transform="translate(1506 279) rotate(-90)">5V</text>
<text x="1199" y="237">C66</text>
<text x="1199" y="267">470pF</text>
<text x="1280" y="175">D11</text>
<text x="1280" y="193">STPS340U</text>
<text x="1220" y="58">Q18</text>
<text x="1220" y="73">BC817</text>
<text x="1243" y="78">R76</text>
<text x="1243" y="107">8,2</text>
<text transform="translate(1196 148) rotate(-90)">BAS16</text>
<text transform="translate(1226 130) rotate(-90)">D10</text>
<text x="1258" y="119">IRF7104</text>
<text x="1253" y="133">U$30G$1</text>
<text x="1371" y="163">U$12</text>
<text x="1371" y="225">33u</text>
<text x="1249" y="295" fill="#a53c3c" font-size="11">+</text>
<text x="1309" y="295" fill="#a53c3c" font-size="11">+</text>
<text x="1385" y="390" text-anchor="middle">GND</text>
<text x="1271" y="294">C67</text>
<text x="1271" y="325">470x6,3</text>
<text x="1331" y="294">C68</text>
<text x="1331" y="325">100x10</text>
<text x="1394" y="296">C69</text>
<text x="1394" y="327">0,1uF</text>
<text transform="translate(879 468) rotate(-90)">R79</text>
<text transform="translate(850 449) rotate(-90)">1</text>
<text transform="translate(924 468) rotate(-90)">R80</text>
<text transform="translate(895 449) rotate(-90)">1</text>
<text transform="translate(969 468) rotate(-90)">R81</text>
<text transform="translate(940 449) rotate(-90)">1</text>
<text transform="translate(1014 468) rotate(-90)">R82</text>
<text transform="translate(985 449) rotate(-90)">1</text>
<text transform="translate(1059 468) rotate(-90)">R83</text>
<text transform="translate(1030 449) rotate(-90)">1</text>
<text transform="translate(1104 468) rotate(-90)">R84</text>
<text transform="translate(1075 449) rotate(-90)">1</text>
<text x="1123" y="500">R85</text>
<text x="1123" y="528">2k2</text>
<text x="844" y="629" fill="#a53c3c" font-size="11">+</text>
<text x="866" y="625">C71</text>
<text x="866" y="653">1000x16</text>
<text x="914" y="625">C70</text>
<text x="915" y="657">0,1uF</text>
<text x="1020" y="567" font-size="12" text-anchor="end">8</text>
<text x="1039" y="574" font-size="12">DC</text>
<text x="1020" y="582" font-size="12" text-anchor="end">7</text>
<text x="1039" y="589" font-size="12">IS</text>
<text x="1020" y="597" font-size="12" text-anchor="end">6</text>
<text x="1039" y="604" font-size="12">VCC</text>
<text x="1020" y="612" font-size="12" text-anchor="end">5</text>
<text x="1039" y="619" font-size="12">FB</text>
<text x="1150" y="567" font-size="12">1</text>
<text x="1131" y="574" font-size="12" text-anchor="end">SWC</text>
<text x="1150" y="582" font-size="12">2</text>
<text x="1131" y="589" font-size="12" text-anchor="end">SWE</text>
<text x="1150" y="597" font-size="12">3</text>
<text x="1131" y="604" font-size="12" text-anchor="end">TC</text>
<text x="1150" y="612" font-size="12">4</text>
<text x="1131" y="619" font-size="12" text-anchor="end">GND</text>
<text x="1025" y="552">IC6</text>
<text x="1025" y="644">MC34063AD</text>
<text x="1018" y="665">R78</text>
<text x="1018" y="693">6k8_1%</text>
<text transform="translate(984 692) rotate(-90)">R77</text>
<text transform="translate(955 718) rotate(-90)">4k1_1%</text>
<text transform="translate(1521 697) rotate(-90)">3.3V</text>
<text x="1214" y="642">C72</text>
<text x="1214" y="672">470pF</text>
<text x="1295" y="580">D13</text>
<text x="1295" y="598">STPS340U</text>
<text x="1235" y="463">Q20</text>
<text x="1235" y="478">BC817</text>
<text x="1258" y="483">R86</text>
<text x="1258" y="512">8,2</text>
<text transform="translate(1211 553) rotate(-90)">BAS16</text>
<text transform="translate(1241 535) rotate(-90)">D12</text>
<text x="1273" y="524">IRF7104</text>
<text x="1268" y="538">U$30G$2</text>
<text x="1386" y="568">U$14</text>
<text x="1386" y="630">33u</text>
<text x="1264" y="700" fill="#a53c3c" font-size="11">+</text>
<text x="1324" y="700" fill="#a53c3c" font-size="11">+</text>
<text x="1400" y="795" text-anchor="middle">GND</text>
<text x="1286" y="699">C73</text>
<text x="1286" y="730">470x6,3</text>
<text x="1346" y="699">C74</text>
<text x="1346" y="730">100x10</text>
<text x="1409" y="701">C75</text>
<text x="1409" y="732">0,1uF</text>
<text x="795" y="368">12V</text>
<text x="529" y="475" font-size="12">2</text>
<text x="529" y="490" font-size="12">1</text>
<text x="485" y="459">JP11</text>
<text x="485" y="523">Power (12V)</text>
<text x="596" y="475" font-size="12">2</text>
<text x="596" y="535" font-size="12">5</text>
<text x="637" y="460" font-size="12">1</text>
<text x="637" y="520" font-size="12">4</text>
<text x="638" y="490" font-size="12">3</text>
<text x="638" y="550" font-size="12">6</text>
<text x="609" y="427">S2(POWER)</text>
<text x="609" y="569">S2(POWER)</text>
<text x="680" y="600" text-anchor="middle">GND</text>
<text x="705" y="788">3.3V</text>
<text x="694" y="854" fill="#a53c3c" font-size="11">+</text>
<text x="716" y="850">C62</text>
<text x="717" y="878">1000x16</text>
<text x="710" y="929" text-anchor="middle">GND</text>
<text x="764" y="852">C42</text>
<text x="764" y="882">0.1uF</text>
<text x="824" y="852">C43</text>
<text x="824" y="882">0.1uF</text>
<text x="884" y="852">C44</text>
<text x="884" y="882">0.1uF</text>
<text x="944" y="852">C45</text>
<text x="944" y="882">0.1uF</text>
<text x="1004" y="852">C46</text>
<text x="1004" y="882">0.1uF</text>
<text x="1064" y="852">C47</text>
<text x="1064" y="882">0.1uF</text>
<text x="1124" y="852">C48</text>
<text x="1124" y="882">0.1uF</text>
<text x="1184" y="852">C49</text>
<text x="1184" y="882">0.1uF</text>
<text x="1244" y="852">C50</text>
<text x="1244" y="882">0.1uF</text>
<text x="1304" y="852">C51</text>
<text x="1304" y="882">0.1uF</text>
<text x="1364" y="852">C52</text>
<text x="1364" y="882">0.1uF</text>
<text x="1424" y="852">C53</text>
<text x="1424" y="882">0.1uF</text>
<text x="1484" y="852">C54</text>
<text x="1484" y="882">0.1uF</text>
<text x="1544" y="852">C55</text>
<text x="1544" y="882">0.1uF</text>
<text x="1604" y="852">C56</text>
<text x="1604" y="882">0.1uF</text>
<text x="1664" y="852">C57</text>
<text x="1664" y="882">0.1uF</text>
<text x="1724" y="852">C58</text>
<text x="1724" y="882">0.1uF</text>
<text x="1784" y="852">C59</text>
<text x="1784" y="882">0.1uF</text>
<text x="1844" y="852">C60</text>
<text x="1844" y="882">0.1uF</text>
<text x="1904" y="852">C61</text>
<text x="1904" y="882">0.1uF</text>
<text x="337" y="1256" font-size="12" text-anchor="end">14</text>
<text x="393" y="1256" font-size="12">13</text>
<text x="337" y="1271" font-size="12" text-anchor="end">12</text>
<text x="393" y="1271" font-size="12">11</text>
<text x="337" y="1286" font-size="12" text-anchor="end">10</text>
<text x="393" y="1286" font-size="12">9</text>
<text x="337" y="1301" font-size="12" text-anchor="end">8</text>
<text x="393" y="1301" font-size="12">7</text>
<text x="337" y="1316" font-size="12" text-anchor="end">6</text>
<text x="393" y="1316" font-size="12">5</text>
<text x="337" y="1331" font-size="12" text-anchor="end">4</text>
<text x="393" y="1331" font-size="12">3</text>
<text x="337" y="1346" font-size="12" text-anchor="end">2</text>
<text x="393" y="1346" font-size="12">1</text>
<text x="342" y="1239">SV1</text>
<text x="342" y="1378">RoboBus</text>
<text x="318" y="1258" fill="#3f9f3f" text-anchor="end">+5V</text>
<text x="318" y="1273" fill="#3f9f3f" text-anchor="end">TxD</text>
<text x="318" y="1288" fill="#3f9f3f" text-anchor="end">SDA</text>
<text x="318" y="1303" fill="#3f9f3f" text-anchor="end">PORTA3</text>
<text x="318" y="1318" fill="#3f9f3f" text-anchor="end">SCK</text>
<text x="318" y="1333" fill="#3f9f3f" text-anchor="end">MOSI</text>
<text x="318" y="1348" fill="#3f9f3f" text-anchor="end">+3,3V</text>
<text x="411" y="1258" fill="#3f9f3f">RxD</text>
<text x="411" y="1273" fill="#3f9f3f">SCL</text>
<text x="411" y="1288" fill="#3f9f3f">SD_DATA</text>
<text x="411" y="1303" fill="#3f9f3f">XTAL1</text>
<text x="411" y="1318" fill="#3f9f3f">MISO</text>
<text x="411" y="1333" fill="#3f9f3f">RESET</text>
<text x="411" y="1348" fill="#3f9f3f">GND</text>
<text transform="translate(253 1262) rotate(-90)">5V</text>
<text x="237" y="1264">R6</text>
<text x="238" y="1293">100</text>
<text x="177" y="1309">R3</text>
<text x="179" y="1338">100</text>
<text x="238" y="1324">R1</text>
<text x="238" y="1352">100</text>
<text transform="translate(268 1357) rotate(-90)">3.3V</text>
<text x="545" y="1153">MOSI</text>
<text x="545" y="1168">SCK</text>
<text x="545" y="1183">SS</text>
<text x="545" y="1198">SDA</text>
<text x="545" y="1213">TXD</text>
<text x="463" y="1249">R7</text>
<text x="545" y="1258">RXD</text>
<text x="545" y="1273">SCL</text>
<text x="463" y="1279">R5</text>
<text x="467" y="1280">100</text>
<text x="515" y="1288">SD_DATA</text>
<text x="507" y="1293">R4</text>
<text x="545" y="1303">XTAL1</text>
<text x="463" y="1309">100</text>
<text x="463" y="1308">R2</text>
<text x="509" y="1323">100</text>
<text x="545" y="1318">MISO</text>
<text x="463" y="1338">100</text>
<text transform="translate(463 1364) rotate(-90)">JP1</text>
<text transform="translate(470 1379) rotate(-90)" font-size="11">1</text>
<text transform="translate(484 1379) rotate(-90)" font-size="11">2</text>
<text x="515" y="1377">PDI_CLK</text>
<text x="425" y="1409" text-anchor="middle">GND</text>
<text x="660" y="1043">3.3V</text>
<text transform="translate(684 1112) rotate(-90)">R52</text>
<text transform="translate(655 1100) rotate(-90)">10K</text>
<text x="605" y="1137">PDI_CLK</text>
<text x="674" y="1165">C27</text>
<text x="674" y="1196">0.1uF</text>
<text x="665" y="1245" text-anchor="middle">GND</text>
<text x="605" y="1227">RXD</text>
<text x="605" y="1332">TXD</text>
<text transform="translate(625 1288) rotate(-90)">BAS40</text>
<text transform="translate(655 1263) rotate(-90)">D3</text>
<text x="1135" y="1189">U$1</text>
<text x="1115" y="2158">ATXMEGA128A1-100SMD</text>
<text x="1101" y="1211" font-size="12" text-anchor="end">14</text>
<text x="1129" y="1219" font-size="12">VCC</text>
<text x="1101" y="1226" font-size="12" text-anchor="end">24</text>
<text x="1129" y="1234" font-size="12">VCC</text>
<text x="1101" y="1241" font-size="12" text-anchor="end">34</text>
<text x="1129" y="1249" font-size="12">VCC</text>
<text x="1101" y="1256" font-size="12" text-anchor="end">44</text>
<text x="1129" y="1264" font-size="12">VCC</text>
<text x="1101" y="1271" font-size="12" text-anchor="end">54</text>
<text x="1129" y="1279" font-size="12">VCC</text>
<text x="1101" y="1286" font-size="12" text-anchor="end">64</text>
<text x="1129" y="1294" font-size="12">VCC</text>
<text x="1101" y="1301" font-size="12" text-anchor="end">74</text>
<text x="1129" y="1309" font-size="12">VCC</text>
<text x="1101" y="1316" font-size="12" text-anchor="end">83</text>
<text x="1129" y="1324" font-size="12">VCC</text>
<text x="1101" y="1346" font-size="12" text-anchor="end">4</text>
<text x="1129" y="1354" font-size="12">AVCC</text>
<text x="1101" y="1361" font-size="12" text-anchor="end">94</text>
<text x="1129" y="1369" font-size="12">AVCC</text>
<text x="1101" y="1466" font-size="12" text-anchor="end">89</text>
<text x="1129" y="1474" font-size="12">PDI/PDI_DATA</text>
<text x="1101" y="1481" font-size="12" text-anchor="end">90</text>
<text x="1129" y="1489" font-size="12">RESET/PDI_CLOCK</text>
<text x="1101" y="1511" font-size="12" text-anchor="end">91</text>
<text x="1129" y="1519" font-size="12">PR0</text>
<text x="1101" y="1526" font-size="12" text-anchor="end">92</text>
<text x="1129" y="1534" font-size="12">PR1</text>
<text x="1101" y="1556" font-size="12" text-anchor="end">88</text>
<text x="1129" y="1564" font-size="12">PQ3</text>
<text x="1101" y="1571" font-size="12" text-anchor="end">87</text>
<text x="1129" y="1579" font-size="12">PQ2</text>
<text x="1101" y="1586" font-size="12" text-anchor="end">86</text>
<text x="1129" y="1594" font-size="12">PQ1</text>
<text x="1101" y="1601" font-size="12" text-anchor="end">85</text>
<text x="1129" y="1609" font-size="12">PQ0</text>
<text x="1101" y="1631" font-size="12" text-anchor="end">82</text>
<text x="1129" y="1639" font-size="12">PK7</text>
<text x="1101" y="1646" font-size="12" text-anchor="end">81</text>
<text x="1129" y="1654" font-size="12">PK6</text>
<text x="1101" y="1661" font-size="12" text-anchor="end">80</text>
<text x="1129" y="1669" font-size="12">PK5</text>
<text x="1101" y="1676" font-size="12" text-anchor="end">79</text>
<text x="1129" y="1684" font-size="12">PK4</text>
<text x="1101" y="1691" font-size="12" text-anchor="end">78</text>
<text x="1129" y="1699" font-size="12">PK3</text>
<text x="1101" y="1706" font-size="12" text-anchor="end">77</text>
<text x="1129" y="1714" font-size="12">PK2</text>
<text x="1101" y="1721" font-size="12" text-anchor="end">76</text>
<text x="1129" y="1729" font-size="12">PK1</text>
<text x="1101" y="1736" font-size="12" text-anchor="end">75</text>
<text x="1129" y="1744" font-size="12">PK0</text>
<text x="1101" y="1766" font-size="12" text-anchor="end">72</text>
<text x="1129" y="1774" font-size="12">PJ7</text>
<text x="1101" y="1781" font-size="12" text-anchor="end">71</text>
<text x="1129" y="1789" font-size="12">PJ6</text>
<text x="1101" y="1796" font-size="12" text-anchor="end">70</text>
<text x="1129" y="1804" font-size="12">PJ5</text>
<text x="1101" y="1811" font-size="12" text-anchor="end">69</text>
<text x="1129" y="1819" font-size="12">PJ4</text>
<text x="1101" y="1826" font-size="12" text-anchor="end">68</text>
<text x="1129" y="1834" font-size="12">PJ3</text>
<text x="1101" y="1841" font-size="12" text-anchor="end">67</text>
<text x="1129" y="1849" font-size="12">PJ2</text>
<text x="1101" y="1856" font-size="12" text-anchor="end">66</text>
<text x="1129" y="1864" font-size="12">PJ1</text>
<text x="1101" y="1871" font-size="12" text-anchor="end">65</text>
<text x="1129" y="1879" font-size="12">PJ0</text>
<text x="1101" y="1991" font-size="12" text-anchor="end">3</text>
<text x="1129" y="1999" font-size="12">GND</text>
<text x="1101" y="2006" font-size="12" text-anchor="end">13</text>
<text x="1129" y="2014" font-size="12">GND</text>
<text x="1101" y="2021" font-size="12" text-anchor="end">23</text>
<text x="1129" y="2029" font-size="12">GND</text>
<text x="1101" y="2036" font-size="12" text-anchor="end">33</text>
<text x="1129" y="2044" font-size="12">GND</text>
<text x="1101" y="2051" font-size="12" text-anchor="end">43</text>
<text x="1129" y="2059" font-size="12">GND</text>
<text x="1101" y="2066" font-size="12" text-anchor="end">53</text>
<text x="1129" y="2074" font-size="12">GND</text>
<text x="1101" y="2081" font-size="12" text-anchor="end">63</text>
<text x="1129" y="2089" font-size="12">GND</text>
<text x="1101" y="2096" font-size="12" text-anchor="end">73</text>
<text x="1129" y="2104" font-size="12">GND</text>
<text x="1101" y="2111" font-size="12" text-anchor="end">84</text>
<text x="1129" y="2119" font-size="12">GND</text>
<text x="1101" y="2126" font-size="12" text-anchor="end">93</text>
<text x="1129" y="2134" font-size="12">GND</text>
<text x="1398" y="1211" font-size="12">95</text>
<text x="1371" y="1219" font-size="12" text-anchor="end">PA0</text>
<text x="1398" y="1226" font-size="12">96</text>
<text x="1371" y="1234" font-size="12" text-anchor="end">PA1</text>
<text x="1398" y="1241" font-size="12">97</text>
<text x="1371" y="1249" font-size="12" text-anchor="end">PA2</text>
<text x="1398" y="1256" font-size="12">98</text>
<text x="1371" y="1264" font-size="12" text-anchor="end">PA3</text>
<text x="1398" y="1271" font-size="12">99</text>
<text x="1371" y="1279" font-size="12" text-anchor="end">PA4</text>
<text x="1398" y="1286" font-size="12">100</text>
<text x="1371" y="1294" font-size="12" text-anchor="end">PA5</text>
<text x="1398" y="1301" font-size="12">1</text>
<text x="1371" y="1309" font-size="12" text-anchor="end">PA6</text>
<text x="1398" y="1316" font-size="12">2</text>
<text x="1371" y="1324" font-size="12" text-anchor="end">PA7</text>
<text x="1398" y="1346" font-size="12">5</text>
<text x="1371" y="1354" font-size="12" text-anchor="end">PB0</text>
<text x="1398" y="1361" font-size="12">6</text>
<text x="1371" y="1369" font-size="12" text-anchor="end">PB1</text>
<text x="1398" y="1376" font-size="12">7</text>
<text x="1371" y="1384" font-size="12" text-anchor="end">PB2</text>
<text x="1398" y="1391" font-size="12">8</text>
<text x="1371" y="1399" font-size="12" text-anchor="end">PB3</text>
<text x="1398" y="1406" font-size="12">9</text>
<text x="1371" y="1414" font-size="12" text-anchor="end">PB4</text>
<text x="1398" y="1421" font-size="12">10</text>
<text x="1371" y="1429" font-size="12" text-anchor="end">PB5</text>
<text x="1398" y="1436" font-size="12">11</text>
<text x="1371" y="1444" font-size="12" text-anchor="end">PB6</text>
<text x="1398" y="1451" font-size="12">12</text>
<text x="1371" y="1459" font-size="12" text-anchor="end">PB7</text>
<text x="1398" y="1481" font-size="12">15</text>
<text x="1371" y="1489" font-size="12" text-anchor="end">PC0</text>
<text x="1398" y="1496" font-size="12">16</text>
<text x="1371" y="1504" font-size="12" text-anchor="end">PC1</text>
<text x="1398" y="1511" font-size="12">17</text>
<text x="1371" y="1519" font-size="12" text-anchor="end">PC2</text>
<text x="1398" y="1526" font-size="12">18</text>
<text x="1371" y="1534" font-size="12" text-anchor="end">PC3</text>
<text x="1398" y="1541" font-size="12">19</text>
<text x="1371" y="1549" font-size="12" text-anchor="end">PC4</text>
<text x="1398" y="1556" font-size="12">20</text>
<text x="1371" y="1564" font-size="12" text-anchor="end">PC5</text>
<text x="1398" y="1571" font-size="12">21</text>
<text x="1371" y="1579" font-size="12" text-anchor="end">PC6</text>
<text x="1398" y="1586" font-size="12">22</text>
<text x="1371" y="1594" font-size="12" text-anchor="end">PC7</text>
<text x="1398" y="1616" font-size="12">25</text>
<text x="1371" y="1624" font-size="12" text-anchor="end">PD0</text>
<text x="1398" y="1631" font-size="12">26</text>
<text x="1371" y="1639" font-size="12" text-anchor="end">PD1</text>
<text x="1398" y="1646" font-size="12">27</text>
<text x="1371" y="1654" font-size="12" text-anchor="end">PD2</text>
<text x="1398" y="1661" font-size="12">28</text>
<text x="1371" y="1669" font-size="12" text-anchor="end">PD3</text>
<text x="1398" y="1676" font-size="12">29</text>
<text x="1371" y="1684" font-size="12" text-anchor="end">PD4</text>
<text x="1398" y="1691" font-size="12">30</text>
<text x="1371" y="1699" font-size="12" text-anchor="end">PD5</text>
<text x="1398" y="1706" font-size="12">31</text>
<text x="1371" y="1714" font-size="12" text-anchor="end">PD6</text>
<text x="1398" y="1721" font-size="12">32</text>
<text x="1371" y="1729" font-size="12" text-anchor="end">PD7</text>
<text x="1398" y="1751" font-size="12">35</text>
<text x="1371" y="1759" font-size="12" text-anchor="end">PE0</text>
<text x="1398" y="1766" font-size="12">36</text>
<text x="1371" y="1774" font-size="12" text-anchor="end">PE1</text>
<text x="1398" y="1781" font-size="12">37</text>
<text x="1371" y="1789" font-size="12" text-anchor="end">PE2</text>
<text x="1398" y="1796" font-size="12">38</text>
<text x="1371" y="1804" font-size="12" text-anchor="end">PE3</text>
<text x="1398" y="1811" font-size="12">39</text>
<text x="1371" y="1819" font-size="12" text-anchor="end">PE4</text>
<text x="1398" y="1826" font-size="12">40</text>
<text x="1371" y="1834" font-size="12" text-anchor="end">PE5</text>
<text x="1398" y="1841" font-size="12">41</text>
<text x="1371" y="1849" font-size="12" text-anchor="end">PE6</text>
<text x="1398" y="1856" font-size="12">42</text>
<text x="1371" y="1864" font-size="12" text-anchor="end">PE7</text>
<text x="1398" y="1886" font-size="12">45</text>
<text x="1371" y="1894" font-size="12" text-anchor="end">PF0</text>
<text x="1398" y="1901" font-size="12">46</text>
<text x="1371" y="1909" font-size="12" text-anchor="end">PF1</text>
<text x="1398" y="1916" font-size="12">47</text>
<text x="1371" y="1924" font-size="12" text-anchor="end">PF2</text>
<text x="1398" y="1931" font-size="12">48</text>
<text x="1371" y="1939" font-size="12" text-anchor="end">PF3</text>
<text x="1398" y="1946" font-size="12">49</text>
<text x="1371" y="1954" font-size="12" text-anchor="end">PF4</text>
<text x="1398" y="1961" font-size="12">50</text>
<text x="1371" y="1969" font-size="12" text-anchor="end">PF5</text>
<text x="1398" y="1976" font-size="12">51</text>
<text x="1371" y="1984" font-size="12" text-anchor="end">PF6</text>
<text x="1398" y="1991" font-size="12">52</text>
<text x="1371" y="1999" font-size="12" text-anchor="end">PF7</text>
<text x="1398" y="2021" font-size="12">55</text>
<text x="1371" y="2029" font-size="12" text-anchor="end">PH0</text>
<text x="1398" y="2036" font-size="12">56</text>
<text x="1371" y="2044" font-size="12" text-anchor="end">PH1</text>
<text x="1398" y="2051" font-size="12">57</text>
<text x="1371" y="2059" font-size="12" text-anchor="end">PH2</text>
<text x="1398" y="2066" font-size="12">58</text>
<text x="1371" y="2074" font-size="12" text-anchor="end">PH3</text>
<text x="1398" y="2081" font-size="12">59</text>
<text x="1371" y="2089" font-size="12" text-anchor="end">PH4</text>
<text x="1398" y="2096" font-size="12">60</text>
<text x="1371" y="2104" font-size="12" text-anchor="end">PH5</text>
<text x="1398" y="2111" font-size="12">61</text>
<text x="1371" y="2119" font-size="12" text-anchor="end">PH6</text>
<text x="1398" y="2126" font-size="12">62</text>
<text x="1371" y="2134" font-size="12" text-anchor="end">PH7</text>
<text x="1065" y="1163">3.3V</text>
<text transform="translate(884 1369) rotate(-90)">3.3V</text>
<text transform="translate(935 1348) rotate(-90)">U$2</text>
<text transform="translate(995 1347) rotate(-90)">100u</text>
<text x="1025" y="1455" text-anchor="middle">GND</text>
<text x="998" y="1405">C5</text>
<text x="980" y="1376">0.1uF</text>
<text x="1070" y="2175" text-anchor="middle">GND</text>
<text x="1453" y="1204">R37</text>
<text x="1453" y="1233">100</text>
<text x="1498" y="1219">R38</text>
<text x="1498" y="1248">100</text>
<text x="1453" y="1234">R39</text>
<text x="1453" y="1263">100</text>
<text x="1498" y="1249">R40</text>
<text x="1498" y="1278">100</text>
<text x="1453" y="1264">R41</text>
<text x="1453" y="1293">100</text>
<text x="1498" y="1279">R42</text>
<text x="1498" y="1308">100</text>
<text x="1453" y="1294">R42</text>
<text x="1453" y="1323">100</text>
<text x="1766" y="1213" text-anchor="end">ADC0</text>
<text x="1766" y="1228" text-anchor="end">ADC1</text>
<text x="1766" y="1243" text-anchor="end">ADC2</text>
<text x="1766" y="1258" text-anchor="end">ADC3</text>
<text x="1766" y="1273" text-anchor="end">ADC4</text>
<text x="1766" y="1288" text-anchor="end">ADC5</text>
<text x="1766" y="1303" text-anchor="end">ADC6</text>
<text transform="translate(1515 1094) rotate(-90)" text-anchor="middle">GND</text>
<text transform="translate(1525 1191) rotate(-90)">R43</text>
<text transform="translate(1555 1190) rotate(-90)">10k</text>
<text transform="translate(1555 1161) rotate(-90)">R44</text>
<text transform="translate(1585 1160) rotate(-90)">10K</text>
<text transform="translate(1585 1191) rotate(-90)">R98</text>
<text transform="translate(1615 1190) rotate(-90)">10k</text>
<text transform="translate(1615 1161) rotate(-90)">R45</text>
<text transform="translate(1645 1160) rotate(-90)">10K</text>
<text transform="translate(1645 1191) rotate(-90)">R46</text>
<text transform="translate(1675 1190) rotate(-90)">10k</text>
<text transform="translate(1675 1161) rotate(-90)">R47</text>
<text transform="translate(1705 1160) rotate(-90)">10K</text>
<text transform="translate(1705 1191) rotate(-90)">R48</text>
<text transform="translate(1735 1190) rotate(-90)">10k</text>
<text x="1430" y="1134" text-anchor="middle">GND</text>
<text x="1439" y="1166">C8</text>
<text x="1439" y="1196">0.1uF</text>
<text transform="translate(1580 1372) rotate(-90)">3.3V</text>
<text x="1415" y="1348">REFB</text>
<text x="1469" y="1339">R8</text>
<text x="1470" y="1368">1k</text>
<text x="1766" y="1408" text-anchor="end">TMS</text>
<text x="1766" y="1423" text-anchor="end">TDI</text>
<text x="1766" y="1438" text-anchor="end">TCK</text>
<text x="1766" y="1453" text-anchor="end">TDO</text>
<text x="1453" y="1474">R13</text>
<text x="1453" y="1503">100</text>
<text x="1499" y="1489">R14</text>
<text x="1499" y="1517">100</text>
<text x="1766" y="1483" text-anchor="end">SDA0</text>
<text x="1766" y="1498" text-anchor="end">SCL0</text>
<text x="1766" y="1513" text-anchor="end">RXD</text>
<text x="1766" y="1528" text-anchor="end">TXD</text>
<text x="1766" y="1543" text-anchor="end">SS</text>
<text x="1766" y="1558" text-anchor="end">MOSI</text>
<text x="1766" y="1573" text-anchor="end">MISO</text>
<text x="1766" y="1588" text-anchor="end">SCK</text>
<text x="1766" y="1618" text-anchor="end">ICP</text>
<text x="1766" y="1633" text-anchor="end">VS_DREQ</text>
<text x="1766" y="1648" text-anchor="end">L_PWM</text>
<text x="1766" y="1663" text-anchor="end">R_PWM</text>
<text x="1766" y="1678" text-anchor="end">VS_CS</text>
<text x="1766" y="1693" text-anchor="end">VS_MOSI</text>
<text x="1766" y="1708" text-anchor="end">VS_MISO</text>
<text x="1766" y="1723" text-anchor="end">VS_CS</text>
<text x="1514" y="1733">3.3V</text>
<text x="1520" y="1904" text-anchor="middle">GND</text>
<text x="1544" y="1864">R17</text>
<text x="1544" y="1892">100k</text>
<text x="1701" y="1730" font-size="10">U$5</text>
<text x="1652" y="1888" font-size="10">MICRO-SDCARD</text>
<text x="1640" y="1751" font-size="12" text-anchor="end">DAT1</text>
<text x="1669" y="1759" font-size="12">DAT1</text>
<text x="1640" y="1766" font-size="12" text-anchor="end">DAT0</text>
<text x="1669" y="1774" font-size="12">DAT0</text>
<text x="1640" y="1781" font-size="12" text-anchor="end">CLK</text>
<text x="1669" y="1789" font-size="12">CLK</text>
<text x="1640" y="1796" font-size="12" text-anchor="end">VCC</text>
<text x="1669" y="1804" font-size="12">VDD</text>
<text x="1640" y="1811" font-size="12" text-anchor="end">GND</text>
<text x="1669" y="1819" font-size="12">GND</text>
<text x="1640" y="1826" font-size="12" text-anchor="end">CMD</text>
<text x="1669" y="1834" font-size="12">CMD</text>
<text x="1640" y="1841" font-size="12" text-anchor="end">CD/DAT3</text>
<text x="1669" y="1849" font-size="12">CD/DAT3</text>
<text x="1640" y="1856" font-size="12" text-anchor="end">DAT2</text>
<text x="1669" y="1864" font-size="12">DAT2</text>
<text x="1767" y="1903" text-anchor="end">SERVO_CLK</text>
<text x="1767" y="1918" text-anchor="end">CC_GDO0</text>
<text x="1767" y="1933" text-anchor="end">CC_GDO2</text>
<text x="1767" y="1948" text-anchor="end">CC_CS</text>
<text x="1767" y="1963" text-anchor="end">CC_MOSI</text>
<text x="1767" y="1978" text-anchor="end">CC_MISO</text>
<text x="1767" y="1993" text-anchor="end">CC_SCK</text>
<text x="1760" y="2023" text-anchor="end">VS_RESET</text>
<text x="1760" y="2038" text-anchor="end">VS_BSYNC</text>
<text x="1760" y="2053" text-anchor="end">L_DIR</text>
<text x="1760" y="2068" text-anchor="end">R_DIR</text>
<text x="1760" y="2083" text-anchor="end">S1_PWM</text>
<text x="1760" y="2098" text-anchor="end">S2_PWM</text>
<text x="1760" y="2113" text-anchor="end">PORTH6</text>
<text x="1760" y="2128" text-anchor="end">PORTH7</text>
<text transform="translate(657 1409) rotate(-90)">JP2</text>
<text transform="translate(665 1424) rotate(-90)" font-size="11">1</text>
<text transform="translate(680 1424) rotate(-90)" font-size="11">2</text>
<text x="605" y="1422">XTAL1</text>
<text x="605" y="1467">PDI_DATA</text>
<text x="605" y="1482">PDI_CLK</text>
<text transform="translate(870 1514) rotate(-90)" text-anchor="middle">GND</text>
<text transform="translate(932 1488) rotate(-90)">C1</text>
<text transform="translate(932 1519) rotate(-90)">C2</text>
<text transform="translate(963 1519) rotate(-90)">22pF22pF</text>
<text transform="translate(1004 1497) rotate(-90)">Q1</text>
<text transform="translate(1025 1496) rotate(-90)">16Mhz</text>
<text transform="translate(870 1589) rotate(-90)" text-anchor="middle">GND</text>
<text transform="translate(932 1563) rotate(-90)">C3</text>
<text transform="translate(932 1594) rotate(-90)">C4</text>
<text transform="translate(963 1594) rotate(-90)">22pF22pF</text>
<text transform="translate(1004 1572) rotate(-90)">Q2</text>
<text transform="translate(1025 1571) rotate(-90)">32.768</text>
<text x="720" y="1492">3.3V</text>
<text transform="translate(630 1649) rotate(-90)" text-anchor="middle">GND</text>
<text x="675" y="1601">C9</text>
<text x="675" y="1631">0.1uF</text>
<text transform="translate(715 1542) rotate(-90)">10K</text>
<text transform="translate(744 1547) rotate(-90)">R28</text>
<text transform="translate(770 1633) rotate(-90)">S1</text>
<text transform="translate(705 1600) rotate(-90)" font-size="11">2</text>
<text transform="translate(719 1601) rotate(-90)" font-size="11">1</text>
<text transform="translate(705 1640) rotate(-90)" font-size="11">4</text>
<text transform="translate(719 1640) rotate(-90)" font-size="11">3</text>
<text transform="translate(630 1694) rotate(-90)" text-anchor="middle">GND</text>
<text x="605" y="1737">SD_DATA</text>
<text x="695" y="1712" font-size="8.5">green</text>
<text x="745" y="1736" font-size="8.5">red</text>
<text x="785" y="1697" font-size="8.5">green</text>
<text x="835" y="1721" font-size="8.5">red</text>
<text x="696" y="1759">LD1</text>
<text x="786" y="1745">LD2</text>
<text x="868" y="1669">R21</text>
<text x="868" y="1697">300</text>
<text x="913" y="1698">R19</text>
<text x="913" y="1724">300</text>
<text x="974" y="1683">R20</text>
<text x="974" y="1712">300</text>
<text x="1004" y="1713">R18</text>
<text x="1004" y="1741">300</text>
<text x="605" y="1768">SERVO_RST</text>
<text x="605" y="1783">PORTJ6</text>
<text x="605" y="1798">PORTJ5</text>
<text x="853" y="1789">R27</text>
<text x="853" y="1817">100</text>
<text x="605" y="1813">LCD_CS</text>
<text x="928" y="1804">R26</text>
<text x="928" y="1832">100</text>
<text x="605" y="1828">LCD3</text>
<text x="1003" y="1819">R25</text>
<text x="1003" y="1847">100</text>
<text x="605" y="1843">LCD2</text>
<text x="853" y="1834">R24</text>
<text x="853" y="1862">100</text>
<text x="605" y="1858">LCD1</text>
<text x="928" y="1849">R23</text>
<text x="928" y="1877">100</text>
<text x="605" y="1873">LCD0</text>
<text x="1003" y="1864">R22</text>
<text x="1003" y="1892">100</text>
<text x="605" y="1903">IK5</text>
<text x="657" y="1893">R36</text>
<text x="657" y="1922">510</text>
<text x="605" y="1918">IK4</text>
<text x="702" y="1908">R35</text>
<text x="702" y="1937">510</text>
<text x="605" y="1933">IK3</text>
<text x="747" y="1923">R34</text>
<text x="747" y="1952">510</text>
<text x="605" y="1948">IK2</text>
<text x="657" y="1938">R33</text>
<text x="657" y="1967">510</text>
<text x="605" y="1963">IK1</text>
<text x="702" y="1953">R32</text>
<text x="702" y="1982">510</text>
<text x="830" y="2023">Q5</text>
<text x="830" y="2038">BC817</text>
<text x="605" y="2022">ICP</text>
<text x="672" y="2014">R31</text>
<text x="672" y="2042">1k</text>
<text x="815" y="2100" text-anchor="middle">GND</text>
<text x="605" y="2127">ADC4</text>
<text x="605" y="2142">IK2</text>
<text x="605" y="2157">ADC1</text>
<text x="697" y="2216" font-size="12" text-anchor="end">10</text>
<text x="753" y="2216" font-size="12">9</text>
<text x="697" y="2231" font-size="12" text-anchor="end">8</text>
<text x="753" y="2231" font-size="12">7</text>
<text x="697" y="2246" font-size="12" text-anchor="end">6</text>
<text x="753" y="2246" font-size="12">5</text>
<text x="697" y="2261" font-size="12" text-anchor="end">4</text>
<text x="753" y="2261" font-size="12">3</text>
<text x="697" y="2276" font-size="12" text-anchor="end">2</text>
<text x="753" y="2276" font-size="12">1</text>
<text x="702" y="2197">SV5</text>
<text x="702" y="2308">Encoders</text>
<text x="659" y="2182">3.3V</text>
<text x="605" y="2232">ADC3</text>
<text transform="translate(830 2258) rotate(-90)">5V</text>
<text x="605" y="2262">IK1</text>
<text x="605" y="2277">ADC0</text>
<text transform="translate(830 2301) rotate(-90)">3.3V</text>
<text x="427" y="1496" font-size="12" text-anchor="end">6</text>
<text x="483" y="1496" font-size="12">5</text>
<text x="427" y="1511" font-size="12" text-anchor="end">4</text>
<text x="483" y="1511" font-size="12">3</text>
<text x="427" y="1526" font-size="12" text-anchor="end">2</text>
<text x="483" y="1526" font-size="12">1</text>
<text x="433" y="1479">SV2</text>
<text x="433" y="1558">PDI</text>
<text transform="translate(360 1499) rotate(-90)" text-anchor="middle">GND</text>
<text transform="translate(359 1534) rotate(-90)">3.3V</text>
<text x="515" y="1498">PDI_CLK</text>
<text x="515" y="1528">PDI_DATA</text>
<text x="427" y="1631" font-size="12" text-anchor="end">10</text>
<text x="483" y="1631" font-size="12">9</text>
<text x="427" y="1646" font-size="12" text-anchor="end">8</text>
<text x="483" y="1646" font-size="12">7</text>
<text x="427" y="1661" font-size="12" text-anchor="end">6</text>
<text x="483" y="1661" font-size="12">5</text>
<text x="427" y="1676" font-size="12" text-anchor="end">4</text>
<text x="483" y="1676" font-size="12">3</text>
<text x="427" y="1691" font-size="12" text-anchor="end">2</text>
<text x="483" y="1691" font-size="12">1</text>
<text x="433" y="1613">SV3</text>
<text x="433" y="1723">JTAG</text>
<text x="515" y="1573">PDI_DATA</text>
<text x="515" y="1588">PDI_CLK</text>
<text transform="translate(344 1609) rotate(-90)">3.3V</text>
<text x="380" y="1740" text-anchor="middle">GND</text>
<text x="516" y="1633">TDI</text>
<text x="516" y="1663">TMS</text>
<text x="516" y="1678">TDO</text>
<text x="516" y="1693">TCK</text>
<text x="260" y="1805">IC1</text>
<text x="260" y="2038">CP210X_USB_UART</text>
<text x="246" y="1826" font-size="12" text-anchor="end">7</text>
<text x="274" y="1834" font-size="12">REGIN</text>
<text x="246" y="1841" font-size="12" text-anchor="end">8</text>
<text x="274" y="1849" font-size="12">VBUS</text>
<text x="246" y="1871" font-size="12" text-anchor="end">6</text>
<text x="274" y="1879" font-size="12">VDD</text>
<text x="246" y="1901" font-size="12" text-anchor="end">4</text>
<text x="274" y="1909" font-size="12">D+</text>
<text x="246" y="1931" font-size="12" text-anchor="end">5</text>
<text x="274" y="1939" font-size="12">D-</text>
<text x="246" y="1976" font-size="12" text-anchor="end">M</text>
<text x="274" y="1984" font-size="12">GND</text>
<text x="246" y="1991" font-size="12" text-anchor="end">EXP</text>
<text x="274" y="1999" font-size="12">GND</text>
<text x="246" y="2006" font-size="12" text-anchor="end">3</text>
<text x="274" y="2014" font-size="12">GND</text>
<text x="440" y="1826" font-size="12">9</text>
<text x="411" y="1834" font-size="12" text-anchor="end">RST</text>
<text x="440" y="1856" font-size="12">12</text>
<text x="411" y="1864" font-size="12" text-anchor="end">SUSPEND</text>
<text x="440" y="1871" font-size="12">11</text>
<text x="411" y="1879" font-size="12" text-anchor="end">SUSPEND</text>
<text x="440" y="1901" font-size="12">2</text>
<text x="411" y="1909" font-size="12" text-anchor="end">RI</text>
<text x="440" y="1916" font-size="12">1</text>
<text x="411" y="1924" font-size="12" text-anchor="end">DCD</text>
<text x="440" y="1931" font-size="12">28</text>
<text x="411" y="1939" font-size="12" text-anchor="end">DTR</text>
<text x="440" y="1946" font-size="12">27</text>
<text x="411" y="1954" font-size="12" text-anchor="end">DSR</text>
<text x="440" y="1961" font-size="12">26</text>
<text x="411" y="1969" font-size="12" text-anchor="end">TXD</text>
<text x="440" y="1976" font-size="12">25</text>
<text x="411" y="1984" font-size="12" text-anchor="end">RXD</text>
<text x="440" y="1991" font-size="12">24</text>
<text x="411" y="1999" font-size="12" text-anchor="end">RTS</text>
<text x="440" y="2006" font-size="12">23</text>
<text x="411" y="2014" font-size="12" text-anchor="end">CTS</text>
<text transform="translate(15 1844) rotate(-90)" text-anchor="middle">GND</text>
<text transform="translate(62 1889) rotate(-90)">0.1uF</text>
<text transform="translate(92 1870) rotate(-90)">C6</text>
<text x="119" y="1747">5V</text>
<text transform="translate(115 1827) rotate(-90)">BAS40</text>
<text transform="translate(146 1802) rotate(-90)">D1</text>
<text transform="translate(87 1928) rotate(-90)" fill="#a53c3c" font-size="22" text-anchor="middle">USB</text>
<text x="97" y="1899" font-size="12">D+</text>
<text x="97" y="1914" font-size="12">D-</text>
<text x="97" y="1929" font-size="12">VBUS</text>
<text x="97" y="1944" font-size="12">GND</text>
<text x="125" y="2025" text-anchor="middle">GND</text>
<text x="170" y="2025" text-anchor="middle">GND</text>
<text x="179" y="1945">C7</text>
<text x="179" y="1976">0.1uF</text>
<text x="215" y="2070" text-anchor="middle">GND</text>
<text transform="translate(498 1924) rotate(-90)">C93</text>
<text transform="translate(527 1924) rotate(-90)">0.1uF</text>
<text x="531" y="1933">PDI_CLK</text>
<text x="546" y="1963">RXD</text>
<text x="456" y="1953">BAS40</text>
<text x="480" y="1984">D2</text>
<text x="495" y="2048">3.3V</text>
<text x="583" y="2068" text-anchor="end">LCD0</text>
<text x="583" y="2083" text-anchor="end">LCD1</text>
<text x="583" y="2098" text-anchor="end">LCD2</text>
<text x="583" y="2113" text-anchor="end">LCD3</text>
<text x="583" y="2128" text-anchor="end">LCD_CS</text>
<text x="583" y="2278" text-anchor="end">RAOUT2</text>
<text x="583" y="2293" text-anchor="end">LAOUT2</text>
<text x="583" y="2308" text-anchor="end">PORTH6</text>
<text x="583" y="2323" text-anchor="end">ADC6</text>
<text x="583" y="2338" text-anchor="end">ADC2</text>
<text x="583" y="2353" text-anchor="end">IK4</text>
<text transform="translate(209 2495) rotate(-90)">5V</text>
<text x="583" y="2383" text-anchor="end">RAOUT1</text>
<text x="583" y="2398" text-anchor="end">LAOUT1</text>
<text x="583" y="2413" text-anchor="end">PORTH7</text>
<text x="583" y="2443" text-anchor="end">ADC5</text>
<text x="583" y="2458" text-anchor="end">IK5</text>
<text x="583" y="2473" text-anchor="end">IK3</text>
<text x="583" y="2488" text-anchor="end">PORTJ6</text>
<text x="583" y="2503" text-anchor="end">PORTJ5</text>
<text x="583" y="2533" text-anchor="end">SDA</text>
<text x="583" y="2548" text-anchor="end">SCL</text>
<text x="412" y="2381" font-size="12" text-anchor="end">26</text>
<text x="468" y="2381" font-size="12">25</text>
<text x="412" y="2396" font-size="12" text-anchor="end">24</text>
<text x="468" y="2396" font-size="12">23</text>
<text x="412" y="2411" font-size="12" text-anchor="end">22</text>
<text x="468" y="2411" font-size="12">21</text>
<text x="412" y="2426" font-size="12" text-anchor="end">20</text>
<text x="468" y="2426" font-size="12">19</text>
<text x="412" y="2441" font-size="12" text-anchor="end">18</text>
<text x="468" y="2441" font-size="12">17</text>
<text x="412" y="2456" font-size="12" text-anchor="end">16</text>
<text x="468" y="2456" font-size="12">15</text>
<text x="412" y="2471" font-size="12" text-anchor="end">14</text>
<text x="468" y="2471" font-size="12">13</text>
<text x="412" y="2486" font-size="12" text-anchor="end">12</text>
<text x="468" y="2486" font-size="12">11</text>
<text x="412" y="2501" font-size="12" text-anchor="end">10</text>
<text x="468" y="2501" font-size="12">9</text>
<text x="412" y="2516" font-size="12" text-anchor="end">8</text>
<text x="468" y="2516" font-size="12">7</text>
<text x="412" y="2531" font-size="12" text-anchor="end">6</text>
<text x="468" y="2531" font-size="12">5</text>
<text x="412" y="2546" font-size="12" text-anchor="end">4</text>
<text x="468" y="2546" font-size="12">3</text>
<text x="412" y="2561" font-size="12" text-anchor="end">2</text>
<text x="468" y="2561" font-size="12">1</text>
<text x="418" y="2364">SV4</text>
<text x="417" y="2594">LCD,TSOP,Opto, IK dalnomer</text>
<text x="500" y="2669" text-anchor="middle">GND</text>
<text x="2060" y="225" text-anchor="middle">GND</text>
<text x="2104" y="150" fill="#a53c3c" font-size="11">+</text>
<text x="2120" y="225" text-anchor="middle">GND</text>
<text x="2069" y="147">C76</text>
<text x="2071" y="176">1nF</text>
<text x="2126" y="145">C77</text>
<text x="2127" y="173">10x10</text>
<text transform="translate(2231 166) rotate(-90)">5k6</text>
<text transform="translate(2259 168) rotate(-90)">R88</text>
<text x="2286" y="147">T2</text>
<text x="2286" y="162">bcp56</text>
<text x="2166" y="207">T1</text>
<text x="2166" y="222">BC848</text>
<text x="2240" y="345" text-anchor="middle">GND</text>
<text x="2144" y="245">1k</text>
<text x="2132" y="272">R89</text>
<text x="2300" y="214">22k</text>
<text x="2297" y="242">R87</text>
<text x="2376" y="357">U$16</text>
<text x="2376" y="418">1u</text>
<text transform="translate(2291 405) rotate(-90)">3k9</text>
<text transform="translate(2319 408) rotate(-90)">R90</text>
<text transform="translate(1844 349) rotate(-90)">5V</text>
<text transform="translate(1896 328) rotate(-90)">U$19</text>
<text transform="translate(1956 328) rotate(-90)">33u</text>
<text transform="translate(1976 391) rotate(-90)">200</text>
<text transform="translate(2004 393) rotate(-90)">R94</text>
<text x="1925" y="525" text-anchor="middle">GND</text>
<text x="1934" y="446">C82</text>
<text x="1934" y="475">0,1uF</text>
<text x="2000" y="448">U$18</text>
<text x="2000" y="509">22n</text>
<text transform="translate(2081 479) rotate(-90)">22K</text>
<text transform="translate(2110 482) rotate(-90)">R91</text>
<text x="2166" y="418">U$17</text>
<text x="2166" y="478">22n</text>
<text x="1903" y="544">R93</text>
<text x="1903" y="573">22k</text>
<text transform="translate(2044 544) rotate(-90)">C80</text>
<text transform="translate(2074 544) rotate(-90)">4,7</text>
<text x="2166" y="539">Q24</text>
<text x="2166" y="554">BFG67</text>
<text x="2150" y="645" text-anchor="middle">GND</text>
<text transform="translate(2238 605) rotate(-90)">C79</text>
<text transform="translate(2268 605) rotate(-90)">6,2</text>
<text x="2376" y="463">Q22</text>
<text x="2376" y="478">BFG67</text>
<text x="2360" y="555" text-anchor="middle">GND</text>
<text x="2376" y="598">Q23</text>
<text x="2376" y="613">BFG67</text>
<text x="2360" y="690" text-anchor="middle">GND</text>
<text transform="translate(2464 559) rotate(-90)">C78</text>
<text transform="translate(2495 558) rotate(-90)">100pF</text>
<text transform="translate(2523 472) rotate(-90)" font-size="11">1</text>
<text transform="translate(2509 487) rotate(-90)" font-size="9.5">U$15</text>
<text transform="translate(2550 486) rotate(-90)" font-size="9.5">BANANA_CONN</text>
<text transform="translate(2523 513) rotate(-90)" font-size="11">P$1</text>
<text x="2000" y="583">Q25</text>
<text x="2000" y="598">BFG67</text>
<text x="2030" y="765" text-anchor="middle">GND</text>
<text transform="translate(2022 690) rotate(-90)">200</text>
<text transform="translate(2050 693) rotate(-90)">R92</text>
<text x="1985" y="765" text-anchor="middle">GND</text>
<text x="1956" y="671">6,8</text>
<text x="1951" y="701">C81</text>
<text x="1880" y="765" text-anchor="middle">GND</text>
<text transform="translate(1874 673) rotate(-90)">Q26</text>
<text transform="translate(1896 674) rotate(-90)">433,92Mhz</text>
<text x="2345" y="1049">IC2</text>
<text x="2345" y="1289">CC2500</text>
<text x="2340" y="1076" font-size="12" text-anchor="end">1</text>
<text x="2359" y="1084" font-size="12">SCLK</text>
<text x="2340" y="1091" font-size="12" text-anchor="end">2</text>
<text x="2359" y="1099" font-size="12">SO/GDO1</text>
<text x="2340" y="1106" font-size="12" text-anchor="end">20</text>
<text x="2359" y="1114" font-size="12">SI</text>
<text x="2340" y="1121" font-size="12" text-anchor="end">7</text>
<text x="2359" y="1129" font-size="12">CS</text>
<text x="2340" y="1151" font-size="12" text-anchor="end">6</text>
<text x="2359" y="1159" font-size="12">GDO0</text>
<text x="2340" y="1166" font-size="12" text-anchor="end">3</text>
<text x="2359" y="1174" font-size="12">GDO2</text>
<text x="2340" y="1196" font-size="12" text-anchor="end">8</text>
<text x="2359" y="1204" font-size="12">XOSC-1</text>
<text x="2340" y="1241" font-size="12" text-anchor="end">10</text>
<text x="2359" y="1249" font-size="12">XOSC-2</text>
<text x="2508" y="1076" font-size="12">12</text>
<text x="2481" y="1084" font-size="12" text-anchor="end">RF-P</text>
<text x="2508" y="1106" font-size="12">13</text>
<text x="2481" y="1114" font-size="12" text-anchor="end">RF-N</text>
<text x="2508" y="1181" font-size="12">18</text>
<text x="2481" y="1189" font-size="12" text-anchor="end">DGUARD</text>
<text x="2508" y="1196" font-size="12">5</text>
<text x="2481" y="1204" font-size="12" text-anchor="end">DCOUPL</text>
<text x="2508" y="1241" font-size="12">17</text>
<text x="2481" y="1249" font-size="12" text-anchor="end">RBIAS</text>
<text x="2135" y="1078">CC_SCK</text>
<text x="2135" y="1093">CC_MISO</text>
<text x="2135" y="1108">CC_MOSI</text>
<text x="2135" y="1123">CC_CS</text>
<text x="2135" y="1153">CC_GDO0</text>
<text x="2135" y="1168">CC_GDO2</text>
<text x="2285" y="969" text-anchor="middle">GND</text>
<text transform="translate(2277 1057) rotate(-90)">R49</text>
<text transform="translate(2306 1055) rotate(-90)">100K</text>
<text x="2255" y="1395" text-anchor="middle">GND</text>
<text x="2200" y="1238">27Mhz</text>
<text x="2221" y="1259">Q6</text>
<text x="2199" y="1300">22pF22pF</text>
<text x="2205" y="1331">C10 C11</text>
<text x="2585" y="939" text-anchor="middle">GND</text>
<text x="2537" y="988">U$22</text>
<text x="2545" y="1048">1,2n</text>
<text transform="translate(2586 1068) rotate(-90)">100pF</text>
<text transform="translate(2554 1069) rotate(-90)">C12</text>
<text transform="translate(2630 1069) rotate(-90)">C84</text>
<text transform="translate(2660 1068) rotate(-90)">1,0pF</text>
<text transform="translate(2553 1157) rotate(-90)">100pF</text>
<text transform="translate(2584 1143) rotate(-90)">C13</text>
<text x="2595" y="1141">C88</text>
<text x="2595" y="1166">1,0pF</text>
<text x="2675" y="1104">1,8pF</text>
<text transform="translate(2675 1150) rotate(-90)">1,2n</text>
<text x="2686" y="1135">C85</text>
<text transform="translate(2750 1127) rotate(-90)">U$23</text>
<text x="2840" y="1215" text-anchor="middle">GND</text>
<text x="2805" y="1135">C86</text>
<text x="2795" y="1104">1,5pF</text>
<text transform="translate(2810 1115) rotate(-90)">1,2n</text>
<text transform="translate(2838 1008) rotate(-90)" font-size="11">P$1</text>
<text transform="translate(2846 965) rotate(-90)" font-size="11">1</text>
<text transform="translate(2823 981) rotate(-90)" font-size="9.5">U$9</text>
<text transform="translate(2866 981) rotate(-90)" font-size="9.5">BANANA_CONN</text>
<text transform="translate(2781 1207) rotate(-90)">3.3V</text>
<text x="2555" y="1225">0,1uF</text>
<text x="2565" y="1255">C14</text>
<text x="2630" y="1225">0,1uF</text>
<text x="2640" y="1255">C15</text>
<text x="2685" y="1225">220pF</text>
<text x="2700" y="1255">C16</text>
<text x="2540" y="1395" text-anchor="middle">GND</text>
<text transform="translate(2531 1312) rotate(-90)">R50</text>
<text transform="translate(2560 1312) rotate(-90)">56K</text>
<text x="2345" y="1407">IC2P</text>
<text x="2465" y="1558">CC2500</text>
<text x="2340" y="1436" font-size="12" text-anchor="end">9</text>
<text x="2359" y="1444" font-size="12">AVDD</text>
<text x="2340" y="1451" font-size="12" text-anchor="end">11</text>
<text x="2359" y="1459" font-size="12">AVDD</text>
<text x="2340" y="1496" font-size="12" text-anchor="end">4</text>
<text x="2359" y="1504" font-size="12">DVDD</text>
<text x="2508" y="1436" font-size="12">14</text>
<text x="2481" y="1444" font-size="12" text-anchor="end">AVDD</text>
<text x="2508" y="1451" font-size="12">15</text>
<text x="2481" y="1459" font-size="12" text-anchor="end">AVDD</text>
<text x="2508" y="1481" font-size="12">16</text>
<text x="2481" y="1489" font-size="12" text-anchor="end">GND</text>
<text x="2508" y="1496" font-size="12">19</text>
<text x="2481" y="1504" font-size="12" text-anchor="end">GND</text>
<text x="2398" y="1531" fill="#a53c3c">AGND</text>
<text x="2420" y="1620" text-anchor="middle">GND</text>
<text x="2190" y="1387">3.3V</text>
<text x="2146" y="1479">220pF</text>
<text x="2160" y="1510">C20</text>
<text x="2225" y="1479">0,1uF</text>
<text x="2236" y="1510">C19</text>
<text transform="translate(2706 1462) rotate(-90)">3.3V</text>
<text x="2550" y="1479">220pF</text>
<text x="2566" y="1510">C17</text>
<text x="2600" y="1479">0,1uF</text>
<text x="2610" y="1510">C18</text>
<text x="2267" y="1676" font-size="12" text-anchor="end">1</text>
<text x="2267" y="1691" font-size="12" text-anchor="end">2</text>
<text x="2135" y="1678">CC_GDO2</text>
<text x="2135" y="1693">CC_CS</text>
<text x="2193" y="1657">Calibrovka CC2500</text>
<text x="2291" y="1722">JP5</text>
<text x="2345" y="1853">U$11</text>
<text x="2420" y="1949">VS1011</text>
<text transform="translate(2388 1856) rotate(-90)" font-size="12">6</text>
<text transform="translate(2395 1913) rotate(-90)" font-size="12">DVDD1</text>
<text transform="translate(2403 1856) rotate(-90)" font-size="12">14</text>
<text transform="translate(2410 1913) rotate(-90)" font-size="12">DVDD2</text>
<text transform="translate(2418 1856) rotate(-90)" font-size="12">19</text>
<text transform="translate(2425 1913) rotate(-90)" font-size="12">DVDD3</text>
<text transform="translate(2448 1856) rotate(-90)" font-size="12">4</text>
<text transform="translate(2455 1913) rotate(-90)" font-size="12">DGND1</text>
<text transform="translate(2463 1856) rotate(-90)" font-size="12">16</text>
<text transform="translate(2470 1913) rotate(-90)" font-size="12">DGND2</text>
<text transform="translate(2478 1856) rotate(-90)" font-size="12">20</text>
<text transform="translate(2485 1913) rotate(-90)" font-size="12">DGND3</text>
<text transform="translate(2493 1856) rotate(-90)" font-size="12">21</text>
<text transform="translate(2500 1913) rotate(-90)" font-size="12">DGND4</text>
<text transform="translate(2508 1856) rotate(-90)" font-size="12">22</text>
<text transform="translate(2515 1913) rotate(-90)" font-size="12">DGND5</text>
<text x="2399" y="1762">3.3V</text>
<text x="2480" y="1764" text-anchor="middle">GND</text>
<text transform="translate(2373 2266) rotate(-90)" font-size="12">38</text>
<text transform="translate(2380 2235) rotate(-90)" font-size="12">AVDD1</text>
<text transform="translate(2388 2266) rotate(-90)" font-size="12">43</text>
<text transform="translate(2395 2235) rotate(-90)" font-size="12">AVDD2</text>
<text transform="translate(2403 2266) rotate(-90)" font-size="12">45</text>
<text transform="translate(2410 2235) rotate(-90)" font-size="12">AVDD3</text>
<text transform="translate(2448 2266) rotate(-90)" font-size="12">37</text>
<text transform="translate(2455 2235) rotate(-90)" font-size="12">AGND1</text>
<text transform="translate(2463 2266) rotate(-90)" font-size="12">40</text>
<text transform="translate(2470 2235) rotate(-90)" font-size="12">AGND2</text>
<text transform="translate(2478 2266) rotate(-90)" font-size="12">41</text>
<text transform="translate(2485 2235) rotate(-90)" font-size="12">AGND3</text>
<text transform="translate(2493 2266) rotate(-90)" font-size="12">47</text>
<text transform="translate(2500 2235) rotate(-90)" font-size="12">AGND4</text>
<text x="2342" y="1901" font-size="12" text-anchor="end">30</text>
<text x="2359" y="1909" font-size="12">SO</text>
<text x="2342" y="1916" font-size="12" text-anchor="end">29</text>
<text x="2359" y="1924" font-size="12">SI</text>
<text x="2342" y="1931" font-size="12" text-anchor="end">28</text>
<text x="2359" y="1939" font-size="12">SCLK</text>
<text x="2342" y="1946" font-size="12" text-anchor="end">23</text>
<text x="2359" y="1954" font-size="12">XCS</text>
<text x="2342" y="1961" font-size="12" text-anchor="end">3</text>
<text x="2359" y="1969" font-size="12">XRESET</text>
<text x="2342" y="2006" font-size="12" text-anchor="end">8</text>
<text x="2359" y="2014" font-size="12">D_REQ</text>
<text x="2342" y="2021" font-size="12" text-anchor="end">13</text>
<text x="2359" y="2029" font-size="12">XDCS/BSYNC</text>
<text x="2342" y="2051" font-size="12" text-anchor="end">18</text>
<text x="2359" y="2059" font-size="12">XTAL1</text>
<text x="2342" y="2066" font-size="12" text-anchor="end">17</text>
<text x="2359" y="2074" font-size="12">XTAL0</text>
<text x="2342" y="2096" font-size="12" text-anchor="end">33</text>
<text x="2359" y="2104" font-size="12">SPIBOOT/GPIO0</text>
<text x="2342" y="2111" font-size="12" text-anchor="end">34</text>
<text x="2359" y="2119" font-size="12">GPIO1</text>
<text x="2342" y="2126" font-size="12" text-anchor="end">9</text>
<text x="2359" y="2134" font-size="12">GPIO2/DCLK</text>
<text x="2342" y="2141" font-size="12" text-anchor="end">10</text>
<text x="2359" y="2149" font-size="12">GPIO3/SDATA</text>
<text x="2342" y="2156" font-size="12" text-anchor="end">32</text>
<text x="2359" y="2164" font-size="12">TEST</text>
<text x="2528" y="1931" font-size="12">27</text>
<text x="2511" y="1939" font-size="12" text-anchor="end">TX</text>
<text x="2528" y="1946" font-size="12">26</text>
<text x="2511" y="1954" font-size="12" text-anchor="end">RX</text>
<text x="2528" y="2036" font-size="12">42</text>
<text x="2511" y="2044" font-size="12" text-anchor="end">GBUF</text>
<text x="2528" y="2051" font-size="12">39</text>
<text x="2511" y="2059" font-size="12" text-anchor="end">RIGHT</text>
<text x="2528" y="2066" font-size="12">46</text>
<text x="2511" y="2074" font-size="12" text-anchor="end">LEFT</text>
<text x="2528" y="2111" font-size="12">1</text>
<text x="2511" y="2119" font-size="12" text-anchor="end">MICP</text>
<text x="2528" y="2126" font-size="12">2</text>
<text x="2511" y="2134" font-size="12" text-anchor="end">MICN</text>
<text x="2528" y="2141" font-size="12">44</text>
<text x="2511" y="2149" font-size="12" text-anchor="end">RCAP</text>
<text x="2135" y="1903">VS_MISO</text>
<text x="2135" y="1918">VS_MOSI</text>
<text x="2135" y="1933">VS_SCK</text>
<text x="2135" y="1948">VS_CS</text>
<text x="2135" y="1963">VS_RESET</text>
<text x="2135" y="1978">VS_DREQ</text>
<text x="2135" y="1993">VS_BSYNC</text>
<text transform="translate(2131 2084) rotate(-90)" text-anchor="middle">GND</text>
<text transform="translate(2194 2030) rotate(-90)">C22</text>
<text transform="translate(2224 2030) rotate(-90)">33pF</text>
<text transform="translate(2194 2090) rotate(-90)">C23</text>
<text transform="translate(2224 2092) rotate(-90)">33pF</text>
<text transform="translate(2231 2090) rotate(-90)">R51</text>
<text transform="translate(2260 2088) rotate(-90)">1M</text>
<text transform="translate(2264 2052) rotate(-90)">Q7</text>
<text transform="translate(2286 2052) rotate(-90)">24Mhz</text>
<text transform="translate(2565 2047) rotate(-90)">C25</text>
<text transform="translate(2596 2047) rotate(-90)">100x6,3</text>
<text transform="translate(2612 2062) rotate(-90)">C26</text>
<text transform="translate(2641 2060) rotate(-90)">100x6,3</text>
<text x="2567" y="2070" fill="#a53c3c" font-size="11">+</text>
<text x="2613" y="2086" fill="#a53c3c" font-size="11">+</text>
<text x="2579" y="2186">C24</text>
<text x="2579" y="2216">0,1uF</text>
<text x="2465" y="2355" text-anchor="middle">GND</text>
<text transform="translate(2418 2339) rotate(-90)">0,1uF</text>
<text transform="translate(2447 2328) rotate(-90)">C21</text>
<text transform="translate(2219 2344) rotate(-90)">3.3V</text>
<text transform="translate(2271 2323) rotate(-90)">U$28</text>
<text transform="translate(2331 2323) rotate(-90)">33u</text>
<text x="1835" y="1164" text-anchor="middle">GND</text>
<text x="1896" y="1197">GND</text>
<text transform="translate(1826 1252) rotate(-90)">R12</text>
<text transform="translate(1855 1252) rotate(-90)">4k7</text>
<text transform="translate(1826 1341) rotate(-90)">R11</text>
<text transform="translate(1855 1341) rotate(-90)">4k7</text>
<text x="1895" y="1362">VIDEO_IN</text>
<text x="2033" y="1271" font-size="12" text-anchor="end">1</text>
<text x="2033" y="1286" font-size="12" text-anchor="end">2</text>
<text x="2033" y="1301" font-size="12" text-anchor="end">3</text>
<text x="2023" y="1253">Video IN</text>
<text x="2052" y="1333">JP3</text>
<text transform="translate(1933 1294) rotate(-90)">5V</text>
<text transform="translate(1955 1394) rotate(-90)" text-anchor="middle">GND</text>
<text x="1880" y="1384">4k7</text>
<text x="1877" y="1412">R10</text>
<text transform="translate(1825 1440) rotate(-90)">4k7</text>
<text transform="translate(1854 1435) rotate(-90)">R9</text>
<text transform="translate(1971 1491) rotate(-90)">3.3V</text>
<text transform="translate(1825 1514) rotate(-90)">3k3</text>
<text transform="translate(1854 1516) rotate(-90)">R15</text>
<text transform="translate(1870 1514) rotate(-90)">3k3</text>
<text transform="translate(1899 1516) rotate(-90)">R16</text>
<text x="1790" y="1543">SCL0</text>
<text x="1790" y="1558">SDA0</text>
<text x="1791" y="1603">SCL</text>
<text x="1790" y="1903">SCL0</text>
<text transform="translate(1826 1646) rotate(-90)">10K</text>
<text transform="translate(1855 1652) rotate(-90)">R29</text>
<text x="1918" y="1757">R30</text>
<text x="1920" y="1786">10K</text>
<text transform="translate(1820 1736) rotate(-90)" font-size="11">3</text>
<text transform="translate(1835 1736) rotate(-90)" font-size="11">2</text>
<text transform="translate(1850 1736) rotate(-90)" font-size="11">1</text>
<text transform="translate(1785 1714) rotate(-90)">3.3V</text>
<text transform="translate(1895 1719) rotate(-90)">5V</text>
<text transform="translate(1867 1762) rotate(-90)">JP4</text>
<text transform="translate(1811 1832) rotate(-90)">JUMPER-3PTH</text>
<text x="1791" y="1798">SDA</text>
<text x="1790" y="1888">SDA0</text>
<text x="1890" y="1889">3.3V</text>
<text transform="translate(1876 1709) rotate(-90)">U$27G$1</text>
<text transform="translate(1890 1699) rotate(-90)">IRF7103</text>
<text transform="translate(1876 1899) rotate(-90)">U$27G$2</text>
<text transform="translate(1890 1894) rotate(-90)">IRF7103</text>
<text x="1895" y="1929">IC7</text>
<text x="1895" y="2143">4017D</text>
<text x="1997" y="1946" font-size="12">3</text>
<text x="1971" y="1954" font-size="12" text-anchor="end">Q0</text>
<text x="1997" y="1961" font-size="12">2</text>
<text x="1971" y="1969" font-size="12" text-anchor="end">Q1</text>
<text x="2091" y="1963">S1</text>
<text x="1997" y="1976" font-size="12">4</text>
<text x="1971" y="1984" font-size="12" text-anchor="end">Q2</text>
<text x="2091" y="1978">S2</text>
<text x="1997" y="1991" font-size="12">7</text>
<text x="1971" y="1999" font-size="12" text-anchor="end">Q3</text>
<text x="2091" y="1993">S5</text>
<text x="1997" y="2006" font-size="12">10</text>
<text x="1971" y="2014" font-size="12" text-anchor="end">Q4</text>
<text x="2091" y="2008">S6</text>
<text x="1997" y="2021" font-size="12">1</text>
<text x="1971" y="2029" font-size="12" text-anchor="end">Q5</text>
<text x="2091" y="2023">S0</text>
<text x="1997" y="2036" font-size="12">5</text>
<text x="1971" y="2044" font-size="12" text-anchor="end">Q6</text>
<text x="2091" y="2038">S3</text>
<text x="1997" y="2051" font-size="12">6</text>
<text x="1971" y="2059" font-size="12" text-anchor="end">Q7</text>
<text x="2091" y="2053">S4</text>
<text x="1997" y="2066" font-size="12">9</text>
<text x="1971" y="2074" font-size="12" text-anchor="end">Q8</text>
<text x="2091" y="2068">S7</text>
<text x="1997" y="2081" font-size="12">11</text>
<text x="1971" y="2089" font-size="12" text-anchor="end">Q9</text>
<text x="1997" y="2111" font-size="12">12</text>
<text x="1971" y="2119" font-size="12" text-anchor="end">CO</text>
<text x="1880" y="2021" font-size="12" text-anchor="end">14</text>
<text x="1909" y="2029" font-size="12">CLK</text>
<text x="1880" y="2081" font-size="12" text-anchor="end">13</text>
<text x="1909" y="2089" font-size="12">ENA</text>
<text x="1880" y="2111" font-size="12" text-anchor="end">15</text>
<text x="1909" y="2119" font-size="12">RES</text>
<text x="1776" y="2023">SERVO_CLK</text>
<text x="1776" y="2113">SERVO_RST</text>
<text x="1850" y="2175" text-anchor="middle">GND</text>
<text x="1986" y="2201" font-size="12" text-anchor="end">8</text>
<text x="1790" y="2202">S0</text>
<text x="1904" y="2193">R100</text>
<text x="1905" y="2222">100</text>
<text x="1986" y="2216" font-size="12" text-anchor="end">7</text>
<text x="1790" y="2217">S1</text>
<text x="1859" y="2208">R101</text>
<text x="1860" y="2237">100</text>
<text x="1986" y="2231" font-size="12" text-anchor="end">6</text>
<text x="1790" y="2232">S2</text>
<text x="1814" y="2223">R102</text>
<text x="1815" y="2252">100</text>
<text x="1986" y="2246" font-size="12" text-anchor="end">5</text>
<text x="1790" y="2247">S3</text>
<text x="1904" y="2238">R103</text>
<text x="1905" y="2267">100</text>
<text x="1986" y="2261" font-size="12" text-anchor="end">4</text>
<text x="1790" y="2262">S4</text>
<text x="1859" y="2253">R104</text>
<text x="1860" y="2282">100</text>
<text x="1986" y="2276" font-size="12" text-anchor="end">3</text>
<text x="1790" y="2277">S5</text>
<text x="1814" y="2268">R105</text>
<text x="1815" y="2297">100</text>
<text x="1986" y="2291" font-size="12" text-anchor="end">2</text>
<text x="1790" y="2292">S6</text>
<text x="1904" y="2283">R106</text>
<text x="1905" y="2312">100</text>
<text x="1986" y="2306" font-size="12" text-anchor="end">1</text>
<text x="1790" y="2307">S7</text>
<text x="1859" y="2298">R107</text>
<text x="1860" y="2327">100</text>
<text x="1999" y="2183">JP14</text>
<text x="1994" y="2337">Servo</text>
<text x="995" y="2456" font-size="12">4</text>
<text x="995" y="2471" font-size="12">3</text>
<text x="995" y="2486" font-size="12">2</text>
<text x="995" y="2501" font-size="12">1</text>
<text x="950" y="2438">JP15</text>
<text x="950" y="2534">I2C</text>
<text x="1005" y="2407">5V</text>
<text x="1055" y="2565" text-anchor="middle">GND</text>
<text transform="translate(1084 2413) rotate(-90)">SDA</text>
<text transform="translate(1070 2413) rotate(-90)">SCL</text>
<text x="2420" y="2437">U$24</text>
<text x="2420" y="2593">TDA7053</text>
<text x="2418" y="2456" font-size="12" text-anchor="end">1</text>
<text x="2434" y="2464" font-size="12">NC1</text>
<text x="2543" y="2456" font-size="12">16</text>
<text x="2526" y="2464" font-size="12" text-anchor="end">OUT1+</text>
<text x="2418" y="2471" font-size="12" text-anchor="end">2</text>
<text x="2434" y="2479" font-size="12">VC1</text>
<text x="2543" y="2471" font-size="12">15</text>
<text x="2526" y="2479" font-size="12" text-anchor="end">NC3</text>
<text x="2418" y="2486" font-size="12" text-anchor="end">3</text>
<text x="2434" y="2494" font-size="12">NC2</text>
<text x="2543" y="2486" font-size="12">14</text>
<text x="2526" y="2494" font-size="12" text-anchor="end">PGND1</text>
<text x="2418" y="2501" font-size="12" text-anchor="end">4</text>
<text x="2434" y="2509" font-size="12">VI(1)</text>
<text x="2543" y="2501" font-size="12">13</text>
<text x="2526" y="2509" font-size="12" text-anchor="end">OUT1-</text>
<text x="2418" y="2516" font-size="12" text-anchor="end">5</text>
<text x="2434" y="2524" font-size="12">VP</text>
<text x="2543" y="2516" font-size="12">12</text>
<text x="2526" y="2524" font-size="12" text-anchor="end">OUT2-</text>
<text x="2418" y="2531" font-size="12" text-anchor="end">6</text>
<text x="2434" y="2539" font-size="12">VI(2)</text>
<text x="2543" y="2531" font-size="12">11</text>
<text x="2526" y="2539" font-size="12" text-anchor="end">NC4</text>
<text x="2418" y="2546" font-size="12" text-anchor="end">7</text>
<text x="2434" y="2554" font-size="12">SGND</text>
<text x="2543" y="2546" font-size="12">10</text>
<text x="2526" y="2554" font-size="12" text-anchor="end">PGND2</text>
<text x="2418" y="2561" font-size="12" text-anchor="end">8</text>
<text x="2434" y="2569" font-size="12">VC2</text>
<text x="2543" y="2561" font-size="12">9</text>
<text x="2526" y="2569" font-size="12" text-anchor="end">OUT2+</text>
<text x="2143" y="2464">R95</text>
<text x="2143" y="2493">27k</text>
<text transform="translate(1919 2585) rotate(-90)">5V</text>
<text transform="translate(1985 2563) rotate(-90)">U$21</text>
<text transform="translate(2046 2563) rotate(-90)">33u</text>
<text x="2104" y="2607" fill="#a53c3c" font-size="11">+</text>
<text x="2105" y="2685" text-anchor="middle">GND</text>
<text x="2045" y="2605">0,1uF</text>
<text x="2055" y="2636">C88</text>
<text x="2127" y="2604">C87</text>
<text x="2127" y="2634">100x10</text>
<text x="2180" y="2685" text-anchor="middle">GND</text>
<text transform="translate(2157 2600) rotate(-90)">R97</text>
<text transform="translate(2186 2601) rotate(-90)">4k7</text>
<text transform="translate(2186 2630) rotate(-90)">R96</text>
<text transform="translate(2216 2631) rotate(-90)">4k7</text>
<text transform="translate(2222 2579) rotate(-90)">0,1uF</text>
<text transform="translate(2252 2568) rotate(-90)">C90</text>
<text transform="translate(2282 2549) rotate(-90)">0,1uF</text>
<text transform="translate(2312 2538) rotate(-90)">C89</text>
<text x="2239" y="2607" fill="#a53c3c" font-size="11">+</text>
<text x="2285" y="2685" text-anchor="middle">GND</text>
<text x="2261" y="2604">C91</text>
<text x="2262" y="2634">1x10</text>
<text transform="translate(2305 2605) rotate(-90)">10k</text>
<text transform="translate(2334 2574) rotate(-90)">U$26</text>
<text x="2360" y="2685" text-anchor="middle">GND</text>
<text x="2570" y="2685" text-anchor="middle">GND</text>
<text transform="translate(2719 2443) rotate(-90)">LAOUT1</text>
<text transform="translate(2734 2443) rotate(-90)">LAOUT2</text>
<text transform="translate(2749 2443) rotate(-90)">RAOUT1</text>
<text transform="translate(2764 2443) rotate(-90)">RAOUT2</text>
<text transform="translate(3096 1027) rotate(-90)">3.3V</text>
<text x="2972" y="997" font-size="12">7</text>
<text x="2965" y="1013" font-size="9">GND</text>
<text x="3028" y="997" font-size="12">14</text>
<text x="3020" y="1013" font-size="9">VCC</text>
<text transform="translate(3012 1028) rotate(-90)">IC3P</text>
<text x="2932" y="1120">GND</text>
<text x="2973" y="1046" font-size="12" text-anchor="middle">1</text>
<text x="2973" y="1076" font-size="12" text-anchor="middle">2</text>
<text x="3037" y="1058" font-size="12">3</text>
<text x="3020" y="1048">IC3A</text>
<text x="3021" y="1092">74HC00D</text>
<text x="2973" y="1121" font-size="12" text-anchor="middle">4</text>
<text x="2973" y="1151" font-size="12" text-anchor="middle">5</text>
<text x="3037" y="1133" font-size="12">6</text>
<text x="3020" y="1123">IC3B</text>
<text x="3021" y="1167">74HC00D</text>
<text x="2973" y="1211" font-size="12" text-anchor="middle">9</text>
<text x="2973" y="1241" font-size="12" text-anchor="middle">10</text>
<text x="3037" y="1223" font-size="12">8</text>
<text x="3020" y="1213">IC3C</text>
<text x="3021" y="1257">74HC00D</text>
<text x="2973" y="1286" font-size="12" text-anchor="middle">12</text>
<text x="2973" y="1316" font-size="12" text-anchor="middle">13</text>
<text x="3037" y="1298" font-size="12">11</text>
<text x="3020" y="1288">IC3D</text>
<text x="3021" y="1332">74HC00D</text>
<text x="2885" y="1109">L_PWM</text>
<text x="2885" y="1440" text-anchor="middle">GND</text>
<text transform="translate(2875 1387) rotate(-90)">R58</text>
<text transform="translate(2904 1387) rotate(-90)">56k</text>
<text x="2885" y="1183">L_DIR</text>
<text x="3185" y="1092">U1</text>
<text x="3185" y="1227">IR2102SO-8</text>
<text x="3168" y="1106" font-size="12" text-anchor="middle">1</text>
<text x="3199" y="1114" font-size="12">VCC</text>
<text x="3168" y="1136" font-size="12" text-anchor="middle">2</text>
<text x="3199" y="1144" font-size="12">HIN</text>
<text x="3168" y="1166" font-size="12" text-anchor="middle">3</text>
<text x="3199" y="1174" font-size="12">LIN</text>
<text x="3168" y="1196" font-size="12" text-anchor="middle">4</text>
<text x="3199" y="1204" font-size="12">COM</text>
<text x="3292" y="1106" font-size="12" text-anchor="middle">8</text>
<text x="3261" y="1114" font-size="12" text-anchor="end">VB</text>
<text x="3292" y="1136" font-size="12" text-anchor="middle">7</text>
<text x="3261" y="1144" font-size="12" text-anchor="end">HO</text>
<text x="3292" y="1166" font-size="12" text-anchor="middle">6</text>
<text x="3261" y="1174" font-size="12" text-anchor="end">VS</text>
<text x="3292" y="1196" font-size="12" text-anchor="middle">5</text>
<text x="3261" y="1204" font-size="12" text-anchor="end">LO</text>
<text x="3110" y="1044" fill="#a53c3c" font-size="11">+</text>
<text transform="translate(3123 1080) rotate(-90)">C32</text>
<text transform="translate(3096 1107) rotate(-90)">1000x16</text>
<text transform="translate(3123 1128) rotate(-90)">C28</text>
<text transform="translate(3094 1147) rotate(-90)">0,47uF</text>
<text x="3218" y="1051">D4</text>
<text x="3218" y="1083">BAS16</text>
<text transform="translate(3363 1098) rotate(-90)">C29</text>
<text transform="translate(3333 1117) rotate(-90)">0,47UF</text>
<text x="3383" y="1128">8,2</text>
<text x="3378" y="1155">R54</text>
<text x="3383" y="1188">8,2</text>
<text x="3378" y="1216">R55</text>
<text x="3368" y="1103">U$31G$1</text>
<text x="3374" y="1118">IRF7103</text>
<text x="3368" y="1164">U$31G$2</text>
<text x="3374" y="1178">IRF7103</text>
<text x="3185" y="1302">U2</text>
<text x="3185" y="1437">IR2102SO-8</text>
<text x="3168" y="1316" font-size="12" text-anchor="middle">1</text>
<text x="3199" y="1324" font-size="12">VCC</text>
<text x="3168" y="1346" font-size="12" text-anchor="middle">2</text>
<text x="3199" y="1354" font-size="12">HIN</text>
<text x="3168" y="1376" font-size="12" text-anchor="middle">3</text>
<text x="3199" y="1384" font-size="12">LIN</text>
<text x="3168" y="1406" font-size="12" text-anchor="middle">4</text>
<text x="3199" y="1414" font-size="12">COM</text>
<text x="3292" y="1316" font-size="12" text-anchor="middle">8</text>
<text x="3261" y="1324" font-size="12" text-anchor="end">VB</text>
<text x="3292" y="1346" font-size="12" text-anchor="middle">7</text>
<text x="3261" y="1354" font-size="12" text-anchor="end">HO</text>
<text x="3292" y="1376" font-size="12" text-anchor="middle">6</text>
<text x="3261" y="1384" font-size="12" text-anchor="end">VS</text>
<text x="3292" y="1406" font-size="12" text-anchor="middle">5</text>
<text x="3261" y="1414" font-size="12" text-anchor="end">LO</text>
<text x="3110" y="1254" fill="#a53c3c" font-size="11">+</text>
<text transform="translate(3123 1290) rotate(-90)">C33</text>
<text transform="translate(3096 1317) rotate(-90)">1000x16</text>
<text transform="translate(3123 1338) rotate(-90)">C30</text>
<text transform="translate(3094 1357) rotate(-90)">0,47uF</text>
<text x="3218" y="1261">D5</text>
<text x="3218" y="1293">BAS16</text>
<text transform="translate(3363 1308) rotate(-90)">C31</text>
<text transform="translate(3333 1327) rotate(-90)">0,47UF</text>
<text x="3359" y="1338">R56</text>
<text x="3359" y="1366">8,2</text>
<text x="3359" y="1398">R57</text>
<text x="3359" y="1426">8,2</text>
<text x="3368" y="1313">U$32G$1</text>
<text x="3374" y="1328">IRF7103</text>
<text x="3368" y="1374">U$32G$2</text>
<text x="3374" y="1388">IRF7103</text>
<text x="3315" y="994">12V</text>
<text transform="translate(3366 1260) rotate(-90)">12V</text>
<text x="3470" y="1260" text-anchor="middle">GND</text>
<text x="3470" y="1470" text-anchor="middle">GND</text>
<text x="3560" y="1241" font-size="12" text-anchor="end">1</text>
<text x="3560" y="1256" font-size="12" text-anchor="end">2</text>
<text x="3544" y="1223">Left Drive</text>
<text x="3581" y="1287">JP7</text>
<text transform="translate(3096 1522) rotate(-90)">3.3V</text>
<text x="2972" y="1492" font-size="12">7</text>
<text x="2965" y="1508" font-size="9">GND</text>
<text x="3028" y="1492" font-size="12">14</text>
<text x="3020" y="1508" font-size="9">VCC</text>
<text transform="translate(3012 1523) rotate(-90)">IC4P</text>
<text x="2932" y="1615">GND</text>
<text x="2973" y="1541" font-size="12" text-anchor="middle">1</text>
<text x="2973" y="1571" font-size="12" text-anchor="middle">2</text>
<text x="3037" y="1553" font-size="12">3</text>
<text x="3020" y="1543">IC4A</text>
<text x="3021" y="1587">74HC00D</text>
<text x="2973" y="1616" font-size="12" text-anchor="middle">4</text>
<text x="2973" y="1646" font-size="12" text-anchor="middle">5</text>
<text x="3037" y="1628" font-size="12">6</text>
<text x="3020" y="1618">IC4B</text>
<text x="3021" y="1662">74HC00D</text>
<text x="2973" y="1706" font-size="12" text-anchor="middle">9</text>
<text x="2973" y="1736" font-size="12" text-anchor="middle">10</text>
<text x="3037" y="1718" font-size="12">8</text>
<text x="3020" y="1708">IC4C</text>
<text x="3021" y="1752">74HC00D</text>
<text x="2973" y="1781" font-size="12" text-anchor="middle">12</text>
<text x="2973" y="1811" font-size="12" text-anchor="middle">13</text>
<text x="3037" y="1793" font-size="12">11</text>
<text x="3020" y="1783">IC4D</text>
<text x="3021" y="1827">74HC00D</text>
<text x="2885" y="1604">R_PWM</text>
<text x="2885" y="1935" text-anchor="middle">GND</text>
<text transform="translate(2875 1882) rotate(-90)">R53</text>
<text transform="translate(2904 1882) rotate(-90)">56k</text>
<text x="2885" y="1678">R_DIR</text>
<text x="3185" y="1587">U3</text>
<text x="3185" y="1722">IR2102SO-8</text>
<text x="3168" y="1601" font-size="12" text-anchor="middle">1</text>
<text x="3199" y="1609" font-size="12">VCC</text>
<text x="3168" y="1631" font-size="12" text-anchor="middle">2</text>
<text x="3199" y="1639" font-size="12">HIN</text>
<text x="3168" y="1661" font-size="12" text-anchor="middle">3</text>
<text x="3199" y="1669" font-size="12">LIN</text>
<text x="3168" y="1691" font-size="12" text-anchor="middle">4</text>
<text x="3199" y="1699" font-size="12">COM</text>
<text x="3292" y="1601" font-size="12" text-anchor="middle">8</text>
<text x="3261" y="1609" font-size="12" text-anchor="end">VB</text>
<text x="3292" y="1631" font-size="12" text-anchor="middle">7</text>
<text x="3261" y="1639" font-size="12" text-anchor="end">HO</text>
<text x="3292" y="1661" font-size="12" text-anchor="middle">6</text>
<text x="3261" y="1669" font-size="12" text-anchor="end">VS</text>
<text x="3292" y="1691" font-size="12" text-anchor="middle">5</text>
<text x="3261" y="1699" font-size="12" text-anchor="end">LO</text>
<text x="3110" y="1539" fill="#a53c3c" font-size="11">+</text>
<text transform="translate(3123 1575) rotate(-90)">C38</text>
<text transform="translate(3096 1602) rotate(-90)">1000x16</text>
<text transform="translate(3123 1623) rotate(-90)">C34</text>
<text transform="translate(3094 1642) rotate(-90)">0,47uF</text>
<text x="3218" y="1546">D6</text>
<text x="3218" y="1578">BAS16</text>
<text transform="translate(3363 1593) rotate(-90)">C35</text>
<text transform="translate(3333 1612) rotate(-90)">0,47UF</text>
<text x="3383" y="1623">8,2</text>
<text x="3378" y="1650">R59</text>
<text x="3383" y="1683">8,2</text>
<text x="3378" y="1711">R60</text>
<text x="3368" y="1598">U$33G$1</text>
<text x="3374" y="1613">IRF7103</text>
<text x="3368" y="1659">U$33G$2</text>
<text x="3374" y="1673">IRF7103</text>
<text x="3185" y="1797">U4</text>
<text x="3185" y="1932">IR2102SO-8</text>
<text x="3168" y="1811" font-size="12" text-anchor="middle">1</text>
<text x="3199" y="1819" font-size="12">VCC</text>
<text x="3168" y="1841" font-size="12" text-anchor="middle">2</text>
<text x="3199" y="1849" font-size="12">HIN</text>
<text x="3168" y="1871" font-size="12" text-anchor="middle">3</text>
<text x="3199" y="1879" font-size="12">LIN</text>
<text x="3168" y="1901" font-size="12" text-anchor="middle">4</text>
<text x="3199" y="1909" font-size="12">COM</text>
<text x="3292" y="1811" font-size="12" text-anchor="middle">8</text>
<text x="3261" y="1819" font-size="12" text-anchor="end">VB</text>
<text x="3292" y="1841" font-size="12" text-anchor="middle">7</text>
<text x="3261" y="1849" font-size="12" text-anchor="end">HO</text>
<text x="3292" y="1871" font-size="12" text-anchor="middle">6</text>
<text x="3261" y="1879" font-size="12" text-anchor="end">VS</text>
<text x="3292" y="1901" font-size="12" text-anchor="middle">5</text>
<text x="3261" y="1909" font-size="12" text-anchor="end">LO</text>
<text x="3110" y="1749" fill="#a53c3c" font-size="11">+</text>
<text transform="translate(3123 1785) rotate(-90)">C39</text>
<text transform="translate(3096 1812) rotate(-90)">1000x16</text>
<text transform="translate(3123 1833) rotate(-90)">C36</text>
<text transform="translate(3094 1852) rotate(-90)">0,47uF</text>
<text x="3218" y="1756">D7</text>
<text x="3218" y="1788">BAS16</text>
<text transform="translate(3363 1803) rotate(-90)">C37</text>
<text transform="translate(3333 1822) rotate(-90)">0,47UF</text>
<text x="3359" y="1833">R61</text>
<text x="3359" y="1861">8,2</text>
<text x="3359" y="1893">R62</text>
<text x="3359" y="1921">8,2</text>
<text x="3368" y="1808">U$34G$1</text>
<text x="3374" y="1823">IRF7103</text>
<text x="3368" y="1869">U$34G$2</text>
<text x="3374" y="1883">IRF7103</text>
<text x="3315" y="1488">12V</text>
<text transform="translate(3366 1755) rotate(-90)">12V</text>
<text x="3470" y="1755" text-anchor="middle">GND</text>
<text x="3470" y="1965" text-anchor="middle">GND</text>
<text x="3560" y="1736" font-size="12" text-anchor="end">1</text>
<text x="3560" y="1751" font-size="12" text-anchor="end">2</text>
<text x="3544" y="1718">Right Drive</text>
<text x="3581" y="1782">JP8</text>
<text x="3185" y="2127">U5</text>
<text x="3185" y="2262">IR2102SO-8</text>
<text x="3168" y="2141" font-size="12" text-anchor="middle">1</text>
<text x="3199" y="2149" font-size="12">VCC</text>
<text x="3168" y="2171" font-size="12" text-anchor="middle">2</text>
<text x="3199" y="2179" font-size="12">HIN</text>
<text x="3168" y="2201" font-size="12" text-anchor="middle">3</text>
<text x="3199" y="2209" font-size="12">LIN</text>
<text x="3168" y="2231" font-size="12" text-anchor="middle">4</text>
<text x="3199" y="2239" font-size="12">COM</text>
<text x="3292" y="2141" font-size="12" text-anchor="middle">8</text>
<text x="3261" y="2149" font-size="12" text-anchor="end">VB</text>
<text x="3292" y="2171" font-size="12" text-anchor="middle">7</text>
<text x="3261" y="2179" font-size="12" text-anchor="end">HO</text>
<text x="3292" y="2201" font-size="12" text-anchor="middle">6</text>
<text x="3261" y="2209" font-size="12" text-anchor="end">VS</text>
<text x="3292" y="2231" font-size="12" text-anchor="middle">5</text>
<text x="3261" y="2239" font-size="12" text-anchor="end">LO</text>
<text x="2885" y="2173">S1_PWM</text>
<text x="2885" y="2202">S2_PWM</text>
<text x="2985" y="2032">12V</text>
<text transform="translate(2982 2150) rotate(-90)">R63</text>
<text transform="translate(3011 2150) rotate(-90)">56k</text>
<text transform="translate(3027 2150) rotate(-90)">R64</text>
<text transform="translate(3056 2150) rotate(-90)">56k</text>
<text transform="translate(3093 2077) rotate(-90)">C40</text>
<text transform="translate(3122 2075) rotate(-90)">1000x16</text>
<text transform="translate(3319 2152) rotate(-90)">0,47uF</text>
<text transform="translate(3349 2134) rotate(-90)">C63</text>
<text transform="translate(3093 2183) rotate(-90)">0,47uF</text>
<text transform="translate(3123 2163) rotate(-90)">C41</text>
<text x="3373" y="2089">R66</text>
<text x="3373" y="2117">8,2</text>
<text x="3373" y="2284">R65</text>
<text x="3373" y="2312">8,2</text>
<text x="3320" y="2310" text-anchor="middle">GND</text>
<text x="3368" y="2064">U$35G$1</text>
<text x="3374" y="2078">IRF7103</text>
<text x="3368" y="2259">U$35G$2</text>
<text x="3374" y="2273">IRF7103</text>
<text x="3470" y="2160" text-anchor="middle">GND</text>
<text x="3470" y="2355" text-anchor="middle">GND</text>
<text transform="translate(3591 2161) rotate(-90)">12V</text>
<text transform="translate(3552 2164) rotate(-90)">D8</text>
<text transform="translate(3522 2212) rotate(-90)">MBR10H100CT</text>
<text x="3560" y="2021" font-size="12" text-anchor="end">1</text>
<text x="3560" y="2036" font-size="12" text-anchor="end">2</text>
<text transform="translate(3435 2019) rotate(-90)">12V</text>
<text x="3509" y="2003">Service Drive 1</text>
<text x="3581" y="2066">JP9</text>
<text x="3560" y="2216" font-size="12" text-anchor="end">1</text>
<text x="3560" y="2231" font-size="12" text-anchor="end">2</text>
<text transform="translate(3435 2214) rotate(-90)">12V</text>
<text x="3509" y="2198">Service Drive 2</text>
<text x="3574" y="2261">JP10</text>
</g>
</svg>
</body></html>
